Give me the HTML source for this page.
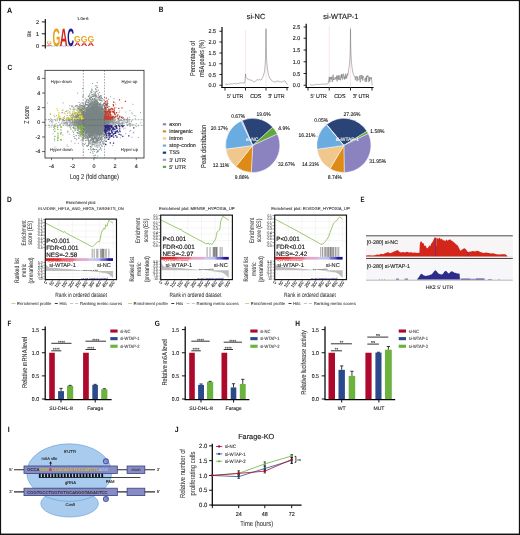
<!DOCTYPE html>
<html><head><meta charset="utf-8"><title>Figure</title>
<style>
html,body{margin:0;padding:0;background:#fff;}
body{width:520px;height:535px;overflow:hidden;font-family:"Liberation Sans",sans-serif;}
svg{display:block;position:absolute;left:0;top:0;}
svg text{font-family:"Liberation Sans",sans-serif;text-rendering:geometricPrecision;}
.frame{position:absolute;left:0;top:0;width:518px;height:532.5px;border-style:solid;border-color:#111;border-width:1px 1px 1.5px 1px;}
</style></head><body>
<svg width="520" height="535" viewBox="0 0 520 535">
<rect x="0" y="0" width="520" height="535" fill="#ffffff"/>
<g opacity="0.999">
<line x1="45.30" y1="18.90" x2="45.30" y2="48.60" stroke="#000" stroke-width="1.1"/>
<line x1="41.80" y1="21.90" x2="45.30" y2="21.90" stroke="#000" stroke-width="0.9"/>
<text transform="translate(39.00,23.85)" font-size="5.5" text-anchor="end" fill="#1c1c1c" stroke="#1c1c1c" stroke-width="0.121">2</text>
<line x1="41.80" y1="33.80" x2="45.30" y2="33.80" stroke="#000" stroke-width="0.9"/>
<text transform="translate(39.00,35.75)" font-size="5.5" text-anchor="end" fill="#1c1c1c" stroke="#1c1c1c" stroke-width="0.121">1</text>
<line x1="41.80" y1="45.80" x2="45.30" y2="45.80" stroke="#000" stroke-width="0.9"/>
<text transform="translate(39.00,47.75)" font-size="5.5" text-anchor="end" fill="#1c1c1c" stroke="#1c1c1c" stroke-width="0.121">0</text>
<text transform="translate(30.90,34.00) rotate(-90) scale(0.9,1)" font-size="5.2" text-anchor="middle" fill="#1c1c1c" stroke="#1c1c1c" stroke-width="0.114">Bit</text>
<text transform="translate(77.00,19.80)" font-size="4.1" text-anchor="start" fill="#1c1c1c" stroke="#1c1c1c" stroke-width="0.090">1.0e-6</text>
<text transform="translate(52.40,45.50) scale(1.003,2.524)" font-size="10.0" font-weight="bold" fill="#e8a21c">G</text>
<text transform="translate(59.80,45.50) scale(1.080,2.524)" font-size="10.0" font-weight="bold" fill="#d4281c">A</text>
<text transform="translate(67.20,45.50) scale(0.942,2.524)" font-size="10.0" font-weight="bold" fill="#1c1c8c">C</text>
<text transform="translate(74.00,42.40) scale(0.861,0.850)" font-size="10.0" font-weight="bold" fill="#e8a21c">G</text>
<text transform="translate(74.00,45.90) scale(0.928,0.521)" font-size="10.0" font-weight="bold" fill="#d4281c">A</text>
<text transform="translate(80.75,42.40) scale(0.861,0.850)" font-size="10.0" font-weight="bold" fill="#e8a21c">G</text>
<text transform="translate(80.75,45.90) scale(0.928,0.521)" font-size="10.0" font-weight="bold" fill="#d4281c">A</text>
<text transform="translate(87.50,42.40) scale(0.861,0.850)" font-size="10.0" font-weight="bold" fill="#e8a21c">G</text>
<text transform="translate(87.50,45.90) scale(0.928,0.521)" font-size="10.0" font-weight="bold" fill="#d4281c">A</text>
<text transform="translate(46.40,44.20) scale(0.720,0.412)" font-size="10.0" font-weight="bold" fill="#e8a21c">G</text>
<text transform="translate(46.40,45.80) scale(0.776,0.233)" font-size="10.0" font-weight="bold" fill="#d4281c">A</text>
<line x1="45.50" y1="46.00" x2="74.00" y2="46.00" stroke="#5a66c8" stroke-width="0.55" stroke-dasharray="1.6 1.1"/>
<line x1="47.10" y1="46.00" x2="74.00" y2="46.00" stroke="#d8c840" stroke-width="0.55" stroke-dasharray="0.7 4.7"/>
<line x1="222.00" y1="27.00" x2="222.00" y2="88.10" stroke="#000" stroke-width="1.2"/>
<line x1="221.45" y1="87.50" x2="288.60" y2="87.50" stroke="#000" stroke-width="1.2"/>
<line x1="219.40" y1="31.25" x2="222.00" y2="31.25" stroke="#111" stroke-width="0.9"/>
<text transform="translate(216.00,33.25) scale(0.92,1)" font-size="5.8" text-anchor="end" fill="#1c1c1c" stroke="#1c1c1c" stroke-width="0.128">2.5</text>
<line x1="219.40" y1="42.00" x2="222.00" y2="42.00" stroke="#111" stroke-width="0.9"/>
<text transform="translate(216.00,44.00) scale(0.92,1)" font-size="5.8" text-anchor="end" fill="#1c1c1c" stroke="#1c1c1c" stroke-width="0.128">2.0</text>
<line x1="219.40" y1="53.00" x2="222.00" y2="53.00" stroke="#111" stroke-width="0.9"/>
<text transform="translate(216.00,55.00) scale(0.92,1)" font-size="5.8" text-anchor="end" fill="#1c1c1c" stroke="#1c1c1c" stroke-width="0.128">1.5</text>
<line x1="219.40" y1="63.75" x2="222.00" y2="63.75" stroke="#111" stroke-width="0.9"/>
<text transform="translate(216.00,65.75) scale(0.92,1)" font-size="5.8" text-anchor="end" fill="#1c1c1c" stroke="#1c1c1c" stroke-width="0.128">1.0</text>
<line x1="219.40" y1="74.50" x2="222.00" y2="74.50" stroke="#111" stroke-width="0.9"/>
<text transform="translate(216.00,76.50) scale(0.92,1)" font-size="5.8" text-anchor="end" fill="#1c1c1c" stroke="#1c1c1c" stroke-width="0.128">0.5</text>
<line x1="219.40" y1="85.25" x2="222.00" y2="85.25" stroke="#111" stroke-width="0.9"/>
<text transform="translate(216.00,87.25) scale(0.92,1)" font-size="5.8" text-anchor="end" fill="#1c1c1c" stroke="#1c1c1c" stroke-width="0.128">0.0</text>
<line x1="225.00" y1="87.50" x2="225.00" y2="90.50" stroke="#111" stroke-width="0.9"/>
<line x1="245.50" y1="87.50" x2="245.50" y2="90.50" stroke="#111" stroke-width="0.9"/>
<line x1="266.00" y1="87.50" x2="266.00" y2="90.50" stroke="#111" stroke-width="0.9"/>
<line x1="287.00" y1="87.50" x2="287.00" y2="90.50" stroke="#111" stroke-width="0.9"/>
<text transform="translate(235.25,98.20) scale(0.95,1)" font-size="5.6" text-anchor="middle" fill="#1c1c1c" stroke="#1c1c1c" stroke-width="0.123">5' UTR</text>
<text transform="translate(255.75,98.20) scale(0.95,1)" font-size="5.6" text-anchor="middle" fill="#1c1c1c" stroke="#1c1c1c" stroke-width="0.123">CDS</text>
<text transform="translate(276.50,98.20) scale(0.95,1)" font-size="5.6" text-anchor="middle" fill="#1c1c1c" stroke="#1c1c1c" stroke-width="0.123">3' UTR</text>
<line x1="245.50" y1="30.05" x2="245.50" y2="87.50" stroke="#f4cccc" stroke-width="0.5"/>
<line x1="266.00" y1="30.05" x2="266.00" y2="87.50" stroke="#f4cccc" stroke-width="0.5"/>
<text transform="translate(256.00,19.20)" font-size="7.4" text-anchor="middle" fill="#222" stroke="#222" stroke-width="0.163">si-NC</text>
<polyline points="225.00,84.56 225.50,84.32 226.00,84.39 226.50,84.21 227.00,84.15 227.50,84.48 228.00,84.47 228.50,83.90 229.00,84.24 229.50,84.22 230.00,83.69 230.50,83.99 231.00,83.71 231.50,83.91 232.00,83.77 232.50,84.05 233.00,83.69 233.50,83.50 234.00,83.69 234.50,83.51 235.00,83.52 235.50,83.87 236.00,83.39 236.50,83.46 237.00,83.61 237.50,83.74 238.00,83.17 238.50,83.38 239.00,83.19 239.50,83.04 240.00,83.11 240.50,82.94 241.00,83.24 241.50,82.94 242.00,83.14 242.50,82.78 243.00,82.78 243.50,83.25 244.00,83.19 244.50,83.10 245.00,80.93 245.50,74.02 246.00,77.47 247.00,78.55 248.50,79.42 249.50,80.06 250.10,80.08 250.70,79.74 251.30,80.15 251.90,80.38 252.50,81.04 253.10,81.62 253.70,81.81 254.30,81.94 254.90,81.47 255.50,81.23 256.10,80.44 256.70,79.97 257.30,79.50 257.90,79.72 258.50,80.07 259.10,79.55 259.70,79.65 260.30,79.82 260.90,80.03 261.50,79.52 262.50,77.47 263.50,75.53 264.60,71.21 265.20,64.73 265.60,56.09 265.85,42.05 266.00,28.66 266.15,42.05 266.40,55.01 266.90,63.65 267.60,70.13 268.60,75.53 270.00,78.77 272.00,80.50 273.00,81.63 273.60,81.48 274.20,81.86 274.80,82.15 275.40,82.24 276.00,81.54 276.60,81.20 277.20,81.55 277.80,80.96 278.40,81.23 279.00,81.56 279.60,81.71 280.20,81.65 280.80,81.74 281.40,82.29 282.00,81.80 282.60,81.93 283.20,81.25 283.80,81.31 284.40,80.90 285.00,80.93 286.20,82.66 287.40,84.82" fill="none" stroke="#6e6e6e" stroke-width="0.5" stroke-linejoin="round"/>
<text transform="translate(195.20,58.50) rotate(-90) scale(0.78,1)" font-size="7.2" text-anchor="middle" fill="#1c1c1c" stroke="#1c1c1c" stroke-width="0.058">Percentage of</text>
<text transform="translate(204.40,58.50) rotate(-90) scale(0.76,1)" font-size="7.2" text-anchor="middle" fill="#1c1c1c" stroke="#1c1c1c" stroke-width="0.058">m6A peaks (%)</text>
<line x1="306.20" y1="23.75" x2="306.20" y2="88.10" stroke="#000" stroke-width="1.2"/>
<line x1="305.65" y1="87.50" x2="373.60" y2="87.50" stroke="#000" stroke-width="1.2"/>
<line x1="303.60" y1="27.00" x2="306.20" y2="27.00" stroke="#111" stroke-width="0.9"/>
<text transform="translate(300.20,29.00) scale(0.92,1)" font-size="5.8" text-anchor="end" fill="#1c1c1c" stroke="#1c1c1c" stroke-width="0.128">2.5</text>
<line x1="303.60" y1="38.25" x2="306.20" y2="38.25" stroke="#111" stroke-width="0.9"/>
<text transform="translate(300.20,40.25) scale(0.92,1)" font-size="5.8" text-anchor="end" fill="#1c1c1c" stroke="#1c1c1c" stroke-width="0.128">2.0</text>
<line x1="303.60" y1="50.00" x2="306.20" y2="50.00" stroke="#111" stroke-width="0.9"/>
<text transform="translate(300.20,52.00) scale(0.92,1)" font-size="5.8" text-anchor="end" fill="#1c1c1c" stroke="#1c1c1c" stroke-width="0.128">1.5</text>
<line x1="303.60" y1="61.75" x2="306.20" y2="61.75" stroke="#111" stroke-width="0.9"/>
<text transform="translate(300.20,63.75) scale(0.92,1)" font-size="5.8" text-anchor="end" fill="#1c1c1c" stroke="#1c1c1c" stroke-width="0.128">1.0</text>
<line x1="303.60" y1="73.50" x2="306.20" y2="73.50" stroke="#111" stroke-width="0.9"/>
<text transform="translate(300.20,75.50) scale(0.92,1)" font-size="5.8" text-anchor="end" fill="#1c1c1c" stroke="#1c1c1c" stroke-width="0.128">0.5</text>
<line x1="303.60" y1="85.25" x2="306.20" y2="85.25" stroke="#111" stroke-width="0.9"/>
<text transform="translate(300.20,87.25) scale(0.92,1)" font-size="5.8" text-anchor="end" fill="#1c1c1c" stroke="#1c1c1c" stroke-width="0.128">0.0</text>
<line x1="308.00" y1="87.50" x2="308.00" y2="90.50" stroke="#111" stroke-width="0.9"/>
<line x1="329.25" y1="87.50" x2="329.25" y2="90.50" stroke="#111" stroke-width="0.9"/>
<line x1="350.50" y1="87.50" x2="350.50" y2="90.50" stroke="#111" stroke-width="0.9"/>
<line x1="372.00" y1="87.50" x2="372.00" y2="90.50" stroke="#111" stroke-width="0.9"/>
<text transform="translate(318.62,98.20) scale(0.95,1)" font-size="5.6" text-anchor="middle" fill="#1c1c1c" stroke="#1c1c1c" stroke-width="0.123">5' UTR</text>
<text transform="translate(339.88,98.20) scale(0.95,1)" font-size="5.6" text-anchor="middle" fill="#1c1c1c" stroke="#1c1c1c" stroke-width="0.123">CDS</text>
<text transform="translate(361.25,98.20) scale(0.95,1)" font-size="5.6" text-anchor="middle" fill="#1c1c1c" stroke="#1c1c1c" stroke-width="0.123">3' UTR</text>
<line x1="329.25" y1="25.80" x2="329.25" y2="87.50" stroke="#f4cccc" stroke-width="0.5"/>
<line x1="350.50" y1="25.80" x2="350.50" y2="87.50" stroke="#f4cccc" stroke-width="0.5"/>
<text transform="translate(340.80,19.20)" font-size="7.4" text-anchor="middle" fill="#222" stroke="#222" stroke-width="0.163">si-WTAP-1</text>
<polyline points="310.00,85.01 310.50,84.71 311.00,85.06 311.50,85.16 312.00,84.83 312.50,85.12 313.00,84.99 313.50,84.84 314.00,84.70 314.50,84.92 315.00,84.95 315.50,84.46 316.00,84.73 316.50,84.34 317.00,84.34 317.50,84.60 318.00,84.52 318.50,84.46 319.00,84.35 319.50,84.35 320.00,84.34 320.50,84.27 321.00,84.06 321.50,84.27 322.00,84.28 322.50,84.08 323.00,84.32 323.50,84.25 324.00,83.84 324.50,84.07 325.00,84.02 325.50,84.29 326.00,84.03 326.50,83.90 327.00,84.19 327.50,83.82 328.20,83.39 328.80,80.12 329.20,76.86 329.50,77.68 329.83,82.16 330.16,77.62 330.49,78.85 330.82,77.12 331.15,79.66 331.48,76.81 331.81,76.51 332.14,82.14 332.47,81.79 332.80,76.87 333.13,74.54 333.46,80.14 333.79,78.47 334.12,77.34 334.45,79.45 334.78,79.06 335.11,79.42 335.44,78.92 335.77,77.08 336.10,79.38 336.43,78.72 336.76,75.54 337.09,81.40 337.42,77.06 337.75,75.70 338.08,79.02 338.41,79.67 338.74,75.01 339.07,79.44 339.40,79.80 339.73,77.79 340.06,75.67 340.39,80.34 340.72,78.55 341.05,78.41 341.38,74.41 341.71,77.49 342.04,74.14 342.37,79.53 342.70,78.16 343.03,75.63 343.36,73.72 343.69,77.11 344.02,78.85 344.35,79.63 344.68,76.35 345.01,78.99 345.34,74.06 345.67,73.76 346.00,78.90 346.30,75.46 346.80,77.79 347.30,73.60 347.80,75.46 348.40,71.27 349.00,67.78 349.60,63.12 350.10,54.96 350.35,40.98 350.50,28.86 350.65,40.98 350.95,53.80 351.40,60.78 351.90,66.61 352.50,70.80 353.20,73.60 354.00,75.46 355.00,77.56 355.40,80.21 355.73,76.39 356.06,77.58 356.39,76.40 356.72,79.73 357.05,81.28 357.38,80.11 357.71,76.49 358.04,80.26 358.37,79.72 358.70,79.21 359.03,79.19 359.36,79.26 359.69,75.57 360.02,81.09 360.35,82.19 360.68,75.41 361.01,75.86 361.34,75.09 361.67,79.08 362.00,75.36 362.33,75.52 362.66,80.62 362.99,76.84 363.32,76.18 363.65,77.43 363.98,78.47 364.31,80.13 364.64,79.76 364.97,80.58 365.30,81.73 365.63,77.97 365.96,80.15 366.29,76.37 366.62,81.90 366.95,75.69 367.28,77.21 367.61,75.55 367.94,75.75 368.27,75.72 368.60,78.05 368.93,82.13 369.26,76.84 369.59,80.98 369.92,80.05 370.25,77.43 370.58,78.43 370.91,79.23 371.40,77.09 371.80,81.75 372.30,85.25" fill="none" stroke="#6e6e6e" stroke-width="0.5" stroke-linejoin="round"/>
<rect x="162.80" y="123.20" width="3.30" height="2.15" fill="#8b83bf"/>
<text transform="translate(169.20,126.05)" font-size="5.4" text-anchor="start" fill="#1c1c1c" stroke="#1c1c1c" stroke-width="0.119">exon</text>
<rect x="162.80" y="130.30" width="3.30" height="2.15" fill="#dd8a16"/>
<text transform="translate(169.20,133.15)" font-size="5.4" text-anchor="start" fill="#1c1c1c" stroke="#1c1c1c" stroke-width="0.119">intergenic</text>
<rect x="162.80" y="137.40" width="3.30" height="2.15" fill="#f0c88e"/>
<text transform="translate(169.20,140.25)" font-size="5.4" text-anchor="start" fill="#1c1c1c" stroke="#1c1c1c" stroke-width="0.119">intron</text>
<rect x="162.80" y="144.50" width="3.30" height="2.15" fill="#6aace0"/>
<text transform="translate(169.20,147.35)" font-size="5.4" text-anchor="start" fill="#1c1c1c" stroke="#1c1c1c" stroke-width="0.119">stop-codon</text>
<rect x="162.80" y="151.60" width="3.30" height="2.15" fill="#1c3470"/>
<text transform="translate(169.20,154.45)" font-size="5.4" text-anchor="start" fill="#1c1c1c" stroke="#1c1c1c" stroke-width="0.119">TSS</text>
<rect x="162.80" y="158.70" width="3.30" height="2.15" fill="#9a98cc"/>
<text transform="translate(169.20,161.55)" font-size="5.4" text-anchor="start" fill="#1c1c1c" stroke="#1c1c1c" stroke-width="0.119">3' UTR</text>
<rect x="162.80" y="165.80" width="3.30" height="2.15" fill="#62a83a"/>
<text transform="translate(169.20,168.65)" font-size="5.4" text-anchor="start" fill="#1c1c1c" stroke="#1c1c1c" stroke-width="0.119">5' UTR</text>
<text transform="translate(205.70,146.30) rotate(-90) scale(0.8,1)" font-size="7.3" text-anchor="middle" fill="#1c1c1c" stroke="#1c1c1c" stroke-width="0.058">Peak distribution</text>
<path d="M252.70,145.40 L242.18,120.43 A27.1,27.1 0 0 1 272.75,127.16 Z" fill="#2a4478" stroke="#fff" stroke-width="0.45" stroke-linejoin="round"/>
<path d="M252.70,145.40 L272.75,127.16 A27.1,27.1 0 0 1 277.33,134.10 Z" fill="#62a83a" stroke="#fff" stroke-width="0.45" stroke-linejoin="round"/>
<path d="M252.70,145.40 L277.33,134.10 A27.1,27.1 0 0 1 251.30,172.46 Z" fill="#8b83bf" stroke="#fff" stroke-width="0.45" stroke-linejoin="round"/>
<path d="M252.70,145.40 L251.30,172.46 A27.1,27.1 0 0 1 235.82,166.60 Z" fill="#dd8a16" stroke="#fff" stroke-width="0.45" stroke-linejoin="round"/>
<path d="M252.70,145.40 L235.82,166.60 A27.1,27.1 0 0 1 225.86,149.11 Z" fill="#f0c88e" stroke="#fff" stroke-width="0.45" stroke-linejoin="round"/>
<path d="M252.70,145.40 L225.86,149.11 A27.1,27.1 0 0 1 241.13,120.89 Z" fill="#6aace0" stroke="#fff" stroke-width="0.45" stroke-linejoin="round"/>
<path d="M252.70,145.40 L241.13,120.89 A27.1,27.1 0 0 1 242.18,120.43 Z" fill="#a8a4d4" stroke="#fff" stroke-width="0.45" stroke-linejoin="round"/>
<text transform="translate(238.20,117.55) scale(0.94,1)" font-size="5.3" text-anchor="middle" fill="#1c1c1c" stroke="#1c1c1c" stroke-width="0.117">0.67%</text>
<text transform="translate(263.50,116.45) scale(0.94,1)" font-size="5.3" text-anchor="middle" fill="#1c1c1c" stroke="#1c1c1c" stroke-width="0.117">19.6%</text>
<text transform="translate(283.90,129.85) scale(0.94,1)" font-size="5.3" text-anchor="middle" fill="#1c1c1c" stroke="#1c1c1c" stroke-width="0.117">4.9%</text>
<text transform="translate(219.20,129.85) scale(0.94,1)" font-size="5.3" text-anchor="middle" fill="#1c1c1c" stroke="#1c1c1c" stroke-width="0.117">20.17%</text>
<text transform="translate(221.00,166.75) scale(0.94,1)" font-size="5.3" text-anchor="middle" fill="#1c1c1c" stroke="#1c1c1c" stroke-width="0.117">12.11%</text>
<text transform="translate(286.40,165.55) scale(0.94,1)" font-size="5.3" text-anchor="middle" fill="#1c1c1c" stroke="#1c1c1c" stroke-width="0.117">32.67%</text>
<text transform="translate(241.80,178.55) scale(0.94,1)" font-size="5.3" text-anchor="middle" fill="#1c1c1c" stroke="#1c1c1c" stroke-width="0.117">9.88%</text>
<text transform="translate(252.20,141.40)" font-size="4.9" text-anchor="middle" fill="#ffffff" stroke="#ffffff" stroke-width="0.108">si-NC</text>
<line x1="240.50" y1="118.50" x2="242.50" y2="120.60" stroke="#888" stroke-width="0.35"/>
<line x1="262.50" y1="117.30" x2="261.50" y2="119.60" stroke="#888" stroke-width="0.35"/>
<line x1="279.20" y1="129.60" x2="277.00" y2="131.60" stroke="#888" stroke-width="0.35"/>
<line x1="226.20" y1="130.20" x2="228.40" y2="131.40" stroke="#888" stroke-width="0.35"/>
<line x1="228.60" y1="164.40" x2="230.40" y2="162.60" stroke="#888" stroke-width="0.35"/>
<line x1="278.60" y1="163.00" x2="276.40" y2="161.00" stroke="#888" stroke-width="0.35"/>
<line x1="241.40" y1="174.80" x2="241.00" y2="172.60" stroke="#888" stroke-width="0.35"/>
<path d="M343.85,145.40 L326.58,124.52 A27.1,27.1 0 0 1 366.97,131.25 Z" fill="#2a4478" stroke="#fff" stroke-width="0.45" stroke-linejoin="round"/>
<path d="M343.85,145.40 L366.97,131.25 A27.1,27.1 0 0 1 368.25,133.62 Z" fill="#62a83a" stroke="#fff" stroke-width="0.45" stroke-linejoin="round"/>
<path d="M343.85,145.40 L368.25,133.62 A27.1,27.1 0 0 1 344.21,172.50 Z" fill="#8b83bf" stroke="#fff" stroke-width="0.45" stroke-linejoin="round"/>
<path d="M343.85,145.40 L344.21,172.50 A27.1,27.1 0 0 1 330.01,168.70 Z" fill="#dd8a16" stroke="#fff" stroke-width="0.45" stroke-linejoin="round"/>
<path d="M343.85,145.40 L330.01,168.70 A27.1,27.1 0 0 1 317.02,149.24 Z" fill="#f0c88e" stroke="#fff" stroke-width="0.45" stroke-linejoin="round"/>
<path d="M343.85,145.40 L317.02,149.24 A27.1,27.1 0 0 1 326.51,124.57 Z" fill="#6aace0" stroke="#fff" stroke-width="0.45" stroke-linejoin="round"/>
<path d="M343.85,145.40 L326.51,124.57 A27.1,27.1 0 0 1 326.58,124.52 Z" fill="#a8a4d4" stroke="#fff" stroke-width="0.45" stroke-linejoin="round"/>
<text transform="translate(351.90,116.45) scale(0.94,1)" font-size="5.3" text-anchor="middle" fill="#1c1c1c" stroke="#1c1c1c" stroke-width="0.117">27.26%</text>
<text transform="translate(321.20,122.45) scale(0.94,1)" font-size="5.3" text-anchor="middle" fill="#1c1c1c" stroke="#1c1c1c" stroke-width="0.117">0.05%</text>
<text transform="translate(377.30,133.25) scale(0.94,1)" font-size="5.3" text-anchor="middle" fill="#1c1c1c" stroke="#1c1c1c" stroke-width="0.117">1.58%</text>
<text transform="translate(306.90,137.25) scale(0.94,1)" font-size="5.3" text-anchor="middle" fill="#1c1c1c" stroke="#1c1c1c" stroke-width="0.117">16.21%</text>
<text transform="translate(310.40,166.25) scale(0.94,1)" font-size="5.3" text-anchor="middle" fill="#1c1c1c" stroke="#1c1c1c" stroke-width="0.117">14.21%</text>
<text transform="translate(377.80,163.25) scale(0.94,1)" font-size="5.3" text-anchor="middle" fill="#1c1c1c" stroke="#1c1c1c" stroke-width="0.117">31.95%</text>
<text transform="translate(334.90,179.15) scale(0.94,1)" font-size="5.3" text-anchor="middle" fill="#1c1c1c" stroke="#1c1c1c" stroke-width="0.117">8.74%</text>
<text transform="translate(347.30,141.40)" font-size="4.9" text-anchor="middle" fill="#ffffff" stroke="#ffffff" stroke-width="0.108">si-WTAP-1</text>
<line x1="350.00" y1="117.30" x2="349.40" y2="119.00" stroke="#888" stroke-width="0.35"/>
<line x1="324.60" y1="122.80" x2="326.40" y2="124.60" stroke="#888" stroke-width="0.35"/>
<line x1="372.00" y1="131.60" x2="369.80" y2="132.40" stroke="#888" stroke-width="0.35"/>
<line x1="315.60" y1="136.00" x2="318.00" y2="137.00" stroke="#888" stroke-width="0.35"/>
<line x1="317.60" y1="163.60" x2="319.60" y2="161.80" stroke="#888" stroke-width="0.35"/>
<line x1="370.60" y1="160.40" x2="368.40" y2="158.60" stroke="#888" stroke-width="0.35"/>
<line x1="336.80" y1="176.20" x2="337.60" y2="173.40" stroke="#888" stroke-width="0.35"/>
<clipPath id="cC"><rect x="45.0" y="70.3" width="99.0" height="87.7"/></clipPath>
<g clip-path="url(#cC)">
<path d="M81.8 121.1h.01M92.6 120.9h.01M82.7 120.5h.01M87.0 123.5h.01M138.3 125.8h.01M107.7 124.2h.01M84.6 119.6h.01M69.7 119.9h.01M67.8 125.4h.01M88.0 122.2h.01M65.6 122.4h.01M104.7 126.8h.01M103.8 119.1h.01M69.7 123.9h.01M103.1 121.7h.01M80.3 122.2h.01M115.5 124.7h.01M97.6 124.7h.01M78.5 125.2h.01M88.6 120.1h.01M81.2 118.1h.01M80.3 125.1h.01M91.7 120.1h.01M91.6 124.2h.01M109.8 120.0h.01M130.4 125.2h.01M96.4 120.7h.01M109.1 121.8h.01M49.1 119.6h.01M110.7 118.2h.01M109.6 126.6h.01M108.7 122.7h.01M90.3 130.2h.01M71.7 115.2h.01M90.7 124.7h.01M80.8 120.3h.01M74.6 120.1h.01M86.4 121.9h.01M88.6 121.5h.01M80.6 119.8h.01M119.5 122.2h.01M103.3 122.9h.01M90.9 122.6h.01M103.2 120.6h.01M95.6 122.3h.01M85.2 120.1h.01M84.9 126.0h.01M79.2 120.5h.01M86.5 121.5h.01M87.9 120.0h.01M129.9 126.3h.01M98.3 125.1h.01M96.9 122.5h.01M103.9 121.0h.01M82.1 118.0h.01M110.2 122.5h.01M102.5 124.2h.01M100.7 125.1h.01M73.9 121.5h.01M108.4 119.7h.01M107.0 125.3h.01M90.0 119.9h.01M98.3 121.8h.01M88.3 126.6h.01M105.3 121.1h.01M99.9 126.4h.01M80.6 125.5h.01M86.1 120.9h.01M63.2 119.4h.01M96.5 119.6h.01M90.9 118.8h.01M73.7 128.1h.01M82.3 124.6h.01M113.7 120.9h.01M116.2 125.8h.01M98.1 122.6h.01M108.8 118.5h.01M107.2 125.5h.01M95.1 117.8h.01M82.7 116.5h.01M88.3 124.8h.01M95.3 123.8h.01M94.0 122.3h.01M98.4 121.4h.01M109.7 123.5h.01M90.1 122.0h.01M102.8 120.7h.01M66.6 122.6h.01M50.8 118.7h.01M107.5 122.2h.01M107.1 119.1h.01M85.1 123.1h.01M100.7 125.4h.01M109.3 121.8h.01M113.8 118.4h.01M73.5 124.7h.01M99.9 121.1h.01M112.8 121.1h.01M82.7 125.7h.01M77.6 122.8h.01M123.4 119.7h.01M75.6 125.1h.01M92.0 118.7h.01M114.5 122.8h.01M94.9 125.4h.01M98.9 122.2h.01M71.8 119.7h.01M93.1 123.8h.01M95.4 123.6h.01M100.1 125.8h.01M86.9 121.2h.01M94.3 117.2h.01M120.2 120.3h.01M73.0 125.1h.01M72.4 120.7h.01M110.3 120.3h.01M96.4 121.8h.01M115.9 122.7h.01M91.2 122.0h.01M86.2 122.9h.01M68.5 118.4h.01M94.1 126.0h.01M86.5 126.2h.01M116.5 122.3h.01M90.1 125.2h.01M131.8 120.7h.01M85.8 120.8h.01M102.1 120.2h.01M94.5 119.4h.01M86.6 121.0h.01M88.6 127.3h.01M129.3 119.6h.01M85.5 121.4h.01M71.2 123.9h.01M98.8 120.4h.01M86.4 123.4h.01M85.1 117.8h.01M120.7 120.4h.01M105.7 122.4h.01M83.7 124.7h.01M78.2 123.3h.01M122.5 122.6h.01M87.3 116.8h.01M74.5 124.6h.01M89.0 117.6h.01M92.5 121.6h.01M67.0 121.2h.01M96.6 124.1h.01M72.4 122.5h.01M103.9 121.8h.01M100.7 114.9h.01M94.3 125.4h.01M106.4 120.1h.01M105.4 126.0h.01M110.6 122.4h.01M78.4 123.1h.01M80.5 124.1h.01M85.9 129.6h.01M90.9 123.0h.01M111.0 121.8h.01M114.5 122.7h.01M88.6 128.5h.01M72.9 123.1h.01M89.5 122.8h.01M80.9 120.1h.01M96.8 122.8h.01M83.7 119.4h.01M74.9 121.6h.01M85.3 121.2h.01M77.9 124.3h.01M111.1 121.2h.01M78.4 127.3h.01M113.1 125.0h.01M95.0 125.4h.01M78.2 125.5h.01M101.3 127.7h.01M127.6 120.5h.01M107.2 119.5h.01M103.8 119.9h.01M109.1 115.2h.01M118.7 119.6h.01M112.3 123.2h.01M83.5 122.2h.01M98.5 126.5h.01M101.5 123.7h.01M104.8 123.5h.01M64.2 123.1h.01M67.8 126.6h.01M120.8 123.5h.01M103.0 120.1h.01M104.2 119.2h.01M116.0 122.1h.01M98.2 118.9h.01M93.2 119.4h.01M95.1 124.3h.01M128.8 121.1h.01M120.6 123.9h.01M109.1 118.7h.01M96.3 122.8h.01M98.4 124.3h.01M84.8 121.0h.01M85.6 117.0h.01M117.1 123.5h.01M88.0 122.3h.01M102.9 121.6h.01M76.8 124.6h.01M90.3 121.2h.01M85.8 125.0h.01M81.8 120.1h.01M82.7 122.4h.01M87.7 118.6h.01M99.6 120.0h.01M126.7 123.0h.01M88.2 126.1h.01M96.9 119.5h.01M70.0 125.0h.01M88.4 123.0h.01M107.8 124.0h.01M111.9 120.3h.01M77.0 127.9h.01M89.6 119.9h.01M85.8 125.4h.01M88.7 116.6h.01M57.1 126.1h.01M105.9 121.0h.01M117.3 116.9h.01M109.7 122.7h.01M120.0 123.1h.01M118.5 124.9h.01M105.0 122.1h.01M76.5 122.5h.01M131.0 124.9h.01M74.9 120.8h.01M77.5 117.7h.01M92.4 119.7h.01M106.4 122.8h.01M105.8 119.6h.01M86.7 127.2h.01M90.1 120.1h.01M73.9 116.6h.01M102.8 125.0h.01M106.0 123.0h.01M67.1 122.9h.01M60.4 118.5h.01M103.6 121.6h.01M108.9 119.6h.01M99.6 121.8h.01M119.9 119.9h.01M127.1 124.5h.01M83.0 123.5h.01M109.5 126.0h.01M91.5 119.9h.01M108.6 119.9h.01M96.4 124.5h.01M90.3 120.0h.01M94.1 123.6h.01M108.4 120.4h.01M91.6 121.0h.01M97.6 119.7h.01M80.0 124.8h.01M78.4 124.2h.01M91.8 123.5h.01M96.2 122.2h.01M101.4 122.1h.01M77.5 115.4h.01M78.7 118.3h.01M92.9 120.9h.01M127.2 122.5h.01M78.1 123.8h.01M103.6 124.6h.01M104.2 122.9h.01M92.0 123.0h.01M109.6 123.5h.01M101.1 123.3h.01M77.3 122.3h.01M75.9 123.8h.01M84.7 126.7h.01M90.7 124.4h.01M100.4 119.6h.01M119.7 121.2h.01M116.4 122.1h.01M102.5 118.7h.01M86.0 122.1h.01M84.5 124.1h.01M71.3 117.8h.01M80.2 121.2h.01M103.2 124.7h.01M71.2 122.8h.01M110.4 122.0h.01M84.9 123.1h.01M102.2 124.8h.01M64.5 120.7h.01M84.4 125.2h.01M104.2 122.5h.01M81.5 124.7h.01M69.4 122.0h.01M110.5 122.5h.01M101.4 121.6h.01M79.1 125.6h.01M81.5 123.5h.01M136.2 126.6h.01M100.1 117.4h.01M105.9 120.5h.01M128.6 124.2h.01M90.1 122.7h.01M106.2 119.6h.01M118.3 121.7h.01M84.3 125.6h.01M101.9 123.5h.01M109.4 119.4h.01M103.1 121.2h.01M88.8 120.0h.01M111.6 123.1h.01M82.7 126.8h.01M108.0 118.4h.01M118.4 117.3h.01M104.7 123.3h.01M102.7 117.3h.01M95.6 121.8h.01M97.8 121.2h.01M69.6 120.3h.01M107.0 119.2h.01M107.3 123.3h.01M101.0 120.6h.01M102.7 124.3h.01M75.0 123.8h.01M57.3 120.8h.01M98.6 117.4h.01M92.4 120.0h.01M86.5 119.1h.01M103.9 121.0h.01M76.2 121.0h.01M99.9 116.9h.01M91.3 119.0h.01M96.5 121.0h.01M91.8 124.1h.01M84.9 123.5h.01M95.0 118.0h.01M67.3 120.1h.01M84.9 126.6h.01M80.7 121.6h.01M83.0 124.3h.01M93.9 121.8h.01M98.0 119.6h.01M82.1 118.4h.01M89.1 122.7h.01M96.4 121.8h.01M86.1 117.8h.01M85.4 126.0h.01M84.5 122.0h.01M119.5 125.3h.01M84.7 119.3h.01M107.7 120.7h.01M101.3 121.9h.01M110.4 120.3h.01M81.3 124.1h.01M100.5 122.6h.01M119.8 125.5h.01M72.2 117.4h.01M97.5 121.5h.01M107.3 119.2h.01M70.0 119.1h.01M56.2 123.4h.01M83.8 121.4h.01M81.8 121.4h.01M69.0 120.0h.01M118.3 126.2h.01M112.6 125.0h.01M103.8 121.5h.01M95.6 117.1h.01M84.5 119.1h.01M105.6 123.1h.01M96.1 125.5h.01M90.8 119.8h.01M105.2 123.9h.01M91.4 122.4h.01M85.7 119.2h.01M107.3 118.5h.01M102.3 120.6h.01M123.3 122.3h.01M60.3 118.4h.01M97.4 122.8h.01M98.0 122.2h.01M96.8 122.8h.01M114.6 122.1h.01M93.7 127.2h.01M112.4 122.5h.01M80.5 121.8h.01M97.0 123.3h.01M101.2 121.2h.01M91.0 127.0h.01M84.1 121.2h.01M88.4 122.2h.01M94.7 120.9h.01M109.7 123.2h.01M103.1 122.7h.01M80.3 120.1h.01M103.0 122.4h.01M125.8 122.7h.01M105.6 123.2h.01M67.5 124.8h.01M91.7 126.1h.01M83.0 121.3h.01M87.2 125.0h.01M117.4 118.4h.01M109.0 120.9h.01M83.1 130.5h.01M89.5 123.6h.01M105.3 124.1h.01M90.9 128.2h.01M86.5 123.7h.01M97.4 121.7h.01M82.7 122.2h.01M111.3 126.5h.01M112.4 120.7h.01M103.5 121.8h.01M79.0 122.9h.01M93.9 120.0h.01M89.0 119.9h.01M114.6 126.4h.01M122.3 120.7h.01M116.3 127.6h.01M103.2 123.4h.01M127.5 121.7h.01M114.1 120.4h.01M97.7 117.6h.01M84.6 121.6h.01M95.0 120.7h.01M85.7 121.4h.01M131.3 121.5h.01M68.0 122.1h.01M89.5 120.9h.01M105.0 124.4h.01M91.9 124.0h.01M87.7 121.3h.01M77.7 117.7h.01M107.4 122.4h.01M90.0 123.9h.01M87.0 121.1h.01M87.5 124.3h.01M83.0 123.0h.01M93.2 124.2h.01M89.0 120.1h.01M88.5 124.4h.01M99.6 123.2h.01M119.3 123.6h.01M107.2 124.5h.01M122.2 125.6h.01M118.8 125.5h.01M77.9 119.5h.01M94.4 125.5h.01M113.5 119.9h.01M112.2 122.5h.01M99.3 119.8h.01M84.5 119.1h.01M79.8 121.0h.01M95.9 126.3h.01M102.1 121.3h.01M113.8 123.9h.01M119.6 118.4h.01M102.0 125.5h.01M79.3 122.0h.01M80.3 124.3h.01M123.9 123.5h.01M85.6 121.1h.01M79.8 118.8h.01M84.9 123.3h.01M75.4 121.1h.01M87.8 121.6h.01M92.5 119.5h.01M114.0 124.5h.01M59.5 120.6h.01M96.8 125.0h.01M99.9 121.4h.01M90.1 124.7h.01M79.5 122.7h.01M104.4 125.8h.01M119.7 123.8h.01M74.1 128.4h.01M109.3 127.4h.01M134.0 124.8h.01M71.6 119.6h.01M88.8 121.5h.01M94.6 122.2h.01M129.2 122.8h.01M105.1 116.1h.01M50.7 120.6h.01M104.5 122.1h.01M118.2 120.6h.01M59.8 124.6h.01M76.1 120.1h.01M85.1 123.2h.01M129.2 121.1h.01M79.1 121.5h.01M87.8 121.4h.01M92.7 125.2h.01M127.8 125.7h.01M106.4 122.2h.01M101.0 123.6h.01M76.2 120.9h.01M88.7 123.6h.01M92.6 122.4h.01M51.7 121.7h.01M94.7 125.6h.01M99.8 115.4h.01M87.9 125.1h.01M81.6 123.5h.01M86.5 123.5h.01M119.4 120.5h.01M97.9 125.4h.01M78.7 123.2h.01M63.6 120.6h.01M97.0 122.0h.01M111.2 121.4h.01M91.6 127.9h.01M76.0 121.0h.01M94.8 121.4h.01M91.7 119.2h.01M98.4 118.3h.01M87.9 125.5h.01M95.7 123.6h.01M98.2 124.5h.01M116.6 123.4h.01M76.4 124.4h.01M98.2 122.6h.01M68.4 120.7h.01M63.9 120.4h.01M76.9 123.8h.01M104.3 123.2h.01M81.9 123.6h.01M123.0 127.0h.01M111.8 126.2h.01M66.9 122.2h.01M97.5 119.3h.01M102.1 122.5h.01M93.9 121.2h.01M97.0 125.2h.01M115.0 128.6h.01M122.1 122.1h.01M85.8 118.5h.01M69.3 125.2h.01M88.2 123.7h.01M94.8 120.0h.01M90.0 120.2h.01M87.9 120.9h.01M82.2 121.9h.01M110.0 122.1h.01M90.1 121.9h.01M60.3 124.1h.01M73.0 121.1h.01M87.4 125.3h.01M74.8 121.1h.01M62.2 121.8h.01M111.0 121.6h.01M70.3 119.8h.01M87.7 122.7h.01M122.7 123.5h.01M79.5 122.8h.01M53.0 122.0h.01M106.3 123.9h.01M103.6 123.9h.01M75.9 120.9h.01M86.4 118.5h.01M64.1 123.5h.01M93.1 124.4h.01M105.1 119.3h.01M100.2 120.6h.01M82.2 120.1h.01M90.5 114.2h.01M76.3 123.0h.01M77.8 123.9h.01M103.8 122.5h.01M90.9 117.5h.01M86.6 121.6h.01M89.0 122.5h.01M118.4 121.8h.01M69.3 120.5h.01M98.3 121.1h.01M87.1 124.0h.01M99.7 123.9h.01M102.5 122.9h.01M104.2 124.9h.01M94.5 129.0h.01M102.3 125.5h.01M105.2 125.9h.01M95.1 118.3h.01M107.5 125.5h.01M87.7 120.8h.01M97.3 124.1h.01M88.3 120.2h.01M113.0 122.1h.01M67.2 118.9h.01M68.3 119.9h.01M88.5 131.3h.01M108.9 117.7h.01M93.6 120.0h.01M127.7 118.9h.01M103.3 123.2h.01M101.0 122.6h.01M124.3 120.1h.01M107.0 125.1h.01M69.6 126.9h.01M118.0 123.8h.01M93.8 121.5h.01M109.4 120.1h.01M95.8 114.9h.01M89.2 118.5h.01M61.7 123.0h.01M113.0 122.4h.01M108.6 122.1h.01M95.0 119.1h.01M107.6 124.4h.01M78.8 122.3h.01M109.3 120.5h.01M100.0 126.2h.01M114.4 120.9h.01M93.6 121.2h.01M99.8 124.1h.01M126.6 119.6h.01M78.6 121.1h.01M82.7 123.7h.01M92.1 117.7h.01M80.6 128.4h.01M92.5 122.3h.01M52.1 123.0h.01M74.4 123.7h.01M83.2 122.9h.01M118.8 123.7h.01M92.8 123.7h.01M96.2 120.7h.01M108.1 120.1h.01M104.7 118.8h.01M69.2 122.2h.01M88.9 119.7h.01M89.8 125.7h.01M99.8 122.7h.01M82.0 122.8h.01M64.4 120.6h.01M106.7 124.7h.01M115.8 120.9h.01M90.8 126.7h.01M104.6 125.3h.01M90.9 120.2h.01M94.5 120.1h.01M93.0 121.0h.01M72.7 123.3h.01M91.1 124.4h.01M90.6 123.2h.01M80.0 124.4h.01M81.6 121.1h.01M99.1 117.3h.01M107.0 124.6h.01M74.4 122.3h.01M115.8 122.8h.01M123.2 120.9h.01M89.3 121.8h.01M95.1 125.1h.01M96.6 121.4h.01M107.9 121.7h.01M82.7 126.8h.01M99.7 120.7h.01M91.0 118.0h.01M85.3 124.8h.01M85.4 123.5h.01M110.2 119.4h.01M90.4 122.0h.01M92.1 124.4h.01M84.5 124.2h.01M93.3 125.2h.01M113.5 124.1h.01M95.5 121.9h.01M88.2 122.9h.01M84.3 121.8h.01M105.7 123.1h.01M62.5 120.2h.01M98.5 119.4h.01M105.6 121.7h.01M105.6 123.7h.01M79.5 117.8h.01M89.6 119.4h.01M81.8 121.0h.01M94.7 120.2h.01M78.2 121.4h.01M92.1 124.4h.01M90.8 120.2h.01M88.2 116.9h.01M124.6 121.8h.01M85.3 115.9h.01M117.6 121.3h.01M74.7 122.7h.01M131.9 124.0h.01M103.6 123.2h.01M85.2 116.8h.01M71.1 120.9h.01M72.8 122.4h.01M80.9 126.7h.01M89.5 122.2h.01M99.8 117.5h.01M114.3 123.0h.01M80.4 121.8h.01M78.4 124.0h.01M87.9 121.7h.01M87.4 118.5h.01M77.0 119.1h.01M82.8 117.6h.01M87.2 123.4h.01M108.0 123.4h.01M108.5 123.3h.01M127.3 122.6h.01M64.8 123.2h.01M90.4 126.2h.01M68.4 117.7h.01M98.7 126.2h.01M93.5 124.4h.01M127.5 118.5h.01M89.2 120.6h.01M111.7 124.7h.01M107.9 121.0h.01M128.2 119.7h.01M104.5 121.1h.01M83.2 125.3h.01M99.4 119.8h.01M77.2 119.9h.01M112.0 122.1h.01M76.2 125.2h.01M77.4 124.8h.01M86.9 120.2h.01M96.2 124.5h.01M81.4 125.2h.01M100.9 122.8h.01M85.5 123.3h.01M87.6 123.5h.01M80.8 123.3h.01M103.7 118.6h.01M79.3 119.8h.01M89.2 123.4h.01M106.8 124.9h.01M91.0 122.0h.01M108.6 121.3h.01M74.0 124.5h.01M81.4 120.4h.01M87.4 126.5h.01M115.2 125.9h.01M85.4 118.9h.01M76.1 122.4h.01M129.2 124.3h.01M66.6 123.7h.01M105.0 122.2h.01M113.8 127.5h.01M106.7 128.5h.01M96.7 122.7h.01M121.5 120.4h.01M108.5 122.7h.01M76.4 119.9h.01M74.0 120.1h.01M101.1 117.8h.01M99.6 123.2h.01M117.3 127.0h.01M92.4 127.5h.01M74.6 116.8h.01M83.6 123.1h.01M107.1 122.5h.01M109.3 116.1h.01M94.3 119.7h.01M97.6 118.7h.01M103.7 119.8h.01M88.4 121.8h.01M99.1 118.7h.01M115.5 125.7h.01M103.8 122.0h.01M67.9 119.2h.01M81.7 120.3h.01M88.3 120.9h.01M88.8 121.1h.01M88.6 119.4h.01M113.4 123.2h.01M116.1 122.7h.01M111.3 125.8h.01M78.9 128.8h.01M102.3 124.7h.01M126.2 122.3h.01M85.4 116.3h.01M122.3 125.7h.01M90.8 125.0h.01M58.8 122.5h.01M122.2 123.0h.01M102.3 124.9h.01M121.6 123.9h.01M122.0 116.3h.01M110.3 121.5h.01M112.7 121.5h.01M112.9 118.7h.01M104.9 123.0h.01M95.7 123.6h.01M95.9 123.3h.01M98.0 126.3h.01M113.2 122.9h.01M91.7 120.7h.01M88.1 119.4h.01M81.4 120.3h.01M140.8 122.8h.01M104.8 121.2h.01M81.8 120.1h.01M92.5 119.8h.01M80.8 117.6h.01M100.1 125.4h.01M80.5 124.0h.01M102.3 117.9h.01M96.8 121.3h.01M78.2 124.4h.01M97.6 120.7h.01M79.1 126.8h.01M82.5 121.1h.01M83.7 122.1h.01M72.4 121.1h.01M86.5 121.0h.01M125.3 120.9h.01M92.0 113.7h.01M79.6 124.5h.01M81.2 122.7h.01M108.2 125.3h.01M86.1 123.0h.01M109.5 119.4h.01M103.5 120.6h.01M84.3 116.7h.01M112.6 121.1h.01M112.2 123.3h.01M105.9 125.3h.01M79.1 123.0h.01M85.4 116.1h.01M78.0 123.1h.01M66.3 122.4h.01M89.8 124.8h.01M102.0 126.7h.01M49.2 125.1h.01M89.9 121.4h.01M76.8 124.9h.01M118.6 123.2h.01M86.4 123.5h.01M84.0 122.2h.01M86.9 120.7h.01M92.0 128.5h.01M106.6 122.7h.01M96.3 126.2h.01M90.0 124.0h.01M92.2 124.1h.01M81.3 124.4h.01M91.7 124.7h.01M101.2 124.0h.01M85.8 124.0h.01M64.8 120.4h.01M76.1 118.2h.01M97.3 120.7h.01M103.4 121.3h.01M93.3 122.3h.01M88.4 120.0h.01M94.4 125.2h.01M87.6 126.5h.01M72.9 122.3h.01M89.3 122.7h.01M55.7 120.7h.01M76.7 123.5h.01M101.4 121.4h.01M85.4 123.9h.01M84.6 122.8h.01M118.2 125.1h.01M100.4 120.8h.01M75.8 116.6h.01M99.5 118.7h.01M121.2 125.9h.01M103.3 116.9h.01M89.9 124.2h.01M80.4 128.0h.01M100.9 121.1h.01M129.5 123.5h.01M105.1 118.0h.01M74.1 125.8h.01M110.1 122.5h.01M51.7 121.5h.01M111.7 120.5h.01M94.5 124.4h.01M93.5 118.0h.01M96.4 123.5h.01M97.8 127.1h.01M98.4 126.0h.01M117.8 122.3h.01M82.5 122.1h.01M103.4 121.8h.01M70.8 118.8h.01M77.6 119.9h.01M98.0 125.4h.01M106.4 121.8h.01M67.4 123.1h.01M104.4 118.1h.01M106.8 125.1h.01M69.4 120.7h.01M90.3 121.7h.01M81.7 121.6h.01M92.7 122.1h.01M109.1 124.5h.01M114.4 122.1h.01M99.7 123.8h.01M98.3 121.9h.01M86.1 117.4h.01M100.7 119.2h.01M127.1 121.0h.01M79.5 124.1h.01M95.5 118.9h.01M97.6 120.2h.01M102.8 118.9h.01M67.7 124.0h.01M85.2 117.8h.01M89.8 122.6h.01M103.8 125.2h.01M107.3 122.3h.01M59.2 118.5h.01M76.7 124.0h.01M98.1 122.4h.01M107.6 121.1h.01M101.3 120.0h.01M122.3 125.4h.01M110.4 117.7h.01M101.6 122.5h.01M53.8 127.3h.01M73.9 127.0h.01M81.5 115.9h.01M101.1 121.7h.01M100.8 121.2h.01M74.0 124.5h.01M80.8 126.0h.01M52.6 120.2h.01M86.7 120.3h.01M85.2 123.1h.01M94.2 126.9h.01M107.1 122.1h.01M91.1 122.8h.01M92.9 120.8h.01M55.0 124.4h.01M94.4 122.5h.01M105.1 118.7h.01M80.6 117.4h.01M87.3 124.1h.01M111.8 119.2h.01M121.8 118.3h.01M94.6 121.3h.01M102.5 123.0h.01M114.1 118.5h.01M110.9 122.8h.01M87.0 120.8h.01M91.7 121.8h.01M94.7 116.7h.01M85.7 122.7h.01M113.7 116.4h.01M92.6 120.3h.01M95.0 122.8h.01M84.1 124.3h.01M89.5 120.3h.01M95.6 127.6h.01M89.3 122.0h.01M91.5 123.5h.01M52.8 125.1h.01M90.6 118.4h.01M127.6 125.4h.01M95.7 123.9h.01M84.8 122.4h.01M85.8 121.6h.01M65.8 122.8h.01M82.2 119.4h.01M122.3 125.2h.01M72.8 124.2h.01M86.7 119.9h.01M100.1 127.6h.01M85.2 120.3h.01M90.6 122.4h.01M106.3 122.2h.01M95.0 118.3h.01M77.1 121.2h.01M103.9 118.8h.01M74.7 121.4h.01M88.7 121.3h.01M88.7 120.8h.01M88.3 125.4h.01M75.6 122.1h.01M96.4 126.7h.01M118.8 124.9h.01M70.4 123.9h.01M103.3 121.4h.01M102.2 123.9h.01M108.3 125.1h.01M70.9 126.6h.01M90.8 127.6h.01M99.5 123.4h.01M80.6 120.3h.01M105.5 125.0h.01M104.8 121.4h.01M91.6 121.6h.01M81.4 122.6h.01M108.3 120.7h.01M65.6 122.3h.01M81.9 115.9h.01M81.4 123.4h.01M82.9 111.5h.01M79.9 115.5h.01M71.2 115.5h.01M81.1 123.3h.01M82.7 123.8h.01M76.1 117.4h.01M77.9 117.3h.01M82.0 116.4h.01M79.8 110.9h.01M78.6 116.9h.01M74.6 113.5h.01M80.8 104.1h.01M79.4 118.7h.01M82.9 124.7h.01M74.9 120.7h.01M81.7 121.6h.01M59.6 119.4h.01M78.0 115.1h.01M75.9 115.5h.01M82.4 113.1h.01M81.6 116.4h.01M80.8 117.3h.01M81.3 112.7h.01M82.9 118.6h.01M79.8 117.2h.01M77.6 123.9h.01M79.8 111.9h.01M83.2 121.8h.01M82.0 117.9h.01M83.0 117.7h.01M78.9 109.6h.01M78.8 122.5h.01M66.8 118.2h.01M78.5 125.2h.01M80.0 121.0h.01M77.2 113.7h.01M78.3 120.9h.01M82.3 121.4h.01M78.9 111.1h.01M81.9 122.7h.01M61.7 113.0h.01M82.3 122.9h.01M82.0 106.9h.01M68.7 120.6h.01M82.3 116.1h.01M80.4 121.4h.01M78.3 120.7h.01M82.4 114.1h.01M75.2 117.5h.01M82.9 115.5h.01M78.6 119.9h.01M80.4 122.2h.01M67.2 118.6h.01M76.7 116.8h.01M77.5 117.0h.01M79.5 110.0h.01M79.9 119.8h.01M82.7 118.5h.01M63.8 121.9h.01M72.1 115.4h.01M78.5 120.3h.01M82.1 118.4h.01M74.4 122.5h.01M83.1 110.2h.01M78.1 106.6h.01M80.4 112.9h.01M81.1 116.7h.01M79.3 119.1h.01M74.9 119.7h.01M83.3 112.3h.01M76.0 120.9h.01M76.7 122.7h.01M70.7 109.5h.01M70.9 116.1h.01M75.3 122.3h.01M79.6 117.5h.01M78.0 119.2h.01M81.9 119.3h.01M81.3 117.3h.01M77.6 123.0h.01M81.0 119.8h.01M79.2 125.1h.01M80.8 123.5h.01M74.2 109.6h.01M81.1 120.0h.01M76.0 112.7h.01M63.1 110.1h.01M82.0 109.8h.01M74.5 120.7h.01M70.9 122.7h.01M81.6 120.7h.01M80.3 117.7h.01M79.9 122.2h.01M82.6 124.5h.01M82.9 119.6h.01M81.5 113.7h.01M77.4 118.3h.01M79.4 119.7h.01M74.0 117.6h.01M80.5 116.0h.01M82.5 115.3h.01M81.1 103.0h.01M66.0 123.0h.01M81.1 116.3h.01M81.9 114.0h.01M78.2 121.8h.01M73.2 117.1h.01M79.2 109.1h.01M80.3 111.3h.01M80.7 119.0h.01M81.5 125.0h.01M76.9 116.8h.01M80.5 108.0h.01M79.1 112.2h.01M83.2 119.9h.01M79.0 108.3h.01M79.2 112.1h.01M82.1 118.5h.01M75.9 121.5h.01M63.9 118.3h.01M75.9 109.7h.01M82.8 113.7h.01M82.8 115.6h.01M82.7 117.4h.01M79.9 120.1h.01M73.3 115.3h.01M82.8 110.4h.01M81.3 115.7h.01M80.6 112.5h.01M82.1 115.1h.01M82.7 125.0h.01M76.8 115.7h.01M72.5 114.3h.01M77.0 105.5h.01M81.9 106.9h.01M82.9 120.8h.01M79.8 118.0h.01M81.1 113.8h.01M79.4 120.7h.01M73.1 119.4h.01M80.6 122.2h.01M81.6 124.8h.01M77.2 114.8h.01M80.7 116.6h.01M83.1 111.9h.01M77.7 113.0h.01M81.8 112.1h.01M82.6 116.2h.01M72.5 118.4h.01M79.9 120.0h.01M81.6 118.3h.01M73.3 107.8h.01M73.4 116.5h.01M74.6 123.9h.01M75.5 113.0h.01M72.3 118.9h.01M76.9 125.1h.01M83.3 118.8h.01M82.7 115.4h.01M75.0 121.6h.01M82.9 114.8h.01M79.0 118.2h.01M75.8 105.9h.01M70.8 124.9h.01M79.0 117.0h.01M77.4 121.2h.01M75.0 119.7h.01M68.0 110.7h.01M74.4 117.3h.01M73.7 110.0h.01M81.7 112.5h.01M82.4 118.9h.01M79.8 116.4h.01M81.1 110.3h.01M82.3 118.8h.01M77.7 108.4h.01M70.3 121.8h.01M82.2 112.6h.01M75.8 114.8h.01M78.4 115.2h.01M76.1 114.1h.01M82.9 115.2h.01M80.6 120.4h.01M80.5 118.3h.01M80.3 117.9h.01M68.6 120.2h.01M81.4 113.9h.01M81.0 119.9h.01M54.7 116.8h.01M83.2 123.3h.01M76.3 117.9h.01M76.1 122.4h.01M56.4 115.4h.01M75.9 106.2h.01M81.9 116.4h.01M65.9 111.5h.01M80.9 113.1h.01M71.9 122.1h.01M80.8 105.7h.01M81.4 118.0h.01M78.3 111.2h.01M82.9 116.0h.01M77.0 123.7h.01M70.1 120.8h.01M79.7 118.9h.01M81.7 107.8h.01M64.2 113.0h.01M78.1 116.2h.01M82.7 114.0h.01M77.7 111.1h.01M82.7 113.4h.01M72.8 121.8h.01M77.3 114.7h.01M72.5 121.9h.01M74.2 121.1h.01M71.1 117.2h.01M77.5 122.5h.01M76.2 105.8h.01M76.2 116.6h.01M69.9 108.5h.01M66.1 111.5h.01M82.9 116.8h.01M82.0 117.2h.01M76.5 119.2h.01M80.1 116.4h.01M78.0 122.6h.01M82.6 121.6h.01M74.7 118.2h.01M69.7 120.5h.01M83.1 103.2h.01M77.4 120.8h.01M76.1 117.3h.01M81.6 118.5h.01M81.0 114.1h.01M79.2 102.5h.01M77.5 117.3h.01M72.6 120.9h.01M81.1 123.1h.01M77.2 107.6h.01M82.2 119.2h.01M72.1 114.1h.01M78.1 120.8h.01M82.4 121.2h.01M82.9 113.9h.01M77.1 121.6h.01M75.7 122.5h.01M80.3 113.1h.01M74.9 119.5h.01M81.0 120.5h.01M79.8 122.6h.01M79.2 120.3h.01M82.5 117.5h.01M81.4 110.1h.01M80.2 111.4h.01M81.0 119.8h.01M80.0 107.1h.01M82.5 114.3h.01M80.7 111.7h.01M82.0 108.8h.01M76.8 121.2h.01M79.9 118.9h.01M76.2 115.3h.01M80.7 124.0h.01M82.7 122.6h.01M69.5 118.7h.01M79.4 107.3h.01M82.4 108.6h.01M76.6 115.7h.01M80.6 118.2h.01M83.3 123.9h.01M74.6 123.1h.01M78.8 122.4h.01M79.5 111.2h.01M78.3 109.3h.01M75.8 115.2h.01M80.1 114.7h.01M83.2 113.6h.01M80.2 113.4h.01M73.2 109.7h.01M78.5 124.0h.01M81.6 116.1h.01M76.7 110.1h.01M76.7 124.6h.01M81.4 122.5h.01M81.8 115.2h.01M81.1 117.6h.01M64.6 116.6h.01M80.3 119.5h.01M80.9 120.8h.01M72.7 121.1h.01M78.5 125.1h.01M72.0 105.5h.01M72.7 116.0h.01M73.2 109.2h.01M67.4 113.3h.01M82.1 118.8h.01M82.9 119.4h.01M82.4 102.9h.01M83.2 119.7h.01M81.9 121.2h.01M81.8 115.5h.01M82.8 123.5h.01M78.6 112.2h.01M80.3 121.4h.01M72.5 113.4h.01M79.0 118.8h.01M82.6 117.3h.01M77.8 122.8h.01M82.3 116.4h.01M72.7 111.9h.01M74.8 108.2h.01M82.2 113.6h.01M73.0 115.0h.01M77.6 114.2h.01M82.3 117.9h.01M79.0 111.9h.01M77.5 117.3h.01M73.9 113.1h.01M66.2 120.5h.01M80.7 114.8h.01M75.1 113.8h.01M75.7 105.9h.01M62.4 112.5h.01M72.5 117.6h.01M82.5 117.7h.01M82.8 112.1h.01M83.1 113.1h.01M82.2 122.9h.01M78.1 125.1h.01M74.6 124.1h.01M76.0 123.7h.01M82.6 128.1h.01M81.7 130.2h.01M78.8 122.8h.01M71.4 141.2h.01M81.3 128.8h.01M82.0 124.7h.01M71.1 125.5h.01M81.7 131.2h.01M67.1 124.0h.01M81.4 123.2h.01M72.9 124.7h.01M67.5 132.0h.01M76.7 125.1h.01M77.8 122.5h.01M82.1 142.0h.01M80.0 122.7h.01M79.2 124.3h.01M78.1 133.0h.01M73.5 122.9h.01M67.8 131.2h.01M83.2 127.9h.01M82.1 126.9h.01M82.8 132.3h.01M73.5 125.2h.01M82.1 132.0h.01M78.9 133.4h.01M80.1 122.7h.01M81.5 125.0h.01M80.8 122.7h.01M80.5 132.6h.01M82.7 133.7h.01M80.6 125.5h.01M79.3 136.0h.01M82.7 144.4h.01M81.8 122.9h.01M82.2 123.1h.01M78.4 135.4h.01M83.1 134.1h.01M79.6 124.6h.01M83.1 128.2h.01M80.7 124.7h.01M82.4 127.8h.01M83.2 131.2h.01M83.1 132.9h.01M70.5 122.4h.01M77.1 124.6h.01M80.5 126.7h.01M83.1 139.0h.01M82.8 126.2h.01M83.1 139.0h.01M76.6 123.2h.01M77.3 126.0h.01M74.3 130.8h.01M73.6 124.2h.01M81.7 124.4h.01M80.7 123.3h.01M81.4 123.7h.01M81.4 131.1h.01M55.6 126.1h.01M82.9 133.5h.01M79.3 124.3h.01M80.7 125.4h.01M83.1 126.0h.01M82.5 125.8h.01M80.1 122.4h.01M82.9 132.9h.01M76.7 126.1h.01M75.4 125.8h.01M78.8 138.5h.01M77.4 125.0h.01M78.6 130.8h.01M72.1 122.7h.01M80.8 133.4h.01M82.8 145.4h.01M73.8 126.4h.01M81.0 140.1h.01M80.8 124.2h.01M82.6 127.8h.01M74.0 136.7h.01M78.2 128.8h.01M77.8 133.2h.01M78.0 127.1h.01M80.3 125.7h.01M82.5 124.1h.01M73.9 136.4h.01M76.6 123.0h.01M78.3 122.5h.01M82.9 137.5h.01M76.3 122.8h.01M74.6 138.3h.01M79.5 127.1h.01M81.4 127.4h.01M80.0 135.8h.01M80.2 134.6h.01M77.6 127.6h.01M79.0 122.3h.01M78.4 143.2h.01M83.0 129.9h.01M82.3 130.2h.01M77.9 123.0h.01M77.3 126.8h.01M76.9 128.8h.01M82.5 134.2h.01M82.6 128.6h.01M75.4 130.6h.01M69.8 124.5h.01M65.7 124.9h.01M80.9 129.7h.01M81.7 123.5h.01M82.1 134.1h.01M75.7 138.5h.01M81.2 124.9h.01M82.1 123.3h.01M80.8 122.5h.01M82.4 143.5h.01M82.1 126.2h.01M72.5 131.1h.01M76.4 124.4h.01M82.9 124.4h.01M69.2 134.1h.01M77.1 132.5h.01M82.9 124.5h.01M82.2 140.7h.01M74.1 122.6h.01M83.0 138.2h.01M81.0 123.6h.01M75.9 124.5h.01M80.0 127.1h.01M76.6 123.2h.01M82.5 130.1h.01M81.2 128.3h.01M75.1 129.0h.01M80.3 125.5h.01M64.0 123.2h.01M81.6 124.1h.01M82.8 124.9h.01M81.8 123.0h.01M64.0 124.9h.01M82.9 135.0h.01M80.3 129.1h.01M77.9 124.5h.01M78.0 124.1h.01M54.7 140.8h.01M75.0 143.4h.01M81.1 132.7h.01M82.5 133.6h.01M78.0 124.8h.01M80.1 122.3h.01M75.2 128.4h.01M69.3 126.0h.01M81.2 122.6h.01M83.0 138.5h.01M75.2 129.4h.01M82.8 129.6h.01M82.7 132.5h.01M82.0 126.8h.01M75.8 123.1h.01M82.9 124.9h.01M82.9 129.2h.01M80.4 126.2h.01M70.5 127.7h.01M72.0 123.6h.01M77.7 123.6h.01M78.7 126.9h.01M79.5 126.0h.01M82.5 132.4h.01M111.2 119.9h.01M105.9 122.4h.01M121.4 123.1h.01M118.0 122.9h.01M122.2 124.6h.01M107.1 129.1h.01M105.0 139.7h.01M110.6 96.7h.01M107.0 130.6h.01M105.7 116.4h.01M129.8 131.3h.01M108.1 103.4h.01M107.4 131.3h.01M104.9 120.5h.01M113.7 109.4h.01M105.0 123.6h.01M104.9 119.5h.01M108.4 121.4h.01M116.6 126.7h.01M109.2 117.7h.01M110.6 122.7h.01M104.9 101.6h.01M105.3 128.7h.01M115.0 124.6h.01M106.0 124.7h.01M106.5 127.6h.01M110.1 112.9h.01M105.6 130.7h.01M118.3 129.2h.01M106.8 133.4h.01M109.6 106.5h.01M110.5 119.9h.01M108.4 130.8h.01M115.3 114.4h.01M105.9 111.9h.01M109.6 121.7h.01M108.3 117.5h.01M106.9 130.3h.01M104.9 137.4h.01M123.8 129.0h.01M105.8 130.0h.01M120.3 137.9h.01M105.1 122.6h.01M104.7 137.6h.01M106.4 122.3h.01M114.7 118.8h.01M110.7 129.7h.01M107.7 128.5h.01M106.8 109.7h.01M105.1 119.1h.01M106.4 116.1h.01M105.6 127.8h.01M109.4 136.4h.01M105.3 115.9h.01M105.4 128.5h.01M105.9 120.6h.01M110.0 108.2h.01M105.0 134.8h.01M115.9 107.7h.01M106.4 105.6h.01M106.9 131.8h.01M104.5 124.1h.01M105.3 115.6h.01M107.6 129.3h.01M110.3 117.7h.01M105.3 124.8h.01M113.4 120.0h.01M114.8 102.7h.01M107.2 102.3h.01M106.9 131.4h.01M105.0 125.0h.01M106.2 108.9h.01M108.4 120.2h.01M106.7 125.1h.01M107.0 113.0h.01M104.7 115.9h.01M115.7 122.2h.01M105.8 102.9h.01M113.5 123.4h.01M104.6 114.8h.01M111.3 120.0h.01M108.6 109.1h.01M105.2 122.3h.01M107.4 122.3h.01M114.1 133.3h.01M111.0 114.6h.01M106.2 135.9h.01M113.6 126.7h.01M115.7 117.9h.01M105.5 134.1h.01M69.7 105.7h.01M82.6 110.4h.01M96.1 126.5h.01M138.4 137.5h.01M89.7 119.7h.01M80.1 116.6h.01M99.9 115.3h.01M107.0 132.2h.01M90.7 119.2h.01M53.0 133.9h.01M136.3 123.7h.01M67.1 115.5h.01M57.8 138.8h.01M110.4 122.5h.01M51.1 126.9h.01M80.2 115.0h.01M133.7 133.0h.01M115.8 104.2h.01M113.8 135.7h.01M125.8 112.1h.01M130.7 130.4h.01M111.1 112.0h.01M85.2 108.3h.01M104.3 121.5h.01M129.3 117.2h.01M133.4 132.3h.01M124.6 119.0h.01M135.7 116.1h.01M61.6 132.4h.01M88.0 121.5h.01M140.5 112.5h.01M130.1 110.6h.01M98.3 125.8h.01M132.9 104.3h.01M71.9 106.5h.01M67.9 146.4h.01M98.5 118.5h.01M131.9 125.0h.01M125.7 119.4h.01M104.5 112.6h.01M116.1 113.3h.01M118.4 125.8h.01M88.5 145.7h.01M47.6 103.1h.01M84.9 137.8h.01M54.0 115.3h.01M122.4 124.8h.01M102.5 125.8h.01M55.5 120.0h.01M79.1 118.6h.01M98.4 133.3h.01M112.7 145.6h.01M107.8 122.0h.01M66.1 122.8h.01M99.4 111.4h.01M50.6 114.5h.01M86.2 132.3h.01M55.0 147.1h.01M109.8 123.6h.01M94.7 131.2h.01M108.9 119.8h.01M130.5 123.3h.01M62.9 135.1h.01M110.0 112.1h.01M102.2 123.3h.01M69.9 113.2h.01M131.9 137.2h.01M63.2 102.9h.01M100.7 117.9h.01M59.3 118.1h.01M83.9 111.0h.01M61.9 123.3h.01M53.6 129.7h.01M115.3 123.0h.01M125.1 128.2h.01M83.4 125.6h.01M87.4 119.1h.01M68.0 131.8h.01M117.5 136.9h.01M125.7 133.6h.01M81.6 124.3h.01M83.7 126.7h.01M49.8 121.7h.01M119.7 110.9h.01M69.9 111.8h.01M124.6 125.4h.01M58.8 125.7h.01M131.9 112.9h.01M113.1 131.6h.01M104.2 116.5h.01M127.4 117.9h.01M85.9 124.5h.01M67.1 145.0h.01M88.3 106.1h.01M64.5 118.2h.01M135.2 118.6h.01M77.6 93.2h.01M112.7 131.6h.01M115.6 127.2h.01M49.4 127.2h.01M69.3 115.6h.01M134.2 115.5h.01M105.1 123.0h.01M76.8 112.9h.01M53.3 126.9h.01M83.9 132.5h.01M62.0 119.8h.01M132.2 113.8h.01M87.3 128.0h.01M93.8 132.4h.01" stroke="#909a9a" stroke-width="0.9" stroke-linecap="square" fill="none"/>
<path d="M86.3 115.1h.01M86.7 118.9h.01M97.2 112.4h.01M94.9 124.1h.01M103.9 113.3h.01M111.5 108.2h.01M89.1 129.6h.01M101.9 119.9h.01M95.8 115.5h.01M87.4 116.0h.01M85.1 122.2h.01M90.4 128.1h.01M115.1 120.0h.01M92.7 127.3h.01M93.5 114.2h.01M84.1 112.1h.01M106.0 124.7h.01M97.6 104.5h.01M100.5 121.8h.01M86.5 130.5h.01M99.0 113.4h.01M94.3 124.7h.01M95.9 116.5h.01M97.7 112.0h.01M97.9 109.2h.01M92.2 123.8h.01M95.3 107.6h.01M95.9 130.6h.01M95.7 105.9h.01M92.3 129.1h.01M95.2 108.9h.01M91.6 115.2h.01M101.2 115.4h.01M89.2 125.2h.01M101.2 123.1h.01M96.8 124.5h.01M104.0 128.6h.01M98.0 93.3h.01M91.5 119.1h.01M98.7 122.2h.01M93.6 106.5h.01M93.0 111.1h.01M98.3 118.5h.01M99.4 129.3h.01M97.8 123.4h.01M93.3 112.5h.01M96.8 114.2h.01M98.2 109.7h.01M103.3 122.2h.01M91.1 123.0h.01M108.0 118.9h.01M95.4 121.2h.01M83.9 119.4h.01M96.6 120.8h.01M93.0 149.1h.01M90.9 143.0h.01M88.3 102.4h.01M98.7 129.8h.01M99.5 128.4h.01M87.9 114.0h.01M102.1 109.2h.01M101.6 129.3h.01M93.3 130.9h.01M95.5 124.3h.01M102.6 118.9h.01M95.3 109.0h.01M83.3 132.2h.01M99.5 120.4h.01M95.3 111.3h.01M90.4 132.1h.01M89.7 110.8h.01M83.7 108.8h.01M98.7 126.0h.01M92.7 117.0h.01M100.5 133.6h.01M99.0 122.7h.01M89.3 119.0h.01M86.5 115.3h.01M95.5 117.8h.01M103.8 117.7h.01M90.0 108.2h.01M98.7 114.5h.01M96.4 125.8h.01M102.7 117.7h.01M87.8 134.2h.01M103.4 123.8h.01M90.2 120.1h.01M84.2 118.7h.01M93.3 113.8h.01M85.4 121.8h.01M85.3 104.1h.01M85.6 113.8h.01M88.2 106.8h.01M98.5 138.5h.01M91.6 127.0h.01M97.9 130.8h.01M97.2 82.5h.01M83.2 124.0h.01M104.7 128.9h.01M100.1 116.7h.01M95.0 129.7h.01M95.0 124.1h.01M96.8 108.3h.01M96.4 117.5h.01M92.1 135.3h.01M101.1 129.7h.01M98.0 118.0h.01M91.5 108.8h.01M82.0 122.9h.01M91.8 106.8h.01M97.6 124.9h.01M101.7 122.7h.01M96.5 111.8h.01M92.9 125.1h.01M87.7 120.8h.01M87.3 124.3h.01M101.4 117.0h.01M108.0 125.5h.01M90.8 120.2h.01M99.6 136.0h.01M92.4 116.3h.01M97.1 122.7h.01M98.2 120.1h.01M92.0 127.1h.01M91.9 123.8h.01M99.6 114.4h.01M96.6 111.9h.01M89.4 115.2h.01M96.4 116.5h.01M89.1 132.4h.01M84.5 130.6h.01M93.4 144.7h.01M91.9 107.1h.01M97.2 111.7h.01M93.9 113.1h.01M84.2 114.4h.01M86.2 114.1h.01M97.0 99.3h.01M97.2 121.6h.01M94.5 129.9h.01M95.0 118.1h.01M101.9 118.6h.01M90.9 122.6h.01M97.6 87.4h.01M96.7 122.4h.01M100.9 124.0h.01M90.8 113.2h.01M86.3 116.4h.01M90.4 135.0h.01M84.1 117.2h.01M95.4 116.5h.01M107.5 116.5h.01M90.6 135.5h.01M87.0 115.0h.01M105.5 122.3h.01M103.0 131.5h.01M96.7 132.4h.01M101.2 134.1h.01M94.7 133.5h.01M99.4 117.8h.01M100.1 120.4h.01M90.8 132.0h.01M91.2 126.9h.01M87.0 124.9h.01M103.2 120.8h.01M95.4 142.3h.01M86.3 129.2h.01M92.4 119.4h.01M92.1 118.4h.01M100.8 126.3h.01M102.2 127.4h.01M86.6 131.5h.01M85.3 128.3h.01M97.5 122.8h.01M97.7 113.0h.01M108.4 114.2h.01M85.6 122.6h.01M92.0 109.9h.01M92.0 108.9h.01M98.9 120.3h.01M100.0 110.1h.01M102.6 128.5h.01M109.4 122.1h.01M99.7 125.4h.01M98.8 121.8h.01M103.5 125.6h.01M105.7 122.7h.01M100.8 113.7h.01M94.7 118.4h.01M99.0 115.0h.01M89.3 119.2h.01M84.5 114.4h.01M109.8 119.9h.01M94.3 112.6h.01M96.0 131.4h.01M92.8 109.3h.01M86.6 130.1h.01M95.9 108.9h.01M105.4 128.8h.01M98.8 118.6h.01M92.0 123.3h.01M96.5 119.4h.01M85.6 124.2h.01M89.8 120.1h.01M93.7 135.5h.01M102.6 111.3h.01M94.6 126.1h.01M93.5 106.8h.01M83.2 139.9h.01M84.1 131.8h.01M88.6 117.6h.01M95.9 123.0h.01M87.4 124.3h.01M90.8 108.2h.01M96.3 109.8h.01M90.7 109.2h.01M93.4 116.7h.01M93.2 128.1h.01M92.0 136.8h.01M107.2 127.1h.01M95.9 127.0h.01M90.2 115.2h.01M89.1 116.2h.01M83.7 126.2h.01M98.3 129.3h.01M94.8 136.7h.01M101.7 119.5h.01M79.0 129.1h.01M94.9 123.5h.01M94.7 124.0h.01M93.0 137.2h.01M91.8 125.2h.01M91.3 125.5h.01M94.9 136.2h.01M89.6 111.7h.01M90.6 128.8h.01M92.3 140.8h.01M84.0 113.2h.01M101.1 139.4h.01M106.4 133.3h.01M84.2 122.6h.01M88.3 117.0h.01M93.0 144.4h.01M96.2 116.3h.01M89.7 101.2h.01M93.0 117.3h.01M94.8 125.6h.01M86.0 114.7h.01M97.1 120.0h.01M95.1 115.3h.01M90.4 123.9h.01M93.4 111.0h.01M91.1 103.1h.01M89.2 118.0h.01M99.1 124.4h.01M101.1 123.2h.01M108.8 109.0h.01M88.3 114.6h.01M91.1 97.7h.01M94.2 119.7h.01M86.3 110.9h.01M91.2 123.6h.01M92.0 109.7h.01M85.1 125.0h.01M93.3 111.4h.01M94.2 120.1h.01M100.8 132.6h.01M92.9 108.7h.01M87.0 119.6h.01M83.4 128.7h.01M95.7 133.4h.01M104.1 113.1h.01M86.6 123.4h.01M96.8 126.6h.01M98.9 117.8h.01M92.8 127.9h.01M99.1 116.1h.01M105.8 123.8h.01M100.3 120.3h.01M94.8 111.0h.01M113.7 116.5h.01M96.5 110.6h.01M88.5 114.1h.01M90.8 114.3h.01M93.9 110.1h.01M86.8 104.6h.01M93.2 131.7h.01M97.0 118.5h.01M89.7 131.7h.01M84.2 112.4h.01M98.0 117.9h.01M98.7 115.3h.01M100.0 124.7h.01M87.6 138.3h.01M89.8 116.3h.01M100.5 120.1h.01M105.3 122.4h.01M93.2 121.8h.01M89.1 111.5h.01M88.7 107.8h.01M98.1 130.2h.01M95.5 137.3h.01M89.6 113.6h.01M89.9 142.8h.01M91.5 135.1h.01M102.5 124.5h.01M98.2 118.0h.01M92.3 138.4h.01M89.5 114.3h.01M97.5 120.6h.01M86.3 123.5h.01M91.5 123.6h.01M90.9 104.9h.01M83.4 127.3h.01M91.7 121.7h.01M91.1 126.4h.01M93.6 128.3h.01M94.5 122.2h.01M90.6 120.0h.01M90.6 122.8h.01M93.4 110.9h.01M93.0 122.5h.01M104.0 105.5h.01M87.7 119.3h.01M90.1 141.1h.01M73.6 115.4h.01M98.1 127.1h.01M81.5 127.6h.01M87.4 121.7h.01M93.2 115.2h.01M102.5 128.2h.01M94.2 127.4h.01M97.1 119.2h.01M87.7 121.0h.01M91.5 129.7h.01M91.9 113.6h.01M106.8 104.8h.01M87.7 134.1h.01M95.6 128.6h.01M81.6 127.6h.01M95.0 124.6h.01M94.3 120.9h.01M92.4 114.3h.01M103.4 129.5h.01M88.9 112.8h.01M107.5 117.6h.01M79.3 121.9h.01M89.8 119.9h.01M106.1 128.5h.01M97.2 127.0h.01M91.3 126.1h.01M97.0 117.3h.01M100.6 100.3h.01M91.7 119.8h.01M90.6 109.5h.01M96.1 115.7h.01M95.7 128.0h.01M100.5 127.6h.01M89.5 104.2h.01M92.6 110.0h.01M100.9 121.7h.01M92.2 121.3h.01M93.1 109.0h.01M98.6 113.4h.01M94.2 114.6h.01M83.8 117.8h.01M100.9 124.7h.01M85.5 124.6h.01M88.1 132.1h.01M81.8 121.4h.01M78.6 123.3h.01M94.8 125.4h.01M94.7 104.4h.01M96.7 134.1h.01M89.6 120.5h.01M92.4 120.8h.01M92.3 137.1h.01M95.7 116.8h.01M87.3 120.6h.01M93.2 107.1h.01M101.0 126.3h.01M95.3 126.3h.01M93.4 118.7h.01M88.5 127.3h.01M91.8 122.5h.01M96.4 115.6h.01M89.7 143.8h.01M100.2 117.9h.01M97.7 100.9h.01M83.4 120.2h.01M98.4 107.3h.01M98.7 116.9h.01M98.1 114.9h.01M91.9 119.4h.01M104.9 119.9h.01M94.7 115.0h.01M94.5 101.2h.01M90.3 109.3h.01M92.7 122.2h.01M92.8 123.0h.01M89.8 135.3h.01M99.5 126.4h.01M97.6 130.7h.01M95.4 113.9h.01M90.5 122.2h.01M95.7 112.4h.01M75.1 112.9h.01M96.9 124.8h.01M102.9 115.6h.01M93.9 119.4h.01M93.6 103.3h.01M93.0 126.8h.01M102.6 106.0h.01M95.1 141.6h.01M99.7 120.0h.01M105.5 112.9h.01M95.1 130.1h.01M90.4 117.3h.01M99.1 112.4h.01M91.6 113.4h.01M100.7 111.8h.01M92.7 132.1h.01M95.6 114.9h.01M88.9 111.7h.01M94.9 114.5h.01M94.5 118.7h.01M88.5 132.5h.01M99.4 121.8h.01M98.0 123.4h.01M92.3 123.3h.01M92.4 119.1h.01M90.6 112.9h.01M97.6 114.3h.01M98.8 111.0h.01M99.0 117.0h.01M99.0 112.6h.01M84.8 124.7h.01M89.4 116.2h.01M92.4 119.4h.01M88.0 125.3h.01M94.1 119.2h.01M100.5 127.1h.01M92.1 125.1h.01M82.3 133.5h.01M80.6 134.7h.01M87.9 128.5h.01M89.7 113.7h.01M98.7 128.7h.01M97.5 119.9h.01M91.9 105.5h.01M96.6 116.8h.01M92.1 125.9h.01M88.0 122.9h.01M84.9 120.4h.01M88.3 131.9h.01M99.7 122.2h.01M98.3 125.2h.01M90.9 149.6h.01M95.8 124.9h.01M85.9 120.3h.01M91.8 108.4h.01M94.5 115.0h.01M97.5 112.5h.01M96.3 119.7h.01M93.2 124.4h.01M95.1 129.6h.01M102.7 132.4h.01M93.9 102.8h.01M86.2 113.2h.01M92.9 127.5h.01M94.8 146.1h.01M88.1 124.1h.01M85.5 137.7h.01M98.5 115.5h.01M94.6 116.0h.01M91.6 128.2h.01M93.4 124.6h.01M91.8 92.2h.01M98.3 116.1h.01M87.1 123.2h.01M90.0 96.1h.01M92.8 113.3h.01M95.8 142.4h.01M91.4 135.8h.01M96.5 117.0h.01M98.5 123.2h.01M98.2 116.2h.01M90.9 122.6h.01M93.4 115.4h.01M90.8 116.4h.01M106.5 114.4h.01M97.7 118.5h.01M98.4 119.5h.01M87.6 118.0h.01M92.4 119.2h.01M89.2 129.8h.01M105.9 136.6h.01M82.8 110.2h.01M94.8 119.2h.01M96.0 118.8h.01M94.2 127.5h.01M98.5 121.4h.01M101.9 118.2h.01M96.8 132.9h.01M98.0 144.0h.01M97.0 123.1h.01M86.0 113.9h.01M95.3 121.7h.01M95.0 113.3h.01M87.7 132.5h.01M90.3 126.3h.01M98.7 124.6h.01M88.8 109.9h.01M93.8 130.5h.01M95.4 117.6h.01M90.1 114.2h.01M87.6 121.0h.01M78.8 125.2h.01M98.2 127.7h.01M108.7 106.5h.01M98.5 122.1h.01M93.0 125.5h.01M87.3 137.6h.01M96.5 105.9h.01M99.5 112.1h.01M91.4 125.0h.01M103.6 130.7h.01M85.9 121.1h.01M99.2 130.9h.01M90.8 127.7h.01M95.2 110.5h.01M92.5 121.0h.01M86.1 117.5h.01M97.4 122.7h.01M104.5 121.4h.01M92.5 143.9h.01M96.3 129.6h.01M89.5 118.8h.01M73.9 122.6h.01M101.0 129.7h.01M96.6 128.8h.01M96.9 124.6h.01M92.6 123.2h.01M95.8 129.5h.01M98.0 145.4h.01M80.9 128.6h.01M97.6 114.9h.01M99.8 116.4h.01M95.7 124.2h.01M84.6 111.2h.01M96.1 126.6h.01M96.5 100.5h.01M93.5 125.9h.01M93.1 120.3h.01M90.5 110.9h.01M86.3 128.0h.01M100.9 112.3h.01M96.3 115.4h.01M89.5 125.4h.01M103.9 120.1h.01M90.6 115.7h.01M99.6 112.2h.01M96.9 128.0h.01M79.0 121.6h.01M92.8 126.2h.01M91.3 105.6h.01M99.9 130.0h.01M99.9 124.9h.01M88.5 125.8h.01M89.6 117.8h.01M99.2 122.6h.01M91.9 125.9h.01M103.2 108.8h.01M89.0 113.3h.01M99.1 129.1h.01M105.1 111.3h.01M90.1 109.2h.01M91.3 130.5h.01M95.4 121.4h.01M88.2 119.4h.01M90.3 110.3h.01M111.2 131.9h.01M84.7 112.0h.01M87.4 146.3h.01M87.9 119.0h.01M97.9 98.0h.01M91.7 117.7h.01M94.0 124.0h.01M88.8 135.0h.01M93.9 94.0h.01M94.6 124.7h.01M106.7 118.6h.01M95.2 121.9h.01M86.5 123.0h.01M95.4 127.2h.01M100.0 113.8h.01M100.6 116.0h.01M94.9 126.5h.01M98.3 119.0h.01M87.5 124.9h.01M103.9 111.7h.01M101.7 122.6h.01M97.8 118.8h.01M93.1 132.9h.01M92.6 121.2h.01M88.9 101.8h.01M95.2 122.8h.01M98.5 118.0h.01M99.1 124.2h.01M80.3 120.9h.01M90.9 108.8h.01M89.6 114.8h.01M89.9 114.5h.01M105.6 116.4h.01M86.2 122.5h.01M94.6 117.4h.01M91.2 112.7h.01M94.1 129.7h.01M80.3 109.8h.01M80.6 131.7h.01M89.1 125.1h.01M87.5 127.3h.01M86.4 119.1h.01M96.8 119.7h.01M92.7 107.2h.01M98.2 126.8h.01M93.0 129.6h.01M96.9 126.8h.01M98.8 133.1h.01M104.2 116.3h.01M88.4 139.3h.01M93.2 125.4h.01M94.3 131.0h.01M93.6 128.8h.01M108.2 122.6h.01M95.5 134.1h.01M89.1 115.0h.01M98.2 111.1h.01M97.0 116.4h.01M90.1 129.2h.01M98.1 111.2h.01M80.8 127.3h.01M87.3 110.6h.01M103.4 109.9h.01M100.7 119.2h.01M87.4 136.5h.01M91.8 132.2h.01M102.4 113.1h.01M90.4 123.5h.01M97.2 114.7h.01M87.9 121.8h.01M97.4 126.9h.01M76.4 118.2h.01M92.6 126.1h.01M93.1 130.8h.01M105.0 115.2h.01M92.7 128.8h.01M78.0 133.2h.01M87.0 118.4h.01M94.2 124.4h.01M95.1 122.5h.01M86.8 124.9h.01M103.2 113.1h.01M96.6 111.8h.01M102.0 111.8h.01M105.8 131.1h.01M83.9 106.6h.01M90.9 92.8h.01M93.7 115.0h.01M89.4 122.2h.01M94.1 116.8h.01M93.4 114.6h.01M81.2 121.7h.01M102.1 132.5h.01M84.2 124.2h.01M86.5 145.7h.01M94.0 116.0h.01M86.8 110.6h.01M88.3 115.5h.01M101.2 124.0h.01M91.4 111.0h.01M105.7 109.2h.01M106.4 113.6h.01M91.2 126.1h.01M89.4 106.3h.01M92.9 123.3h.01M77.8 130.3h.01M101.0 131.5h.01M101.0 116.5h.01M88.2 122.0h.01M97.3 109.5h.01M91.5 120.6h.01M78.2 128.1h.01M97.7 116.0h.01M107.9 129.2h.01M95.3 121.5h.01M86.0 127.1h.01M82.9 132.5h.01M78.1 123.2h.01M105.8 118.0h.01M85.8 121.6h.01M94.2 121.1h.01M91.1 114.7h.01M94.7 126.8h.01M88.4 122.0h.01M89.6 116.5h.01M95.7 116.9h.01M83.1 119.1h.01M94.8 109.7h.01M89.3 120.9h.01M96.0 115.7h.01M89.2 110.0h.01M96.1 130.1h.01M94.5 126.6h.01M77.6 108.9h.01M101.5 100.9h.01M88.2 109.3h.01M92.1 101.2h.01M82.5 118.7h.01M87.9 120.8h.01M97.2 123.0h.01M97.3 122.6h.01M98.0 122.5h.01M88.4 145.3h.01M100.8 123.5h.01M97.8 111.9h.01M97.8 118.7h.01M99.3 118.8h.01M99.7 114.3h.01M84.3 126.2h.01M96.6 121.9h.01M99.0 113.8h.01M100.8 125.0h.01M90.1 112.1h.01M98.6 140.7h.01M84.3 129.8h.01M94.6 128.6h.01M96.2 112.1h.01M94.4 119.4h.01M96.4 129.4h.01M90.2 119.8h.01M93.5 118.7h.01M89.6 125.8h.01M90.2 125.6h.01M100.4 127.6h.01M87.3 123.0h.01M98.1 129.5h.01M102.0 133.5h.01M75.8 122.1h.01M99.0 110.0h.01M90.9 127.9h.01M93.5 117.4h.01M89.4 112.8h.01M100.9 125.2h.01M101.6 120.7h.01M86.1 125.7h.01M100.4 116.0h.01M83.5 136.6h.01M91.6 117.3h.01M95.3 93.4h.01M93.7 104.2h.01M86.9 111.5h.01M86.8 120.3h.01M98.2 128.5h.01M95.6 110.2h.01M97.1 140.3h.01M95.4 127.6h.01M92.5 109.5h.01M101.6 119.5h.01M96.4 137.8h.01M102.4 125.4h.01M92.6 130.2h.01M97.9 125.6h.01M90.4 152.4h.01M91.8 124.4h.01M106.0 109.3h.01M97.0 136.1h.01M102.6 124.7h.01M89.7 116.1h.01M100.1 109.2h.01M87.9 131.8h.01M88.6 121.5h.01M97.6 110.6h.01M99.4 128.4h.01M98.6 130.6h.01M92.7 111.6h.01M106.5 117.5h.01M83.8 118.7h.01M96.7 111.2h.01M93.0 118.2h.01M89.3 103.9h.01M89.9 127.0h.01M94.8 100.8h.01M99.0 115.2h.01M94.7 130.6h.01M106.8 127.1h.01M72.9 127.6h.01M98.1 108.7h.01M98.8 113.0h.01M92.2 133.0h.01M95.1 131.9h.01M87.6 118.6h.01M78.5 113.9h.01M96.4 119.8h.01M91.8 128.6h.01M86.7 111.2h.01M86.6 114.5h.01M92.6 122.4h.01M95.6 119.0h.01M96.6 120.5h.01M91.2 120.5h.01M98.5 127.9h.01M86.8 100.6h.01M92.6 110.1h.01M87.6 121.3h.01M97.8 126.4h.01M92.3 128.9h.01M87.7 117.6h.01M89.5 126.4h.01M95.1 129.2h.01M99.2 126.6h.01M89.1 132.0h.01M91.6 139.4h.01M90.8 128.0h.01M95.8 107.8h.01M99.9 121.7h.01M100.7 117.9h.01M93.6 110.3h.01M77.9 106.3h.01M96.0 122.2h.01M99.4 134.0h.01M85.6 131.2h.01M93.9 130.9h.01M91.8 130.3h.01M97.5 120.0h.01M89.5 95.0h.01M92.9 111.0h.01M90.3 120.7h.01M101.5 127.9h.01M96.4 128.4h.01M88.6 126.1h.01M102.4 123.7h.01M87.7 110.5h.01M91.1 109.6h.01M97.1 127.5h.01M89.1 113.4h.01M87.6 112.9h.01M95.5 117.4h.01M97.0 133.0h.01M84.3 120.0h.01M99.4 134.7h.01M91.3 132.2h.01M97.3 124.6h.01M91.4 105.5h.01M86.2 133.4h.01M94.9 115.5h.01M103.7 104.8h.01M87.8 113.9h.01M102.4 126.7h.01M88.0 111.3h.01M103.7 131.3h.01M91.1 116.7h.01M103.5 117.4h.01M98.4 128.9h.01M95.7 119.5h.01M102.7 121.2h.01M96.8 119.5h.01M92.8 125.4h.01M89.2 131.1h.01M89.0 119.5h.01M90.4 115.1h.01M92.8 115.1h.01M91.0 111.3h.01M103.4 111.1h.01M88.6 120.3h.01M94.3 131.6h.01M91.5 129.3h.01M88.3 115.0h.01M86.4 122.5h.01M97.6 124.3h.01M93.6 116.0h.01M90.3 125.2h.01M102.3 131.6h.01M90.3 132.7h.01M87.7 108.8h.01M108.3 121.1h.01M98.4 115.8h.01M86.7 123.3h.01M99.1 139.8h.01M112.0 109.7h.01M97.9 114.7h.01M100.4 106.6h.01M84.2 115.7h.01M90.7 123.2h.01M101.8 127.6h.01M86.6 117.7h.01M86.2 125.9h.01M95.9 109.8h.01M103.8 115.1h.01M102.0 123.4h.01M90.9 127.6h.01M92.4 133.6h.01M105.2 117.9h.01M94.6 119.0h.01M78.3 117.6h.01M93.4 106.4h.01M88.3 142.0h.01M102.0 118.2h.01M96.3 126.1h.01M97.1 101.9h.01M94.4 108.1h.01M93.0 123.4h.01M94.5 107.9h.01M88.7 141.3h.01M89.8 126.3h.01M91.9 120.7h.01M88.3 114.5h.01M112.0 117.0h.01M92.4 117.0h.01M97.6 123.3h.01M83.3 120.8h.01M94.4 110.4h.01M105.3 113.6h.01M96.8 104.9h.01M86.4 135.1h.01M93.8 123.8h.01M96.4 117.2h.01M106.9 118.0h.01M95.8 117.1h.01M82.7 131.0h.01M98.1 116.7h.01M97.4 117.5h.01M96.0 116.8h.01M91.5 117.8h.01M87.8 121.2h.01M102.6 118.2h.01M93.7 117.7h.01M88.7 124.8h.01M97.3 122.3h.01M92.5 128.0h.01M95.7 122.0h.01M91.3 97.0h.01M89.6 137.4h.01M104.5 122.3h.01M88.5 102.5h.01M100.8 130.3h.01M106.3 120.9h.01M97.5 121.9h.01M91.0 122.3h.01M102.4 116.7h.01M90.3 111.4h.01M82.2 110.1h.01M93.6 113.5h.01M98.7 106.9h.01M88.7 123.3h.01M94.5 120.8h.01M91.0 97.4h.01M103.4 116.0h.01M84.0 116.8h.01M100.2 124.0h.01M89.7 112.1h.01M84.7 118.1h.01M97.5 140.5h.01M91.3 123.9h.01M90.6 114.8h.01M85.6 134.8h.01M96.8 119.6h.01M82.6 117.2h.01M82.1 125.3h.01M101.0 113.7h.01M94.3 119.0h.01M101.3 117.1h.01M84.7 129.5h.01M101.0 105.1h.01M100.1 127.3h.01M100.3 144.0h.01M91.6 107.9h.01M93.2 120.6h.01M93.4 110.4h.01M91.9 121.0h.01M86.6 140.2h.01M95.5 127.0h.01M82.6 121.3h.01M100.5 125.1h.01M88.2 120.0h.01M100.3 118.6h.01M92.5 124.8h.01M86.5 110.6h.01M89.1 118.6h.01M97.5 124.3h.01M99.6 126.6h.01M92.1 125.6h.01M92.5 126.1h.01M92.3 112.7h.01M95.5 119.5h.01M80.7 113.8h.01M94.6 118.6h.01M88.8 117.2h.01M96.5 110.2h.01M107.9 129.5h.01M89.7 99.2h.01M94.6 123.0h.01M99.2 103.9h.01M97.3 125.2h.01M92.5 111.7h.01M94.4 127.8h.01M90.7 132.5h.01M96.2 118.5h.01M97.6 128.8h.01M90.1 115.3h.01M102.7 122.5h.01M91.6 130.8h.01M95.2 138.3h.01M100.5 122.3h.01M89.5 115.2h.01M90.5 126.6h.01M100.6 132.1h.01M97.6 127.2h.01M94.1 114.1h.01M98.4 137.4h.01M91.8 118.2h.01M85.4 133.2h.01M93.8 107.9h.01M98.4 125.8h.01M95.7 114.8h.01M92.3 108.6h.01M86.7 131.4h.01M95.3 117.2h.01M96.4 130.9h.01M85.9 117.8h.01M100.6 119.1h.01M100.0 125.4h.01M99.7 128.2h.01M95.1 124.0h.01M96.4 118.9h.01M104.4 124.3h.01M83.2 118.6h.01M98.4 112.9h.01M84.1 122.0h.01M84.0 129.8h.01M97.1 118.5h.01M102.7 104.4h.01M87.5 117.6h.01M92.1 107.7h.01M100.6 132.3h.01M91.4 121.2h.01M98.7 114.7h.01M86.2 127.0h.01M89.9 121.5h.01M93.7 109.3h.01M96.9 117.0h.01M93.7 123.0h.01M97.3 127.3h.01M102.1 139.6h.01M94.6 157.4h.01M94.9 117.1h.01M95.7 89.7h.01M90.8 120.2h.01M94.6 99.3h.01M95.2 129.0h.01M88.1 119.4h.01M90.1 132.0h.01M90.9 122.6h.01M89.6 116.1h.01M100.0 112.7h.01M94.9 122.5h.01M90.4 116.0h.01M83.9 128.7h.01M95.5 117.6h.01M94.6 129.4h.01M94.8 123.9h.01M89.8 97.5h.01M91.8 112.9h.01M83.0 118.4h.01M99.4 136.9h.01M108.6 125.4h.01M98.4 119.9h.01M98.0 116.3h.01M99.2 130.7h.01M104.3 130.1h.01M99.1 118.9h.01M80.8 111.9h.01M95.1 123.5h.01M93.4 127.8h.01M96.0 119.9h.01M88.0 123.1h.01M93.8 119.5h.01M90.3 113.2h.01M93.9 118.3h.01M93.2 117.2h.01M92.9 119.0h.01M89.7 114.4h.01M97.0 118.4h.01M87.2 123.9h.01M94.2 135.8h.01M101.0 144.7h.01M90.9 128.4h.01M87.3 127.5h.01M95.4 122.9h.01M87.7 131.9h.01M101.0 118.2h.01M97.7 122.3h.01M100.7 110.7h.01M93.6 131.2h.01M98.6 118.9h.01M102.1 130.0h.01M102.8 108.7h.01M107.9 114.2h.01M101.2 119.0h.01M89.3 118.8h.01M98.5 116.4h.01M87.4 119.4h.01M107.8 131.2h.01M96.3 125.7h.01M85.3 118.1h.01M97.8 114.2h.01M95.1 122.7h.01M94.6 95.0h.01M93.9 113.5h.01M104.0 123.0h.01M93.9 134.0h.01M93.1 111.5h.01M90.0 111.0h.01M98.4 121.8h.01M109.2 133.8h.01M100.8 142.1h.01M91.8 121.6h.01M100.3 133.4h.01M103.7 116.2h.01M109.4 135.4h.01M89.9 131.0h.01M88.0 112.7h.01M102.4 132.5h.01M89.9 119.6h.01M90.7 129.6h.01M100.5 120.7h.01M94.8 115.5h.01M89.4 136.8h.01M106.8 118.8h.01M93.1 131.4h.01M92.8 118.3h.01M103.2 112.4h.01M89.8 135.9h.01M105.4 131.0h.01M93.1 120.5h.01M85.9 132.6h.01M93.7 118.4h.01M81.0 136.6h.01M100.7 148.5h.01M80.9 117.0h.01M99.7 120.4h.01M100.5 121.2h.01M93.1 124.1h.01M91.5 118.4h.01M84.0 114.4h.01M98.3 121.6h.01M94.3 119.5h.01M98.3 124.7h.01M89.2 121.7h.01M99.5 118.0h.01M98.5 132.9h.01M83.6 135.0h.01M97.3 116.9h.01M86.0 125.2h.01M105.2 105.7h.01M92.0 99.4h.01M102.7 116.0h.01M95.2 114.4h.01M90.1 100.8h.01M107.4 124.6h.01M93.9 106.5h.01M91.9 122.3h.01M97.3 122.1h.01M93.8 119.5h.01M106.4 108.6h.01M87.2 120.6h.01M93.6 122.9h.01M102.7 126.1h.01M92.3 132.6h.01M95.2 130.9h.01M89.1 121.8h.01M98.6 127.7h.01M91.3 117.1h.01M104.4 129.5h.01M92.2 122.3h.01M102.5 117.6h.01M99.2 122.6h.01M94.8 116.6h.01M87.5 120.5h.01M99.4 123.0h.01M91.2 121.6h.01M84.1 130.8h.01M92.7 126.2h.01M99.2 131.6h.01M92.1 121.5h.01M96.1 122.4h.01M106.8 116.7h.01M99.3 117.3h.01M86.1 116.5h.01M100.6 115.4h.01M83.3 115.8h.01M96.2 126.0h.01M94.3 121.5h.01M84.3 129.2h.01M92.6 126.0h.01M89.0 120.1h.01M102.4 114.5h.01M97.2 119.3h.01M101.8 133.7h.01M98.0 120.2h.01M98.2 122.7h.01M96.0 115.2h.01M88.4 126.2h.01M92.0 124.1h.01M86.5 130.5h.01M95.7 124.5h.01M98.7 113.8h.01M100.6 134.9h.01M80.1 117.1h.01M99.6 133.1h.01M92.9 115.5h.01M75.7 117.1h.01M82.5 106.3h.01M92.9 110.3h.01M87.1 137.8h.01M99.1 112.9h.01M91.6 120.1h.01M98.4 140.1h.01M87.5 118.6h.01M96.1 130.5h.01M98.4 114.1h.01M96.0 118.7h.01M101.9 109.9h.01M99.5 128.1h.01M92.1 106.3h.01M88.7 129.5h.01M96.2 105.3h.01M102.1 124.4h.01M101.9 118.0h.01M98.0 123.0h.01M95.6 119.0h.01M96.6 124.1h.01M89.9 123.5h.01M103.1 127.5h.01M90.0 126.5h.01M93.5 105.3h.01M98.7 133.3h.01M89.8 123.8h.01M93.0 117.3h.01M90.5 124.5h.01M94.7 127.0h.01M93.2 104.4h.01M102.3 125.1h.01M91.3 114.1h.01M94.3 99.4h.01M93.3 126.2h.01M89.6 108.4h.01M86.8 123.5h.01M85.1 124.6h.01M89.7 122.7h.01M81.8 107.6h.01M91.9 111.2h.01M90.3 116.9h.01M98.0 118.0h.01M95.3 116.0h.01M90.2 121.5h.01M86.9 127.2h.01M90.1 125.0h.01M92.4 128.3h.01M79.3 131.5h.01M83.7 124.8h.01M89.4 108.7h.01M93.3 134.3h.01M101.5 124.8h.01M89.6 126.1h.01M102.6 119.7h.01M85.8 129.8h.01M93.7 131.3h.01M85.1 124.2h.01M102.1 114.6h.01M79.0 111.9h.01M97.9 112.9h.01M100.9 107.0h.01M93.2 125.4h.01M96.9 119.5h.01M111.6 117.9h.01M85.5 117.3h.01M97.2 114.7h.01M96.3 123.6h.01M86.2 116.2h.01M89.6 132.1h.01M90.0 124.4h.01M95.4 122.6h.01M88.9 120.3h.01M94.9 112.6h.01M90.1 124.5h.01M82.9 115.3h.01M95.5 99.8h.01M91.6 115.8h.01M85.2 116.3h.01M97.3 127.8h.01M88.1 117.9h.01M86.2 122.2h.01M104.1 124.8h.01M95.2 120.9h.01M96.2 126.4h.01M97.4 104.8h.01M97.9 120.3h.01M99.3 118.6h.01M103.1 123.3h.01M82.4 130.0h.01M94.5 113.4h.01M105.2 109.7h.01M96.4 104.0h.01M92.9 110.7h.01M94.3 115.9h.01M92.4 125.9h.01M85.0 138.6h.01M95.3 117.9h.01M95.5 119.6h.01M90.1 122.2h.01M94.9 129.1h.01M85.3 143.3h.01M86.7 117.6h.01M100.0 132.3h.01M94.7 124.4h.01M90.1 121.1h.01M90.9 102.8h.01M100.2 137.8h.01M95.0 129.7h.01M100.7 102.7h.01M92.0 127.0h.01M90.2 108.5h.01M101.4 120.5h.01M100.3 110.9h.01M90.2 117.5h.01M85.4 115.9h.01M95.8 130.3h.01M89.3 120.5h.01M101.0 124.5h.01M99.1 111.8h.01M94.7 116.9h.01M107.8 131.8h.01M104.4 119.8h.01M104.5 117.1h.01M95.3 95.4h.01M94.9 102.9h.01M87.9 126.5h.01M97.8 118.8h.01M88.3 125.7h.01M85.7 125.2h.01M98.4 133.7h.01M106.0 121.7h.01M91.1 129.9h.01M101.6 114.1h.01M88.0 127.1h.01M89.9 118.4h.01M89.8 136.0h.01M91.4 113.1h.01M86.9 136.6h.01M97.8 150.8h.01M87.5 118.2h.01M89.4 107.5h.01M86.9 124.1h.01M99.2 120.4h.01M97.4 121.7h.01M105.2 123.2h.01M107.1 118.9h.01M89.6 103.5h.01M99.5 133.9h.01M91.3 120.9h.01M82.4 120.5h.01M92.4 124.5h.01M101.9 117.2h.01M92.6 141.6h.01M92.7 137.1h.01M96.4 115.1h.01M81.2 132.0h.01M108.7 115.5h.01M97.1 108.3h.01M99.0 128.5h.01M87.1 119.2h.01M91.0 123.0h.01M95.2 119.6h.01M93.6 133.4h.01M86.9 127.9h.01M98.8 127.0h.01M94.7 101.9h.01M98.6 109.6h.01M89.4 115.9h.01M91.7 117.4h.01M103.5 113.2h.01M92.5 141.8h.01M101.3 134.3h.01M106.7 130.0h.01M92.1 122.4h.01M89.9 111.4h.01M94.2 123.9h.01M81.9 119.4h.01M99.8 111.7h.01M89.2 135.5h.01M89.3 118.9h.01M99.8 122.7h.01M84.9 128.5h.01M99.1 113.4h.01M84.4 120.5h.01M95.8 119.5h.01M92.8 116.2h.01M95.2 119.7h.01M94.3 125.4h.01M93.8 123.9h.01M88.8 118.7h.01M86.4 121.2h.01M105.7 118.4h.01M95.5 124.1h.01M90.5 121.9h.01M93.2 131.2h.01M98.4 111.1h.01M93.3 122.9h.01M102.3 112.3h.01M91.6 107.8h.01M92.5 113.4h.01M95.7 120.4h.01M99.9 138.8h.01M84.8 123.7h.01M86.1 116.7h.01M90.8 126.6h.01M96.0 112.2h.01M92.0 121.3h.01M93.3 125.4h.01M102.8 120.0h.01M96.3 140.9h.01M85.7 113.0h.01M89.1 119.6h.01M92.7 136.0h.01M93.2 123.8h.01M102.1 125.4h.01M87.6 121.4h.01M97.8 107.9h.01M102.6 114.8h.01M91.8 132.1h.01M97.3 112.5h.01M96.6 115.6h.01M95.0 118.9h.01M91.7 134.8h.01M87.9 112.6h.01M89.9 131.9h.01M93.8 127.4h.01M92.9 133.5h.01M101.9 112.3h.01M96.7 131.1h.01M99.5 113.4h.01M95.5 119.4h.01M99.5 129.5h.01M104.7 106.4h.01M92.8 128.4h.01M98.0 120.5h.01M95.8 121.4h.01M93.0 133.8h.01M105.2 105.1h.01M101.0 126.2h.01M93.5 139.5h.01M94.6 144.8h.01M87.4 118.9h.01M96.1 146.9h.01M92.3 90.0h.01M93.2 119.3h.01M82.3 134.2h.01M92.4 133.6h.01M90.7 128.0h.01M93.2 106.3h.01M88.8 123.0h.01M96.6 142.0h.01M94.6 123.5h.01M88.9 116.7h.01M94.4 119.6h.01M95.6 120.3h.01M87.8 126.7h.01M86.9 124.3h.01M94.7 116.4h.01M88.5 113.3h.01M92.7 110.5h.01M94.0 126.0h.01M93.1 134.6h.01M93.2 110.1h.01M95.4 117.8h.01M91.1 115.1h.01M104.0 110.8h.01M111.9 119.7h.01M95.2 143.0h.01M100.4 116.6h.01M108.1 118.2h.01M93.0 123.6h.01M103.7 105.0h.01M100.9 125.6h.01M95.4 135.7h.01M88.6 128.3h.01M95.7 118.4h.01M90.3 102.3h.01M94.3 124.7h.01M98.1 123.4h.01M88.6 124.8h.01M100.3 111.7h.01M84.6 129.2h.01M88.9 114.1h.01M91.1 124.3h.01M101.7 120.0h.01M99.0 113.9h.01M96.1 110.9h.01M93.5 123.7h.01M90.4 119.3h.01M92.1 123.8h.01M95.3 113.1h.01M78.5 115.5h.01M97.6 112.1h.01M96.9 116.6h.01M94.2 119.0h.01M101.9 137.9h.01M95.4 114.4h.01M87.5 128.0h.01M94.6 115.2h.01M102.0 117.3h.01M105.6 134.4h.01M102.8 123.1h.01M89.6 116.0h.01M98.4 118.5h.01M87.2 118.0h.01M105.9 128.2h.01M96.0 131.7h.01M95.1 132.1h.01M91.8 117.0h.01M101.8 112.8h.01M82.5 120.6h.01M102.7 127.5h.01M93.6 140.6h.01M86.4 127.2h.01M79.3 124.7h.01M96.9 112.4h.01M92.1 131.5h.01M96.4 110.5h.01M91.1 128.7h.01M87.8 140.1h.01M87.6 127.9h.01M86.6 123.1h.01M98.8 130.1h.01M95.2 109.5h.01M98.2 123.4h.01M101.9 128.7h.01M105.4 131.7h.01M99.3 122.2h.01M94.2 127.2h.01M103.4 141.2h.01M101.5 108.5h.01M104.0 124.2h.01M97.3 118.0h.01M89.0 123.7h.01M102.4 108.4h.01M99.6 106.3h.01M89.1 106.2h.01M106.9 115.2h.01M93.6 127.9h.01M96.2 121.8h.01M84.1 135.5h.01M96.8 105.1h.01M85.5 125.2h.01M96.8 101.8h.01M96.4 119.0h.01M89.2 117.3h.01M102.3 110.0h.01M84.6 133.7h.01M89.6 128.2h.01M87.0 130.5h.01M97.4 122.0h.01M101.1 115.8h.01M92.2 127.7h.01M96.6 123.4h.01M91.9 120.0h.01M93.4 124.6h.01M99.5 114.0h.01M92.7 112.6h.01M85.9 135.3h.01M91.5 111.7h.01M91.2 116.9h.01M83.5 113.8h.01M96.9 128.8h.01M93.9 105.1h.01M100.2 116.6h.01M92.6 114.1h.01M92.5 121.9h.01M93.8 110.6h.01M88.9 135.6h.01M96.2 114.7h.01M100.2 142.2h.01M95.6 120.6h.01M93.5 120.5h.01M103.1 109.6h.01M92.5 111.5h.01M99.3 115.5h.01M94.6 96.0h.01M93.6 140.1h.01M102.9 123.2h.01M101.7 117.9h.01M102.8 121.9h.01M93.4 125.8h.01M90.9 108.2h.01M86.4 118.1h.01M97.4 131.4h.01M96.8 114.5h.01M100.3 118.6h.01M105.6 123.6h.01M98.7 115.3h.01M93.3 117.5h.01M91.2 122.7h.01M84.3 125.3h.01M99.0 120.0h.01M106.5 112.7h.01M99.5 96.7h.01M96.7 132.7h.01M89.9 111.5h.01M97.2 139.0h.01M85.1 126.0h.01M107.5 115.5h.01M92.8 127.6h.01M95.2 125.1h.01M92.2 142.8h.01M85.2 132.6h.01M89.7 117.3h.01M99.6 116.6h.01M104.9 110.7h.01M94.2 117.7h.01M86.1 104.8h.01M90.7 118.9h.01M90.8 130.6h.01M87.6 119.9h.01M98.4 115.9h.01M91.8 114.5h.01M91.1 108.4h.01M84.7 125.0h.01M93.3 128.0h.01M98.6 116.8h.01M88.7 126.4h.01M81.8 124.6h.01M96.4 110.5h.01M96.1 119.0h.01M102.2 129.8h.01M102.8 131.4h.01M90.1 126.0h.01M91.9 115.9h.01M89.1 135.6h.01M98.4 120.8h.01M84.5 108.4h.01M95.3 125.5h.01M95.7 130.4h.01M86.6 127.4h.01M102.6 120.9h.01M85.3 119.7h.01M93.3 114.5h.01M93.2 123.9h.01M74.9 121.2h.01M89.0 131.9h.01M92.9 120.9h.01M97.2 120.1h.01M90.0 113.6h.01M97.0 117.8h.01M108.1 122.4h.01M98.0 105.8h.01M99.6 100.1h.01M105.1 127.5h.01M92.6 151.9h.01M104.7 123.7h.01M92.1 128.5h.01M101.6 125.1h.01M81.9 115.8h.01M79.4 115.8h.01M95.7 98.0h.01M109.1 120.1h.01M94.7 121.8h.01M92.6 115.8h.01M96.7 138.7h.01M98.1 116.7h.01M96.9 152.3h.01M99.6 131.6h.01M97.3 129.3h.01M101.4 132.4h.01M103.9 115.3h.01M98.7 94.2h.01M96.0 117.0h.01M91.4 125.1h.01M96.7 87.1h.01M101.3 112.6h.01M100.0 125.1h.01M95.4 106.0h.01M95.5 121.3h.01M104.2 118.7h.01M90.4 111.6h.01M105.3 115.0h.01M94.7 122.8h.01M95.6 106.8h.01M100.2 119.8h.01M101.3 133.3h.01M93.8 132.4h.01M92.8 123.3h.01M87.9 116.9h.01M91.8 128.1h.01M98.6 131.1h.01M97.4 110.8h.01M87.0 111.5h.01M101.3 123.5h.01M90.5 130.8h.01M88.0 124.2h.01M94.8 126.0h.01M93.5 101.2h.01M78.5 108.2h.01M98.9 127.9h.01M92.3 118.5h.01M87.2 115.7h.01M90.4 121.8h.01M90.8 129.2h.01M87.6 120.5h.01M92.4 122.2h.01M94.1 110.7h.01M95.2 155.2h.01M88.5 127.0h.01M93.6 125.9h.01M89.8 124.9h.01M77.8 126.8h.01M88.6 119.3h.01M89.0 142.7h.01M88.4 114.5h.01M89.4 127.3h.01M94.5 117.8h.01M104.7 133.9h.01M88.3 126.7h.01M97.6 106.4h.01M77.2 132.5h.01M85.9 123.6h.01M104.1 128.9h.01M101.9 127.5h.01M93.9 128.9h.01M85.1 123.1h.01M99.7 126.4h.01M92.1 132.0h.01M89.0 121.2h.01M96.8 115.2h.01M92.6 101.7h.01M88.3 134.9h.01M88.9 115.7h.01M97.0 91.6h.01M95.8 122.8h.01M94.7 116.8h.01M91.8 116.9h.01M86.4 123.0h.01M85.9 135.5h.01M90.9 134.7h.01M92.1 123.7h.01M84.9 117.4h.01M99.2 122.4h.01M77.5 116.8h.01M94.0 109.9h.01M92.2 113.2h.01M86.3 117.2h.01M96.9 122.3h.01M101.3 117.0h.01M100.6 123.9h.01M98.7 119.7h.01M92.9 119.3h.01M89.0 113.7h.01M91.7 112.6h.01M97.3 112.4h.01M84.8 126.5h.01M97.6 102.9h.01M91.9 113.3h.01M97.2 106.0h.01M85.8 123.9h.01M91.0 119.1h.01M99.4 115.3h.01M83.4 107.7h.01M95.7 122.9h.01M90.1 134.7h.01M100.9 130.9h.01M92.1 129.8h.01M104.0 135.2h.01M95.1 107.6h.01M88.7 120.8h.01M88.2 114.3h.01M94.6 132.1h.01M95.6 115.5h.01M87.4 111.9h.01M99.0 121.5h.01M93.4 120.9h.01M102.4 118.4h.01M79.7 105.1h.01M97.1 120.4h.01M93.3 133.4h.01M96.9 123.9h.01M87.0 126.8h.01M89.2 105.4h.01M91.0 130.2h.01M80.1 128.0h.01M91.5 115.1h.01M95.3 131.8h.01M90.4 136.0h.01M102.7 117.1h.01M86.9 123.7h.01M81.3 127.7h.01M93.9 134.9h.01M95.0 129.9h.01M88.6 100.5h.01M101.1 116.8h.01M89.9 126.0h.01M82.2 119.3h.01M100.2 127.1h.01M80.2 113.5h.01M88.2 122.4h.01M93.2 112.6h.01M99.5 117.4h.01M92.7 124.7h.01M92.0 115.3h.01M91.5 108.9h.01M95.7 121.9h.01M101.3 128.7h.01M90.4 126.5h.01M92.9 111.4h.01M96.9 125.7h.01M82.3 127.2h.01M103.6 134.0h.01M80.2 109.5h.01M83.3 123.4h.01M84.9 122.1h.01M93.5 118.1h.01M98.8 150.1h.01M94.2 124.5h.01M96.8 122.5h.01M95.2 125.0h.01M93.1 131.9h.01M90.1 121.0h.01M93.1 121.1h.01M107.9 117.4h.01M94.0 123.6h.01M93.3 99.3h.01M91.2 122.2h.01M93.7 124.8h.01M100.0 124.1h.01M90.7 129.8h.01M86.2 99.8h.01M97.6 112.1h.01M104.2 109.0h.01M92.4 126.6h.01M103.7 122.3h.01M90.4 128.2h.01M94.8 111.6h.01M85.7 133.4h.01M87.6 115.2h.01M90.3 131.6h.01M92.5 113.6h.01M98.4 119.5h.01M88.6 113.1h.01M111.9 114.9h.01M97.0 127.2h.01M89.5 125.5h.01M100.7 112.4h.01M99.0 119.8h.01M89.9 113.1h.01M82.1 111.9h.01M81.7 113.1h.01M97.1 129.6h.01M92.4 131.8h.01M96.9 119.5h.01M92.3 132.7h.01M94.1 123.1h.01M98.4 130.0h.01M91.6 134.8h.01M90.9 120.5h.01M94.2 125.4h.01M94.6 121.3h.01M90.5 115.0h.01M89.4 123.7h.01M90.9 139.4h.01M96.0 112.8h.01M101.8 119.7h.01M101.9 126.1h.01M100.7 117.4h.01M85.9 118.8h.01M86.5 109.7h.01M95.6 111.2h.01M98.5 126.6h.01M85.2 98.2h.01M100.1 129.9h.01M97.7 122.4h.01M93.0 119.2h.01M93.7 104.8h.01M90.7 128.0h.01M93.0 107.6h.01M96.1 138.7h.01M95.6 113.6h.01M97.0 108.5h.01M90.8 121.8h.01M92.3 101.8h.01M93.5 142.4h.01M94.0 115.9h.01M95.4 133.1h.01M93.1 139.2h.01M93.4 134.6h.01M100.3 132.8h.01M79.5 114.3h.01M86.0 121.8h.01M100.9 133.3h.01M92.0 129.9h.01M91.7 122.2h.01M92.8 118.0h.01M89.7 114.9h.01M104.7 106.9h.01M94.9 112.5h.01M90.2 118.6h.01M102.3 133.3h.01M97.2 129.6h.01M91.9 127.7h.01M82.9 116.6h.01M105.6 117.3h.01M90.2 121.4h.01M95.2 110.3h.01M99.8 126.9h.01M96.7 120.1h.01M96.5 115.1h.01M97.7 126.7h.01M95.0 125.6h.01M101.2 116.7h.01M89.2 123.5h.01M86.6 121.0h.01M105.4 124.2h.01M95.4 125.6h.01M97.9 127.7h.01M94.0 125.0h.01M97.7 123.7h.01M92.9 107.3h.01M85.2 125.3h.01M96.6 109.8h.01M94.5 107.5h.01M91.4 118.9h.01M96.8 106.2h.01M87.1 117.8h.01M93.9 117.2h.01M96.4 116.9h.01M93.6 132.0h.01M92.1 115.2h.01M91.0 122.6h.01M90.5 125.3h.01M95.4 117.7h.01M99.0 128.3h.01M88.6 112.3h.01M94.4 121.5h.01M90.4 127.9h.01M90.9 121.5h.01M103.6 115.7h.01M93.2 122.1h.01M100.1 133.9h.01M104.6 127.0h.01M94.9 121.7h.01M95.2 115.7h.01M109.9 115.2h.01M91.7 131.2h.01M87.2 125.4h.01M87.7 124.0h.01M96.9 131.1h.01M101.2 120.5h.01M97.2 114.6h.01M87.9 130.5h.01M95.9 135.9h.01M85.6 125.3h.01M98.0 119.5h.01M85.9 132.3h.01M97.4 113.9h.01M93.7 111.9h.01M97.2 117.9h.01M90.2 121.5h.01M100.7 115.9h.01M93.7 117.8h.01M91.3 126.0h.01M102.2 121.3h.01M94.5 102.5h.01M91.0 121.0h.01M98.4 117.9h.01M97.4 117.5h.01M97.8 121.8h.01M92.2 121.3h.01M99.2 118.0h.01M100.9 121.0h.01M91.5 115.1h.01M90.2 110.0h.01M94.3 115.5h.01M92.6 108.8h.01M102.0 122.7h.01M99.7 132.0h.01M91.3 106.7h.01M102.3 100.9h.01M98.3 95.7h.01M93.8 122.3h.01M96.2 94.9h.01M101.2 113.3h.01M107.6 117.8h.01M86.2 111.2h.01M92.6 122.7h.01M101.1 98.5h.01M88.7 144.4h.01M98.9 131.6h.01M122.6 118.1h.01M102.4 115.5h.01M90.0 119.1h.01M97.3 114.6h.01M92.6 83.5h.01M97.4 109.6h.01M86.8 118.7h.01M95.1 128.9h.01M95.0 131.6h.01M102.4 98.5h.01M94.7 98.8h.01M96.5 123.9h.01M103.1 116.3h.01M92.9 125.2h.01M93.1 112.7h.01M98.1 122.1h.01M97.9 119.3h.01M104.7 106.1h.01M96.0 109.0h.01M101.5 122.1h.01M97.7 127.0h.01M89.9 108.5h.01M94.3 125.7h.01M100.5 121.4h.01M88.5 131.0h.01M91.2 117.6h.01M88.7 109.0h.01M94.3 127.6h.01M96.8 127.3h.01M95.2 109.7h.01M94.6 122.4h.01M87.6 123.9h.01M100.7 133.1h.01M101.0 122.5h.01M96.8 116.2h.01M92.6 111.4h.01M93.7 117.1h.01M99.9 125.2h.01M99.2 119.1h.01M84.6 117.5h.01M93.4 123.6h.01M93.0 112.1h.01M96.7 118.3h.01M102.8 113.0h.01M90.6 123.7h.01M88.9 119.0h.01M93.7 114.3h.01M94.8 103.5h.01M93.1 129.7h.01M89.5 113.6h.01M92.7 121.0h.01M99.5 115.0h.01M105.1 134.3h.01M89.1 115.4h.01M98.7 115.7h.01M98.1 151.4h.01M98.9 107.4h.01M87.5 123.5h.01M79.0 114.5h.01M88.8 113.8h.01M104.3 129.6h.01M90.4 115.9h.01M89.6 130.1h.01M93.8 121.6h.01M90.5 140.5h.01M95.9 125.4h.01M95.7 102.6h.01M116.1 115.9h.01M96.4 135.9h.01M106.8 118.7h.01M86.6 114.2h.01M102.2 132.0h.01M91.8 127.6h.01M81.4 122.2h.01M89.8 122.2h.01M94.5 114.3h.01M98.8 123.0h.01M93.2 138.9h.01M92.1 113.3h.01M100.8 115.5h.01M95.3 107.0h.01M85.6 127.3h.01M108.9 130.5h.01M94.0 122.6h.01M94.0 116.8h.01M95.3 94.1h.01M86.1 119.5h.01M92.0 122.5h.01M96.2 101.8h.01M95.9 114.4h.01M91.2 126.4h.01M79.5 120.7h.01M100.4 130.7h.01M87.0 113.8h.01M95.7 109.9h.01M76.1 123.3h.01M90.1 129.5h.01M100.3 121.5h.01M88.2 117.2h.01M91.9 119.1h.01M88.9 121.7h.01M88.8 126.9h.01M80.3 110.6h.01M92.8 125.1h.01M105.7 122.6h.01M94.0 120.4h.01M101.4 128.5h.01M84.2 124.1h.01M95.2 125.1h.01M92.5 122.9h.01M96.5 122.4h.01M88.5 128.7h.01M86.1 117.0h.01M96.5 130.1h.01M84.2 121.5h.01M98.1 131.9h.01M97.3 120.8h.01M91.6 121.0h.01M94.4 134.3h.01M89.5 114.0h.01M99.8 113.4h.01M97.3 110.2h.01M98.5 121.5h.01M102.3 122.9h.01M103.4 120.9h.01M107.5 122.7h.01M103.1 123.1h.01M88.8 117.5h.01M91.9 115.9h.01M92.2 116.7h.01M100.0 113.2h.01M105.6 107.6h.01M106.9 115.2h.01M98.9 132.7h.01M92.6 111.5h.01M102.0 124.1h.01M101.7 122.2h.01M90.5 98.8h.01M98.7 106.9h.01M96.6 111.9h.01M93.0 119.7h.01M98.8 118.0h.01M92.6 125.9h.01M102.2 118.8h.01M97.6 123.6h.01M95.6 122.8h.01M88.9 120.2h.01M92.6 120.8h.01M92.7 113.5h.01M92.5 128.6h.01M85.6 138.3h.01M85.0 125.3h.01M104.8 114.1h.01M104.3 117.7h.01M100.4 123.4h.01M105.7 138.8h.01M87.8 114.3h.01M99.7 126.0h.01M86.6 124.5h.01M93.1 108.0h.01M98.5 120.0h.01M97.9 131.3h.01M101.6 106.5h.01M87.8 130.3h.01M105.2 114.8h.01M97.2 106.1h.01M105.7 123.1h.01M101.3 95.7h.01M98.4 90.2h.01M105.9 129.1h.01M99.7 108.7h.01M87.6 99.4h.01M88.8 116.2h.01M103.1 121.1h.01M94.4 115.9h.01M93.3 129.1h.01M87.5 127.0h.01M93.2 120.1h.01M100.8 108.0h.01M109.0 125.0h.01M96.0 120.1h.01M85.2 120.3h.01M91.7 122.7h.01M93.6 126.3h.01M101.5 129.1h.01M98.8 112.4h.01M94.9 122.5h.01M103.7 115.2h.01M83.2 119.6h.01M97.3 133.7h.01M89.0 128.2h.01M88.4 125.5h.01M94.9 149.7h.01M104.4 127.0h.01M86.7 119.7h.01M97.7 123.6h.01M106.0 136.2h.01M89.1 125.3h.01M87.8 135.6h.01M89.2 114.1h.01M101.8 120.8h.01M95.6 120.0h.01M99.8 115.0h.01M101.5 116.0h.01M89.5 113.0h.01M96.9 110.4h.01M88.9 132.5h.01M99.6 131.9h.01M88.7 122.5h.01M96.4 122.3h.01M97.4 129.0h.01M97.7 120.2h.01M86.7 138.0h.01M95.8 133.3h.01M100.9 118.4h.01M98.4 120.4h.01M99.9 125.6h.01M94.0 122.8h.01M95.5 114.9h.01M95.7 113.9h.01M91.8 114.9h.01M99.4 116.3h.01M98.6 123.2h.01M104.8 115.4h.01M99.5 113.2h.01M100.3 125.1h.01M106.4 106.0h.01M94.4 106.1h.01M88.9 120.2h.01M94.1 111.2h.01M97.2 118.7h.01M86.9 117.9h.01M94.0 115.9h.01M94.2 133.3h.01M90.3 131.4h.01M86.8 131.5h.01M85.3 126.6h.01M94.5 130.4h.01M90.9 112.4h.01M83.2 111.7h.01M97.1 111.9h.01M90.4 131.6h.01M91.2 123.5h.01M94.0 120.0h.01M101.2 121.8h.01M92.9 122.3h.01M103.4 121.6h.01M101.9 138.2h.01M99.0 129.1h.01M88.6 121.7h.01M89.9 125.0h.01M106.2 115.6h.01M102.9 139.0h.01M94.1 125.8h.01M103.9 110.7h.01M95.8 112.8h.01M89.2 131.2h.01M84.2 131.1h.01M98.4 124.2h.01M103.4 114.3h.01M98.4 127.2h.01M96.4 127.1h.01M99.5 120.7h.01M85.7 120.6h.01M107.4 120.6h.01M91.9 136.9h.01M93.9 126.3h.01M75.6 126.9h.01M95.1 110.0h.01M90.8 110.3h.01M88.8 115.1h.01M95.7 124.2h.01M94.4 115.2h.01M84.5 105.6h.01M88.9 109.8h.01M94.9 155.6h.01M104.8 113.3h.01M96.4 130.5h.01M90.4 129.9h.01M94.5 125.7h.01M93.6 112.8h.01M91.6 120.1h.01M99.7 125.0h.01M100.0 129.9h.01M95.0 121.0h.01M99.4 122.7h.01M101.7 107.9h.01M86.9 129.6h.01M86.1 121.9h.01M85.5 103.4h.01M91.4 120.7h.01M101.0 118.5h.01M90.6 117.4h.01M91.1 119.3h.01M93.6 125.7h.01M90.4 114.3h.01M89.8 115.7h.01M100.6 104.5h.01M86.3 116.8h.01M101.5 108.4h.01M88.8 106.9h.01M83.6 111.3h.01M90.7 99.4h.01M93.3 111.6h.01M87.2 123.3h.01M94.0 112.6h.01M97.9 124.6h.01M89.2 119.7h.01M98.4 123.1h.01M99.8 126.6h.01M100.0 107.5h.01M90.5 112.2h.01M98.6 104.4h.01M88.8 121.2h.01M89.2 101.7h.01M97.6 133.4h.01M92.9 109.5h.01M99.5 126.0h.01M95.9 119.7h.01M93.3 115.9h.01M99.5 114.3h.01M92.3 134.5h.01M82.9 116.2h.01M84.5 136.2h.01M86.4 132.8h.01M90.1 124.4h.01M90.5 122.4h.01M98.0 122.1h.01M90.5 133.8h.01M89.1 109.4h.01M108.4 121.5h.01M89.1 114.5h.01M85.9 127.2h.01M87.1 132.4h.01M93.5 115.0h.01M97.3 117.2h.01M90.2 132.6h.01M97.7 115.1h.01M101.2 119.7h.01M94.2 114.7h.01M86.7 113.3h.01M92.6 117.2h.01M94.6 134.1h.01M96.1 124.8h.01M95.0 122.9h.01M87.6 121.0h.01M104.6 116.8h.01M99.1 116.7h.01M95.3 112.0h.01M113.0 122.3h.01M94.7 120.0h.01M87.7 115.0h.01M98.0 119.1h.01M110.9 110.3h.01M87.4 119.4h.01M97.4 139.2h.01M99.0 122.5h.01M99.3 126.7h.01M84.6 120.9h.01M86.8 114.0h.01M100.4 122.3h.01M95.1 127.4h.01M92.9 134.0h.01M89.6 112.2h.01M86.0 116.3h.01M96.8 116.7h.01M89.8 123.8h.01M96.0 104.8h.01M93.6 117.8h.01M92.5 139.2h.01M97.1 115.4h.01M91.4 115.3h.01M83.5 121.3h.01M102.9 121.9h.01M90.7 116.2h.01M86.4 116.4h.01M95.5 117.8h.01M87.6 102.2h.01M93.4 110.8h.01M91.7 112.2h.01M88.2 125.0h.01M91.7 114.5h.01M82.1 107.8h.01M88.9 113.5h.01M89.0 110.2h.01M102.3 107.1h.01M90.0 137.8h.01M94.5 134.2h.01M97.1 122.9h.01M101.8 121.6h.01M86.6 114.4h.01M91.5 133.0h.01M94.4 126.2h.01M97.0 133.1h.01M93.1 123.3h.01M91.3 125.5h.01M91.0 103.0h.01M105.4 137.8h.01M86.7 123.0h.01M107.2 114.0h.01M96.1 125.2h.01M96.0 107.8h.01M95.0 120.3h.01M91.7 132.4h.01M87.9 110.6h.01M97.6 113.1h.01M93.8 116.4h.01M99.4 116.1h.01M96.7 117.1h.01M98.9 118.1h.01M93.9 124.7h.01M100.4 100.5h.01M93.4 124.0h.01M100.8 107.1h.01M95.0 143.1h.01M88.2 117.2h.01M89.9 128.1h.01M82.8 115.2h.01M93.3 112.9h.01M95.8 122.0h.01M86.3 116.3h.01M92.5 124.5h.01M93.2 115.4h.01M106.9 114.6h.01M101.8 125.2h.01M86.5 117.6h.01M97.9 102.8h.01M107.9 123.2h.01M96.4 111.4h.01M100.9 130.8h.01M88.2 106.4h.01M102.5 115.5h.01M103.4 110.7h.01M96.9 112.0h.01M90.6 104.3h.01M88.4 127.3h.01M106.8 128.4h.01M97.9 133.3h.01M92.8 132.0h.01M104.4 126.6h.01M90.1 121.9h.01M91.7 123.8h.01M87.6 132.3h.01M99.5 119.7h.01M104.0 128.0h.01M84.6 118.8h.01M86.2 119.8h.01M97.6 119.1h.01M102.3 108.3h.01M103.2 119.9h.01M93.9 134.5h.01M90.2 118.6h.01M88.7 115.3h.01M97.9 102.8h.01M92.2 117.6h.01M88.4 131.6h.01M104.2 125.5h.01M101.7 124.5h.01M95.6 114.3h.01M93.6 114.7h.01M100.6 114.9h.01M97.5 151.2h.01M96.7 122.8h.01M96.5 122.3h.01M98.1 120.8h.01M96.7 123.8h.01M104.1 111.3h.01M88.7 123.9h.01M84.1 134.6h.01M85.3 108.8h.01M90.5 125.3h.01M95.2 101.7h.01M86.8 126.3h.01M94.1 141.2h.01M89.2 128.2h.01M96.2 122.5h.01M101.5 125.4h.01M95.7 106.4h.01M90.4 146.4h.01M90.6 116.2h.01M103.1 128.7h.01M94.8 122.3h.01M94.4 98.4h.01M95.5 125.5h.01M100.7 108.8h.01M86.6 125.7h.01M90.3 118.9h.01M95.2 129.7h.01M95.4 115.4h.01M88.1 132.9h.01M96.4 113.2h.01M94.3 126.6h.01M83.7 112.3h.01M96.7 118.0h.01M89.6 130.6h.01M91.6 106.1h.01M92.7 135.2h.01M89.8 93.9h.01M85.8 124.7h.01M109.6 129.7h.01M90.8 120.5h.01M85.6 115.5h.01M94.3 110.1h.01M84.3 126.5h.01M91.1 119.6h.01M91.1 109.9h.01M100.1 115.2h.01M96.3 123.7h.01M91.7 114.2h.01M92.4 123.0h.01M89.1 122.1h.01M93.5 124.3h.01M102.2 146.3h.01M92.3 117.5h.01M102.4 126.6h.01M94.2 134.8h.01M86.4 133.3h.01M96.1 136.9h.01M96.2 124.4h.01M89.1 124.5h.01M101.0 122.3h.01M90.4 117.9h.01M92.9 121.9h.01M88.1 122.0h.01M95.7 115.7h.01M94.2 131.9h.01M95.4 116.8h.01M91.2 128.7h.01M107.7 111.9h.01M82.5 116.4h.01M97.4 117.2h.01M96.4 119.3h.01M100.1 133.3h.01M85.4 106.1h.01M88.6 114.0h.01M83.0 131.5h.01M96.2 112.0h.01M103.7 128.3h.01M88.7 135.5h.01M99.2 112.8h.01M88.7 117.6h.01M87.7 115.8h.01M91.6 121.4h.01M101.2 118.9h.01M97.1 152.0h.01M87.3 115.1h.01M99.4 117.5h.01M97.4 113.3h.01M99.6 113.0h.01M99.7 114.1h.01M89.0 123.7h.01M93.7 121.2h.01M94.4 132.0h.01M103.5 143.6h.01M87.6 116.9h.01M92.8 108.9h.01M96.1 138.5h.01M85.9 116.2h.01M101.8 117.9h.01M80.4 120.6h.01M94.0 116.3h.01M93.0 117.4h.01M104.7 124.7h.01M94.8 111.9h.01M90.3 125.1h.01M94.7 127.0h.01M86.5 126.8h.01M96.8 128.7h.01M96.1 130.6h.01M91.8 118.3h.01M95.8 131.6h.01M93.1 120.0h.01M94.2 126.0h.01M97.5 119.0h.01M96.0 95.4h.01M94.8 129.3h.01M91.1 114.7h.01M83.4 122.5h.01M94.5 114.9h.01M92.7 129.7h.01M100.1 121.9h.01M95.0 114.7h.01M87.5 121.4h.01M97.1 127.0h.01M78.7 122.2h.01M99.6 123.9h.01M97.2 107.1h.01M91.0 106.4h.01M92.3 128.2h.01M106.0 125.9h.01M99.6 113.6h.01M99.5 123.1h.01M101.0 117.8h.01M101.0 112.3h.01M100.3 147.6h.01M88.7 118.2h.01M88.3 116.2h.01M95.9 118.0h.01M109.5 132.3h.01M94.9 117.7h.01M96.6 127.2h.01M97.4 109.6h.01M95.4 123.5h.01M88.3 116.4h.01M95.2 103.8h.01M81.7 125.1h.01M95.8 124.1h.01M95.9 111.9h.01M97.6 124.0h.01M89.5 117.1h.01M82.8 120.2h.01M100.3 133.3h.01M107.6 127.6h.01M81.9 125.7h.01M97.8 128.1h.01M102.9 120.0h.01M90.1 104.4h.01M89.6 121.2h.01M90.6 124.7h.01M93.5 111.9h.01M84.0 114.1h.01M84.6 126.8h.01M95.7 117.6h.01M100.6 109.6h.01M92.4 118.3h.01M90.9 116.2h.01M92.1 108.7h.01M84.9 121.2h.01M98.6 132.6h.01M96.4 117.4h.01M102.5 118.1h.01M90.3 127.9h.01M83.7 117.9h.01M93.2 111.9h.01M89.3 134.6h.01M97.3 103.9h.01M95.3 124.1h.01M81.7 113.2h.01M82.9 121.6h.01M94.1 114.0h.01M95.8 131.2h.01M102.0 130.8h.01M95.1 103.1h.01M89.5 107.9h.01M86.4 125.3h.01M96.7 125.1h.01M99.1 128.0h.01M99.3 104.6h.01M98.3 126.6h.01M91.3 121.1h.01M89.1 126.7h.01M94.9 132.2h.01M94.6 110.7h.01M93.8 112.2h.01M91.0 128.1h.01M91.3 134.2h.01M102.5 121.2h.01M103.9 113.6h.01M93.8 122.0h.01M109.0 110.0h.01M92.1 137.5h.01M96.7 121.7h.01M96.6 103.9h.01M93.3 129.1h.01M96.3 125.3h.01M85.4 126.3h.01M98.8 119.7h.01M100.0 128.8h.01M89.2 128.8h.01M89.6 135.7h.01M101.7 110.9h.01M100.6 138.4h.01M85.9 125.7h.01M93.5 117.0h.01M91.9 121.4h.01M96.4 111.9h.01M103.1 121.7h.01M97.0 106.2h.01M99.7 117.6h.01M94.7 111.5h.01M86.9 110.9h.01M98.9 120.4h.01M93.6 119.5h.01M101.9 111.3h.01M101.6 117.9h.01M87.8 130.3h.01M103.7 133.6h.01M99.4 120.6h.01M97.8 124.9h.01M96.7 108.8h.01M83.7 118.1h.01M95.2 111.7h.01M92.5 134.8h.01M100.0 118.5h.01M103.3 136.3h.01M85.7 122.3h.01M85.6 124.2h.01M93.1 116.7h.01M99.4 118.8h.01M99.3 142.3h.01M92.2 116.6h.01M93.7 133.6h.01M86.9 132.0h.01M101.1 134.2h.01M96.8 128.6h.01M100.1 133.4h.01M96.8 111.7h.01M99.6 109.2h.01M110.2 119.7h.01M105.5 104.6h.01M100.8 107.6h.01M108.0 120.1h.01M100.0 123.8h.01M101.4 132.1h.01M99.8 149.4h.01M104.9 129.5h.01M90.1 113.3h.01M91.0 121.2h.01M99.1 123.6h.01M97.0 128.6h.01M93.2 125.5h.01M94.4 118.1h.01M99.3 132.0h.01M99.9 114.8h.01M85.5 131.9h.01M88.6 96.3h.01M92.1 138.4h.01M99.6 92.6h.01M101.3 108.2h.01M105.7 112.6h.01M105.5 134.3h.01M94.6 126.1h.01M100.5 113.3h.01M92.9 120.4h.01M89.8 125.5h.01M95.7 129.6h.01M100.0 118.9h.01M96.4 125.2h.01M89.8 122.1h.01M99.8 115.3h.01M93.2 108.9h.01M92.1 112.2h.01M99.8 122.3h.01M101.4 123.7h.01M74.8 113.0h.01M93.2 115.4h.01M93.3 117.8h.01M94.6 132.7h.01M102.9 127.3h.01M91.8 122.6h.01M93.7 94.1h.01M84.4 118.3h.01M85.8 128.7h.01M97.9 115.5h.01M88.8 135.8h.01M105.7 114.1h.01M94.6 109.6h.01M94.6 131.3h.01M90.2 125.7h.01M103.9 127.5h.01M91.9 119.8h.01M92.5 102.6h.01M93.8 134.5h.01M87.5 118.0h.01M94.7 120.5h.01M93.3 119.1h.01M78.3 127.1h.01M83.3 114.6h.01M88.6 121.5h.01M100.1 130.6h.01M99.4 110.2h.01M92.9 129.2h.01M93.9 110.5h.01M91.1 113.8h.01M92.7 104.5h.01M93.5 124.3h.01M94.1 120.9h.01M93.1 126.6h.01M92.1 114.4h.01M97.5 115.5h.01M102.4 118.3h.01M90.8 114.1h.01M98.0 137.3h.01M89.2 134.4h.01M92.7 118.7h.01M96.8 123.4h.01M88.4 127.4h.01M89.3 117.0h.01M96.1 122.8h.01M88.0 119.0h.01M91.1 119.7h.01M90.6 105.9h.01M95.1 110.7h.01M101.0 133.9h.01M90.2 126.3h.01M103.9 110.7h.01M91.2 120.4h.01M100.2 100.0h.01M92.5 118.4h.01M91.7 120.9h.01M85.3 128.5h.01M90.3 126.1h.01M98.1 121.2h.01M95.5 126.4h.01M86.5 121.5h.01M94.5 131.9h.01M93.0 126.4h.01M82.1 111.3h.01M86.5 122.7h.01M94.1 122.5h.01M86.0 121.2h.01M100.0 108.0h.01M94.4 110.2h.01M95.1 131.7h.01M97.9 115.4h.01M98.6 138.4h.01M100.1 111.0h.01M100.2 116.9h.01M91.5 125.0h.01M97.1 112.2h.01M96.5 125.3h.01M95.4 121.6h.01M95.8 113.5h.01M94.4 137.0h.01M95.5 114.6h.01M96.9 117.5h.01M88.0 133.0h.01M92.3 98.4h.01M92.0 118.1h.01M79.3 108.7h.01M92.6 126.1h.01M95.7 104.8h.01M101.7 119.0h.01M85.9 136.1h.01M86.3 107.4h.01M93.1 116.7h.01M85.5 119.8h.01M102.5 113.1h.01M100.1 124.8h.01M82.4 114.0h.01M82.9 120.1h.01M91.5 118.8h.01M86.9 120.9h.01M89.1 117.0h.01M90.3 115.4h.01M84.2 117.3h.01M107.0 133.6h.01M86.7 102.7h.01M93.2 134.6h.01M88.5 117.7h.01M102.4 115.4h.01M88.5 135.8h.01M105.9 122.0h.01M88.0 113.7h.01M93.3 141.8h.01M99.0 113.1h.01M98.6 124.9h.01M91.2 130.7h.01M90.4 124.1h.01M86.9 112.7h.01M89.5 111.9h.01M97.8 124.6h.01M93.0 115.6h.01M79.6 123.8h.01M100.2 118.9h.01M95.1 109.6h.01M93.6 121.9h.01M95.9 104.2h.01M96.1 117.7h.01M97.3 130.0h.01M85.3 114.4h.01M98.0 115.4h.01M95.8 117.7h.01M105.7 122.2h.01M97.1 115.8h.01M87.8 112.5h.01M91.1 129.3h.01M97.4 116.6h.01M79.2 125.4h.01M96.8 112.0h.01M101.7 120.5h.01M89.7 128.3h.01M91.5 119.6h.01M88.4 126.8h.01M88.7 106.7h.01M99.3 124.6h.01M87.7 130.0h.01M94.6 117.7h.01M102.3 109.7h.01M93.3 130.3h.01M95.2 97.2h.01M93.7 138.3h.01M85.9 128.4h.01M94.6 127.1h.01M93.0 123.1h.01M95.4 116.3h.01M102.1 119.3h.01M93.1 140.3h.01M98.5 127.0h.01M93.8 108.2h.01M91.3 113.2h.01M94.2 121.1h.01M102.9 128.8h.01M95.3 113.0h.01M94.7 104.9h.01M103.4 117.0h.01M93.4 120.9h.01M96.1 125.4h.01M97.6 125.9h.01M98.1 120.7h.01M91.4 116.0h.01M97.9 118.9h.01M102.1 109.8h.01M105.0 112.8h.01M94.4 115.3h.01M86.2 117.6h.01M102.4 143.3h.01M84.5 123.2h.01M99.1 127.9h.01M86.7 104.5h.01M107.6 105.5h.01M88.7 124.1h.01M87.6 104.8h.01M92.0 131.1h.01M105.9 130.4h.01M103.9 117.1h.01M99.0 127.4h.01M92.8 111.2h.01M101.9 117.6h.01M90.5 132.8h.01M98.3 119.3h.01M96.8 118.5h.01M85.0 118.8h.01M106.2 130.2h.01M96.0 114.1h.01M86.9 105.2h.01M101.2 130.7h.01M92.6 123.3h.01M94.4 117.2h.01M89.0 131.9h.01M85.4 124.0h.01M88.7 117.7h.01M91.1 122.9h.01M83.4 121.0h.01M104.0 124.0h.01M90.2 120.9h.01M91.5 112.7h.01M115.8 117.4h.01M92.1 103.9h.01M91.3 115.5h.01M85.1 132.1h.01M106.3 105.6h.01M103.5 103.7h.01M102.1 135.8h.01M86.9 137.6h.01M83.6 130.5h.01M82.7 108.4h.01M105.2 110.5h.01M97.8 147.3h.01M92.0 127.2h.01M85.0 112.2h.01M83.9 115.9h.01M96.0 130.3h.01M92.1 128.8h.01M89.8 125.8h.01M94.6 118.9h.01M95.1 119.4h.01M97.7 117.6h.01M93.0 117.4h.01M88.7 124.5h.01M95.2 109.8h.01M89.7 118.3h.01M99.0 120.9h.01M92.5 122.6h.01M94.7 115.7h.01M91.3 109.1h.01M84.1 109.6h.01M99.2 126.3h.01M73.8 134.4h.01M89.2 133.9h.01M91.0 120.2h.01M92.6 107.9h.01M100.9 126.7h.01M90.6 132.4h.01M101.1 118.8h.01M93.3 114.3h.01M86.3 114.5h.01M95.7 136.2h.01M99.9 115.7h.01M100.0 121.5h.01M94.2 112.2h.01M89.5 122.3h.01M91.0 117.4h.01M96.2 135.1h.01M110.0 125.8h.01M99.1 114.1h.01M91.4 116.6h.01M101.4 122.2h.01M93.5 141.9h.01M95.3 127.3h.01M83.7 121.0h.01M96.8 123.0h.01M91.1 117.7h.01M93.8 119.9h.01M90.7 121.7h.01M87.3 110.2h.01M91.1 120.8h.01M101.7 107.6h.01M100.4 117.2h.01M94.4 122.4h.01M92.9 117.5h.01M105.5 131.5h.01M103.2 120.1h.01M85.5 128.2h.01M89.7 123.3h.01M94.2 128.0h.01M85.0 123.9h.01M106.2 119.7h.01M100.6 129.2h.01M93.3 104.9h.01M88.6 105.3h.01M78.3 115.5h.01M93.2 121.0h.01M99.7 104.3h.01M101.6 128.8h.01M99.5 104.3h.01M90.6 108.3h.01M101.1 112.2h.01M97.5 113.4h.01M95.3 126.0h.01M107.4 122.2h.01M96.0 121.0h.01M90.4 120.1h.01M97.0 128.4h.01M106.9 119.5h.01M101.4 118.5h.01M102.4 123.8h.01M89.0 117.3h.01M99.6 116.7h.01M99.5 107.7h.01M92.5 131.1h.01M93.4 116.0h.01M92.9 112.5h.01M106.0 105.5h.01M85.6 140.6h.01M98.2 125.6h.01M86.5 118.1h.01M94.8 128.3h.01M99.5 127.3h.01M90.2 119.7h.01M93.6 104.0h.01M92.7 114.1h.01M84.3 129.9h.01M93.8 116.1h.01M85.5 104.7h.01M97.3 109.4h.01M90.9 119.7h.01M98.1 132.1h.01M96.5 123.3h.01M92.6 124.4h.01M90.6 118.7h.01M93.6 111.2h.01M89.0 124.6h.01M100.4 132.7h.01M91.5 118.1h.01M94.9 114.2h.01M100.4 115.7h.01M100.7 118.1h.01M90.3 134.9h.01M88.2 123.6h.01M98.7 121.9h.01M108.2 119.4h.01M88.7 117.6h.01M94.1 116.0h.01M100.8 139.4h.01M94.3 114.1h.01M102.1 130.7h.01M100.4 125.6h.01M86.9 130.2h.01M89.2 113.2h.01M93.3 126.2h.01M91.1 140.1h.01M109.7 135.3h.01M102.6 129.8h.01M97.7 134.9h.01M104.6 110.2h.01M99.8 118.7h.01M92.8 116.2h.01M95.1 122.5h.01M104.8 126.1h.01M90.3 123.0h.01M99.9 120.1h.01M105.1 110.1h.01M96.0 121.0h.01M83.8 104.4h.01M87.1 114.6h.01M95.7 123.6h.01M95.4 121.8h.01M86.7 110.1h.01M91.5 124.4h.01M98.7 108.0h.01M101.5 113.9h.01M95.4 123.1h.01M100.1 116.7h.01M97.8 106.3h.01M95.7 128.4h.01M93.5 109.1h.01M93.2 124.5h.01M93.5 119.8h.01M97.8 127.8h.01M89.9 115.9h.01M90.9 119.2h.01M97.2 118.9h.01M91.0 118.7h.01M86.9 125.7h.01M91.9 129.9h.01M99.5 128.4h.01M92.1 120.8h.01M98.9 125.8h.01M100.8 116.4h.01M100.1 133.6h.01M97.2 120.3h.01M94.3 110.4h.01M94.9 109.9h.01M98.6 129.9h.01M92.1 132.2h.01M97.3 130.0h.01M91.3 111.8h.01M95.4 126.0h.01M100.1 109.8h.01M107.9 121.3h.01M100.0 125.3h.01M95.2 121.7h.01M91.1 103.4h.01M94.9 118.0h.01M98.4 121.9h.01M89.7 117.9h.01M89.7 118.7h.01M87.8 116.7h.01M92.4 119.8h.01M92.4 130.0h.01M99.3 122.5h.01M93.9 127.4h.01M96.2 101.1h.01M82.4 126.4h.01M96.6 140.5h.01M89.0 122.9h.01M93.1 137.8h.01M87.6 145.8h.01M83.2 124.7h.01M92.2 118.1h.01M88.5 117.7h.01M95.1 126.7h.01M98.6 114.6h.01M96.3 119.8h.01M98.8 120.2h.01M81.1 126.7h.01M98.4 130.2h.01M94.6 113.3h.01M88.8 106.8h.01M94.3 128.7h.01M93.1 149.2h.01M96.3 121.9h.01M98.8 117.3h.01M94.7 113.3h.01M89.1 120.0h.01M96.2 121.1h.01M96.5 111.2h.01M97.0 142.1h.01M95.9 120.2h.01M97.9 134.2h.01M99.2 125.6h.01M96.0 133.6h.01M92.1 116.9h.01M113.5 130.2h.01M93.9 122.2h.01M101.7 121.7h.01M87.7 127.0h.01M87.5 121.6h.01M87.6 104.3h.01M93.2 116.9h.01M97.7 117.3h.01M107.7 118.3h.01M83.9 136.2h.01M91.4 104.7h.01M100.1 114.4h.01M107.1 106.8h.01M102.6 109.3h.01M97.6 127.0h.01M96.1 134.8h.01M96.1 119.6h.01M98.9 122.7h.01M93.1 119.5h.01M83.5 106.1h.01M85.5 124.3h.01M84.4 107.0h.01M97.6 115.5h.01M95.4 120.9h.01M96.1 135.4h.01M87.7 113.9h.01M87.1 108.6h.01M98.3 131.9h.01M92.9 114.2h.01M95.2 123.0h.01M96.2 129.3h.01M94.2 134.5h.01M100.8 118.3h.01M81.0 117.2h.01M100.2 122.9h.01M89.3 140.7h.01M94.6 109.7h.01M97.3 121.7h.01M95.2 119.4h.01M86.8 115.4h.01M97.2 119.3h.01M90.1 124.9h.01M87.3 107.8h.01M96.1 107.4h.01M83.1 132.0h.01M90.8 114.9h.01M99.9 116.0h.01M106.6 122.5h.01M94.9 118.3h.01M95.8 121.2h.01M86.6 101.4h.01M95.0 134.4h.01M90.8 135.3h.01M105.8 113.5h.01M102.2 119.8h.01M92.3 135.0h.01M96.0 125.4h.01M95.9 117.8h.01M90.7 120.1h.01M101.7 118.4h.01M109.7 116.5h.01M99.5 121.9h.01M100.6 124.7h.01M110.0 130.3h.01M92.6 123.7h.01M85.2 113.4h.01M87.1 132.6h.01M93.3 118.2h.01M94.0 122.8h.01M100.1 123.1h.01M93.1 125.8h.01M97.4 132.1h.01M84.3 121.7h.01M97.2 139.5h.01M88.5 140.6h.01M87.6 125.8h.01M106.6 115.2h.01M91.2 117.8h.01M88.5 115.2h.01M97.0 116.7h.01M101.7 111.5h.01M101.4 127.1h.01M101.3 129.2h.01M95.1 118.4h.01M101.9 119.1h.01M100.4 128.8h.01M107.8 119.2h.01M102.5 115.1h.01M103.0 116.7h.01M99.0 120.8h.01M87.0 119.3h.01M90.1 134.7h.01M90.6 117.2h.01M87.2 112.0h.01M99.9 109.7h.01M85.3 112.8h.01M98.2 114.5h.01M93.1 121.2h.01M97.5 130.1h.01M96.6 123.2h.01M93.1 108.0h.01M99.7 119.4h.01M98.9 109.9h.01M89.6 112.0h.01M82.2 120.7h.01M97.0 116.6h.01M93.1 115.5h.01M89.3 125.2h.01M96.6 114.5h.01M96.5 126.2h.01M99.9 113.8h.01M91.4 127.8h.01M79.8 123.6h.01M96.6 124.8h.01M93.6 122.3h.01M91.0 115.0h.01M99.2 115.6h.01M91.6 140.1h.01M85.6 122.5h.01M80.8 111.4h.01M82.8 112.6h.01M84.6 116.7h.01M100.2 117.2h.01M88.9 118.3h.01M94.1 123.6h.01M92.6 103.8h.01M97.6 133.3h.01M102.3 108.8h.01M92.7 113.2h.01M99.9 131.8h.01M94.1 134.7h.01M96.8 112.2h.01M93.3 127.8h.01M97.6 124.5h.01M94.8 120.8h.01M92.3 121.5h.01M93.5 106.5h.01M99.1 113.3h.01M85.8 119.9h.01M103.2 120.2h.01M96.8 118.1h.01M94.5 128.6h.01M98.7 125.6h.01M88.1 127.8h.01M91.3 118.3h.01M97.3 106.1h.01M88.0 118.1h.01M90.8 119.0h.01M98.8 117.5h.01M100.9 123.5h.01M99.6 117.7h.01M82.2 134.2h.01M96.8 124.2h.01M87.2 120.7h.01M102.2 131.0h.01M92.5 105.6h.01M86.7 100.3h.01M91.8 100.4h.01M98.3 120.2h.01M97.3 112.4h.01M101.2 113.1h.01M106.5 124.4h.01M106.5 134.0h.01M94.0 119.8h.01M100.1 120.7h.01M92.6 128.4h.01M86.2 114.4h.01M100.7 119.5h.01M96.9 107.8h.01M97.0 126.1h.01M95.4 95.7h.01M97.7 115.4h.01M88.3 120.4h.01M88.0 108.3h.01M105.6 120.6h.01M97.3 107.6h.01M95.9 112.7h.01M94.1 122.7h.01M95.3 119.8h.01M96.7 118.5h.01M112.1 121.3h.01M94.5 113.2h.01M93.9 129.6h.01M90.1 118.6h.01M97.5 114.4h.01M100.6 119.2h.01M88.5 137.6h.01M101.8 117.0h.01M87.0 110.3h.01M94.6 106.2h.01M103.0 116.1h.01M91.7 94.7h.01M85.1 114.4h.01M87.7 137.4h.01M99.1 128.0h.01M101.2 104.1h.01M92.9 111.0h.01M103.0 128.0h.01M85.1 117.5h.01M99.9 134.3h.01M91.7 125.4h.01M85.4 103.1h.01M100.4 104.0h.01M101.2 110.3h.01M100.5 119.2h.01M97.4 123.9h.01M100.6 116.8h.01M95.3 92.5h.01M96.8 115.8h.01M88.2 116.8h.01M81.0 126.4h.01M99.5 114.5h.01M89.2 120.8h.01M90.2 99.8h.01M88.6 118.4h.01M97.2 116.4h.01M90.0 129.7h.01M100.1 120.6h.01M89.5 121.5h.01M84.6 119.9h.01M88.9 131.3h.01M87.9 104.9h.01M100.6 112.8h.01M101.7 129.3h.01M96.5 129.9h.01M93.6 114.8h.01M106.0 121.7h.01M104.0 106.6h.01M90.9 126.1h.01M100.5 119.0h.01M101.9 124.0h.01M85.5 116.2h.01M103.6 133.1h.01M86.8 118.0h.01M97.7 133.4h.01M97.4 103.3h.01M94.2 130.3h.01M94.1 116.6h.01M91.4 121.8h.01M90.3 127.5h.01M82.9 134.5h.01M102.3 126.0h.01M95.9 118.8h.01M94.9 137.2h.01M82.1 116.1h.01M87.6 125.9h.01M83.5 128.1h.01M105.0 110.9h.01M94.8 126.1h.01M91.7 113.4h.01M97.2 137.7h.01M93.1 120.0h.01M93.0 113.4h.01M87.0 108.1h.01M89.8 112.5h.01M88.3 131.4h.01M92.3 126.9h.01M95.2 124.2h.01M83.3 120.8h.01M89.8 134.0h.01M102.5 130.6h.01M91.8 106.8h.01M91.7 107.9h.01M102.3 109.1h.01M95.1 139.1h.01M101.5 118.7h.01M90.4 104.5h.01M90.7 118.8h.01M95.3 127.3h.01M81.8 116.7h.01M93.7 127.5h.01M83.1 109.5h.01M94.3 151.4h.01M99.0 129.0h.01M106.6 125.0h.01M93.2 119.1h.01M98.0 123.0h.01M90.9 91.6h.01M103.0 124.7h.01M86.9 124.6h.01M96.5 124.7h.01M83.1 115.5h.01M94.8 114.8h.01M102.4 119.9h.01M86.4 107.6h.01M94.3 133.3h.01M86.7 131.5h.01M106.8 119.0h.01M83.7 129.2h.01M86.7 118.2h.01M92.0 114.4h.01M95.1 117.4h.01M93.9 129.6h.01M85.9 130.5h.01M99.2 120.8h.01M92.4 116.2h.01M90.5 110.9h.01M86.5 127.2h.01M99.7 111.2h.01M98.7 113.6h.01M78.9 124.6h.01M87.3 121.5h.01M100.7 113.5h.01M90.0 124.0h.01M98.7 98.9h.01M98.6 124.5h.01M110.4 124.3h.01M93.4 149.7h.01M93.2 123.3h.01M106.2 116.6h.01M99.4 109.3h.01M89.4 113.1h.01M92.7 123.3h.01M99.4 136.2h.01M99.5 96.8h.01M79.9 106.6h.01M94.0 126.9h.01M99.2 128.0h.01M88.0 112.7h.01M95.3 138.4h.01M86.2 115.4h.01M99.1 119.5h.01M96.3 112.6h.01M95.2 120.4h.01M91.8 123.0h.01M91.0 113.0h.01M97.9 124.8h.01M89.2 134.1h.01M86.6 118.2h.01M96.0 123.2h.01M83.0 116.1h.01M84.8 124.3h.01M105.8 121.2h.01M91.9 125.7h.01M105.3 127.5h.01M95.4 100.5h.01M85.6 118.2h.01M79.1 128.7h.01M91.8 110.3h.01M91.9 131.1h.01M101.4 133.1h.01M96.7 112.5h.01M91.9 105.7h.01M95.2 114.3h.01M96.2 131.4h.01M86.6 108.5h.01M89.0 128.4h.01M84.6 136.3h.01M93.3 117.6h.01M102.9 134.9h.01M91.6 125.8h.01M90.8 143.9h.01M94.3 105.5h.01M89.6 108.5h.01M93.0 107.9h.01M101.1 128.5h.01M101.2 123.9h.01M85.5 109.0h.01M101.7 118.0h.01M93.1 124.2h.01M99.2 129.6h.01M96.3 114.4h.01M96.3 130.8h.01M95.1 121.3h.01M83.6 123.7h.01M109.0 132.7h.01M97.3 130.4h.01M93.1 117.2h.01M94.5 118.0h.01M88.4 116.1h.01M80.3 123.3h.01M77.4 114.8h.01M100.6 115.7h.01M90.0 120.4h.01M88.8 129.5h.01M96.2 141.3h.01M92.8 113.2h.01M92.0 125.7h.01M92.8 111.1h.01M86.0 127.1h.01M105.3 118.3h.01M99.1 128.9h.01M96.7 106.2h.01M92.6 125.3h.01M92.2 125.2h.01M98.5 125.2h.01M102.4 118.7h.01M95.4 128.1h.01M85.5 119.8h.01M96.4 116.6h.01M95.4 85.8h.01M93.1 132.2h.01M91.5 122.3h.01M83.5 111.9h.01M101.1 117.7h.01M83.4 152.0h.01M108.5 99.3h.01M104.6 120.2h.01M96.8 123.1h.01M87.2 128.3h.01M97.0 104.6h.01M93.7 123.7h.01M100.3 95.5h.01M89.4 116.6h.01M100.0 134.4h.01M99.7 123.7h.01M94.9 130.5h.01M95.2 130.1h.01M93.3 125.5h.01M97.1 119.4h.01M89.5 127.0h.01M100.9 110.1h.01M88.9 123.3h.01M97.0 123.0h.01M91.5 110.1h.01M91.7 118.5h.01M91.5 114.2h.01M92.6 121.1h.01M108.3 127.0h.01M92.0 114.7h.01M90.3 120.1h.01M88.1 116.8h.01M94.7 124.2h.01M103.9 128.6h.01M97.6 103.4h.01M90.4 123.8h.01M91.6 89.1h.01M88.5 138.0h.01M91.9 126.5h.01M96.7 106.7h.01M105.9 125.6h.01M98.0 124.5h.01M101.4 140.8h.01M97.7 133.9h.01M100.1 122.8h.01M94.7 125.7h.01M101.7 127.4h.01M94.4 129.8h.01M80.9 112.1h.01M102.8 112.5h.01M99.6 115.1h.01M90.5 119.2h.01M96.5 118.6h.01M101.1 119.0h.01M94.6 141.4h.01M99.8 120.9h.01M91.7 125.2h.01M90.6 118.0h.01M100.5 122.1h.01M93.2 127.0h.01M95.0 121.3h.01M100.6 125.6h.01M85.6 122.3h.01M95.2 126.7h.01M96.7 120.3h.01M97.4 119.6h.01M97.5 131.2h.01M96.6 125.6h.01M100.3 122.9h.01M93.0 109.7h.01M93.5 118.9h.01M94.3 131.1h.01M96.8 97.8h.01M99.0 120.9h.01M88.8 114.4h.01M102.8 111.8h.01M98.5 120.7h.01M100.8 114.4h.01M87.3 107.7h.01M96.9 114.8h.01M85.7 123.0h.01M93.5 131.2h.01M88.2 119.0h.01M86.7 121.3h.01M91.7 102.7h.01M83.3 116.4h.01M87.0 109.3h.01M88.2 99.3h.01M92.2 119.6h.01M86.2 133.5h.01M90.9 130.5h.01M96.0 157.7h.01M99.8 128.8h.01M87.4 112.4h.01M100.6 122.3h.01M86.5 121.7h.01M91.9 128.3h.01M93.9 130.0h.01M104.8 131.2h.01M89.3 132.0h.01M104.5 97.7h.01M88.7 126.6h.01M99.6 123.2h.01M95.1 121.9h.01M88.6 96.1h.01M99.0 115.1h.01M105.7 116.8h.01M89.8 115.6h.01M95.8 123.7h.01M94.7 131.9h.01M100.9 109.0h.01M88.7 122.7h.01M89.8 129.1h.01M85.9 121.0h.01M90.7 114.4h.01M84.9 118.1h.01M86.7 124.8h.01M97.2 107.1h.01M94.3 121.9h.01M93.7 122.2h.01M88.0 128.5h.01M96.1 106.1h.01M100.4 130.6h.01M99.0 127.2h.01M97.7 119.9h.01M85.3 128.1h.01M102.6 121.1h.01M87.8 120.1h.01M112.4 133.0h.01M102.3 126.4h.01M97.3 119.7h.01M97.9 132.3h.01M92.5 120.0h.01M91.7 123.7h.01M88.9 110.4h.01M88.6 119.6h.01M101.3 113.4h.01M84.5 115.5h.01M92.0 108.0h.01M97.3 128.6h.01M91.4 137.8h.01M92.4 129.4h.01M92.7 115.3h.01M96.3 138.2h.01M86.7 109.6h.01M94.1 125.7h.01M98.5 126.6h.01M106.1 118.1h.01M93.3 124.7h.01M93.1 116.0h.01M102.6 121.8h.01M104.8 115.9h.01M83.2 95.4h.01M99.8 115.8h.01M94.4 129.6h.01M108.2 134.8h.01M96.3 117.9h.01M89.2 112.3h.01M89.4 124.7h.01M80.9 109.2h.01M87.4 115.3h.01M88.6 132.7h.01M92.8 108.4h.01M101.5 109.8h.01M94.4 108.1h.01M92.0 144.3h.01M102.4 112.7h.01M89.1 122.0h.01M95.5 119.4h.01M96.9 123.7h.01M87.1 130.5h.01M89.2 108.1h.01M100.2 97.0h.01M93.5 110.4h.01M99.2 117.2h.01M87.7 132.1h.01M83.6 111.6h.01M95.6 122.2h.01M98.3 121.7h.01M90.9 108.2h.01M84.2 122.2h.01M99.5 126.1h.01M87.3 113.9h.01M93.4 121.6h.01M97.7 128.3h.01M92.8 121.8h.01M89.0 118.5h.01M100.4 116.6h.01M91.8 150.1h.01M99.7 115.1h.01M90.1 111.1h.01M114.0 98.6h.01M98.9 120.3h.01M93.9 126.1h.01M103.1 127.8h.01M88.1 139.1h.01M96.9 125.5h.01M107.7 120.3h.01M90.2 131.0h.01M101.2 140.0h.01M98.1 121.8h.01M104.6 120.4h.01M91.5 120.2h.01M94.8 116.9h.01M100.5 112.2h.01M95.2 123.3h.01M84.1 123.2h.01M81.8 109.8h.01M93.1 125.5h.01M105.1 127.4h.01M92.1 112.1h.01M89.2 111.9h.01M96.3 115.1h.01M88.0 117.3h.01M80.3 111.2h.01M93.8 95.6h.01M97.7 124.7h.01M86.0 116.8h.01M97.8 123.3h.01M88.6 149.5h.01M84.5 114.2h.01M94.1 117.4h.01M87.0 116.3h.01M107.3 123.0h.01M91.1 121.7h.01M97.1 116.2h.01M100.5 120.0h.01M85.3 121.2h.01M92.7 119.3h.01M96.2 116.1h.01M89.7 127.8h.01M90.8 124.1h.01M91.4 130.5h.01M93.4 124.9h.01M100.1 120.3h.01M83.1 120.7h.01M87.0 125.6h.01M90.9 124.9h.01M94.6 122.7h.01M92.9 103.2h.01M85.2 131.2h.01M90.8 112.5h.01M93.1 125.2h.01M92.8 142.1h.01M100.8 134.1h.01M90.0 130.2h.01M92.0 107.4h.01M92.8 107.0h.01M92.9 119.2h.01M89.4 132.3h.01M96.9 119.2h.01M107.0 121.8h.01M96.3 108.2h.01M95.8 119.1h.01M103.0 128.1h.01M96.7 117.4h.01M99.8 123.2h.01M96.8 118.3h.01M89.5 117.4h.01M95.3 115.4h.01M91.9 127.7h.01M102.4 121.4h.01M93.9 120.5h.01M104.6 116.0h.01M89.6 109.7h.01M84.8 119.3h.01M86.3 113.9h.01M99.6 121.5h.01M99.9 116.0h.01M89.4 113.5h.01M98.9 111.9h.01M103.2 144.4h.01M94.3 113.5h.01M91.9 116.0h.01M112.4 111.4h.01M94.1 106.8h.01M85.6 127.7h.01M103.1 113.0h.01M100.8 116.3h.01M88.7 111.0h.01M92.6 131.7h.01M95.1 113.8h.01M85.5 126.6h.01M101.8 107.3h.01M98.0 111.4h.01M85.3 124.4h.01M88.3 113.8h.01M104.4 130.4h.01M93.8 117.4h.01M100.5 114.3h.01M94.7 120.3h.01M91.5 122.9h.01M89.5 104.2h.01M101.4 137.0h.01M101.5 107.9h.01M109.5 118.9h.01M98.5 122.7h.01M92.5 124.9h.01M92.6 116.8h.01M96.9 123.8h.01M90.5 117.6h.01M92.9 138.6h.01M92.3 115.2h.01M92.1 111.3h.01M101.7 130.5h.01M107.1 125.3h.01M103.0 142.4h.01M95.8 125.5h.01M91.8 126.8h.01M100.6 138.7h.01M90.6 136.1h.01M105.8 123.7h.01M92.3 126.2h.01M98.8 110.8h.01M88.1 132.7h.01M88.9 106.4h.01M103.5 129.5h.01M100.8 137.4h.01M94.6 132.5h.01M102.9 114.3h.01M93.4 126.5h.01M95.5 108.9h.01M96.0 128.0h.01M87.8 124.8h.01M88.4 128.4h.01M105.4 127.6h.01M83.1 127.6h.01M91.8 128.1h.01M108.1 133.0h.01M93.7 125.3h.01M96.2 127.1h.01M101.2 115.2h.01M97.4 141.7h.01M90.9 123.2h.01M98.1 130.3h.01M96.6 109.6h.01M94.6 115.6h.01M101.5 137.7h.01M93.7 123.7h.01M92.0 138.5h.01M95.0 128.9h.01M95.9 121.5h.01M86.8 122.5h.01M91.2 115.1h.01M100.9 125.0h.01M98.6 134.2h.01M90.8 114.6h.01M90.7 119.8h.01M90.7 124.1h.01M90.5 114.2h.01M95.7 121.9h.01M97.7 120.5h.01M82.0 111.2h.01M84.6 106.7h.01M88.5 104.0h.01M97.3 132.2h.01M99.9 122.0h.01M99.4 125.4h.01M90.1 109.6h.01M91.4 122.2h.01M92.8 123.4h.01M94.8 112.6h.01M101.0 120.2h.01M101.9 121.2h.01M103.6 131.3h.01M97.2 115.9h.01M100.3 117.3h.01M91.1 133.5h.01M95.2 119.4h.01M91.3 97.2h.01M91.8 115.5h.01M102.6 141.8h.01M91.8 131.9h.01M93.8 122.0h.01M94.7 107.7h.01M92.7 135.1h.01M101.8 117.0h.01M101.0 113.7h.01M92.7 120.4h.01M88.3 125.0h.01M98.4 115.5h.01M91.4 116.1h.01M90.6 110.1h.01M97.7 120.3h.01M88.2 116.0h.01M84.5 125.4h.01M82.0 129.5h.01M93.9 117.2h.01M98.0 136.2h.01M81.8 110.3h.01M96.1 124.4h.01M92.9 126.0h.01M77.8 127.4h.01M88.4 121.3h.01M95.1 114.1h.01M99.6 122.4h.01M90.4 117.5h.01M89.9 127.4h.01M87.4 112.1h.01M92.9 112.9h.01M99.2 98.1h.01M89.4 120.5h.01M90.2 113.6h.01M81.2 105.8h.01M91.4 120.8h.01M91.9 120.0h.01M90.2 118.5h.01M97.8 127.8h.01M104.2 121.9h.01M91.4 115.3h.01M96.6 119.1h.01M87.9 109.1h.01M96.8 125.1h.01M89.6 123.6h.01M90.3 123.9h.01M96.0 144.1h.01M93.6 113.2h.01M93.0 114.7h.01M99.8 114.6h.01M100.3 121.5h.01M86.2 128.4h.01M91.4 125.0h.01M92.4 108.8h.01M84.0 107.6h.01M91.0 118.2h.01M90.1 115.9h.01M102.1 118.4h.01M78.9 137.8h.01M89.7 116.1h.01M92.6 115.6h.01M95.9 103.1h.01M94.1 120.3h.01M101.7 113.7h.01M102.7 105.3h.01M92.7 123.2h.01M90.7 109.8h.01M98.9 129.0h.01M91.5 113.2h.01M103.2 116.3h.01M96.6 123.4h.01M92.2 124.7h.01M99.7 143.9h.01M98.9 132.1h.01M97.6 125.8h.01M104.8 132.3h.01M101.6 124.2h.01M97.6 102.4h.01M92.2 124.1h.01M103.3 124.8h.01M96.5 133.3h.01M102.5 107.4h.01M98.2 124.4h.01M92.1 132.8h.01M89.1 116.5h.01M95.8 121.7h.01M98.9 121.5h.01M98.8 97.7h.01M98.4 120.6h.01M92.4 99.1h.01M98.4 119.6h.01M94.7 110.9h.01M99.1 115.8h.01M85.2 129.6h.01M93.2 123.1h.01M99.1 129.0h.01M92.6 99.1h.01M81.1 109.2h.01M98.6 120.7h.01M85.7 128.0h.01M101.6 129.8h.01M94.0 125.3h.01M89.2 121.2h.01M82.3 139.4h.01M97.6 130.5h.01M106.1 118.5h.01M88.3 118.8h.01M96.6 139.1h.01M93.4 124.1h.01M102.9 115.1h.01M101.2 123.5h.01M82.1 137.7h.01M89.7 121.5h.01M83.1 109.6h.01M91.7 119.0h.01M97.0 143.7h.01M88.8 110.9h.01M91.7 146.9h.01M94.9 128.6h.01M101.8 129.3h.01M99.4 116.0h.01M98.6 116.2h.01M96.9 115.6h.01M88.2 119.4h.01M91.6 110.4h.01M96.0 129.7h.01M89.7 115.3h.01M95.8 123.2h.01M90.5 146.7h.01M93.6 126.0h.01M94.6 136.7h.01M99.0 128.6h.01M94.6 110.2h.01M104.0 129.5h.01M88.9 123.5h.01M100.7 123.4h.01M99.2 122.4h.01M89.6 128.4h.01M98.6 119.8h.01M74.4 124.0h.01M94.9 116.8h.01M107.3 121.6h.01M104.7 120.9h.01M93.9 111.4h.01M97.3 127.2h.01M103.7 130.1h.01M90.4 118.9h.01M94.5 123.5h.01M98.9 138.0h.01M87.6 114.5h.01M100.4 117.3h.01M83.2 119.8h.01M96.7 112.5h.01M119.1 112.4h.01M108.3 128.7h.01M93.5 118.2h.01M94.5 113.0h.01M103.6 129.1h.01M80.8 121.9h.01M91.8 131.2h.01M95.0 104.8h.01M88.4 110.2h.01M101.6 114.4h.01M76.6 121.5h.01M96.3 115.4h.01M101.8 122.0h.01M99.3 99.7h.01M93.5 121.5h.01M95.2 121.1h.01M90.1 122.1h.01M101.6 117.6h.01M94.8 114.7h.01M85.6 112.6h.01M94.5 121.3h.01M97.3 117.7h.01M100.9 130.3h.01M98.3 121.1h.01M74.3 114.7h.01M84.6 115.7h.01M87.2 119.7h.01M94.0 114.6h.01M98.8 111.7h.01M98.5 118.8h.01M99.9 120.7h.01M90.9 113.9h.01M93.6 127.5h.01M86.9 131.9h.01M91.0 125.4h.01M96.9 138.5h.01M105.0 110.5h.01M93.6 114.1h.01M94.7 118.2h.01M97.6 122.4h.01M81.2 121.4h.01M93.7 116.4h.01M98.0 117.1h.01M89.8 126.1h.01M89.0 126.3h.01M101.7 129.7h.01M93.4 117.6h.01M88.7 125.2h.01M89.0 116.1h.01M96.6 127.9h.01M94.8 118.8h.01M89.8 136.2h.01M90.2 132.4h.01M96.4 131.7h.01M86.6 129.1h.01M95.7 105.8h.01M73.5 132.4h.01M85.1 129.1h.01M95.7 127.6h.01M91.0 131.1h.01M87.8 115.7h.01M95.7 113.9h.01M96.6 103.8h.01M98.3 104.2h.01M82.0 124.3h.01M91.8 126.3h.01M93.4 96.7h.01M88.9 111.4h.01M89.1 117.0h.01M96.7 138.5h.01M89.0 124.6h.01M96.9 85.7h.01M96.9 121.1h.01M76.7 122.3h.01M95.9 109.3h.01M91.4 115.8h.01M87.3 116.1h.01M86.9 124.4h.01M85.4 102.3h.01M109.1 117.8h.01M93.3 111.8h.01M88.6 110.1h.01M88.3 111.8h.01M88.9 110.4h.01M87.7 125.3h.01M97.6 114.5h.01M91.7 110.2h.01M90.7 117.8h.01M93.6 119.7h.01M88.5 127.3h.01M85.6 131.9h.01M97.0 118.9h.01M100.1 112.6h.01M94.8 142.2h.01M91.2 105.8h.01M88.5 106.2h.01M93.2 123.6h.01M97.1 118.2h.01M97.6 128.6h.01M83.4 123.5h.01M93.6 102.6h.01M94.3 102.8h.01M97.5 116.2h.01M94.8 119.1h.01M97.7 116.7h.01M103.2 118.3h.01M95.4 122.9h.01M80.4 110.4h.01M98.5 123.1h.01M104.2 117.7h.01M95.1 114.7h.01M90.3 137.3h.01M94.3 113.9h.01M95.4 110.6h.01M90.9 118.0h.01M90.9 129.5h.01M96.4 118.8h.01M101.1 118.5h.01M91.8 123.6h.01M103.2 126.3h.01M92.9 125.7h.01M93.0 124.0h.01M97.2 115.6h.01M110.6 120.7h.01M105.5 117.3h.01M93.5 128.1h.01M99.6 107.4h.01M103.4 119.5h.01M96.8 139.5h.01M94.0 104.7h.01M96.5 104.9h.01M105.9 117.1h.01M86.7 123.5h.01M95.3 101.1h.01M94.7 116.1h.01M89.9 121.7h.01M106.4 122.6h.01M100.0 125.9h.01M95.1 105.9h.01M96.4 118.4h.01M88.2 134.5h.01M98.8 121.3h.01M93.2 114.2h.01M93.9 115.0h.01M97.7 127.6h.01M88.3 125.9h.01M86.5 127.8h.01M97.4 115.6h.01M95.8 122.8h.01M89.7 127.4h.01M88.6 123.9h.01M95.0 117.4h.01M101.0 125.4h.01M99.0 122.8h.01M94.4 122.6h.01M90.6 125.4h.01M88.5 126.8h.01M98.2 122.3h.01M89.1 120.4h.01M105.3 108.0h.01M88.5 125.3h.01M98.0 123.0h.01M94.4 115.6h.01M85.4 125.7h.01M91.8 111.0h.01M77.3 130.1h.01M101.1 116.0h.01M93.9 129.9h.01M99.1 120.8h.01M98.8 105.2h.01M98.6 121.1h.01M92.3 118.4h.01M95.6 117.7h.01M87.8 111.6h.01M87.9 118.2h.01M94.3 115.6h.01M97.9 125.4h.01M91.3 101.6h.01M91.2 118.6h.01M96.9 118.6h.01M89.9 131.9h.01M94.1 121.6h.01M88.9 111.6h.01M102.5 118.2h.01M92.9 126.0h.01M81.7 122.4h.01M101.2 127.0h.01M90.5 125.9h.01M99.9 105.5h.01M98.3 122.6h.01M100.3 115.0h.01M97.1 131.1h.01M90.8 115.9h.01M95.1 120.6h.01M90.5 127.1h.01M86.9 114.0h.01M84.6 120.8h.01M85.0 124.9h.01M90.9 132.8h.01M96.2 96.4h.01M95.4 107.8h.01M90.6 129.2h.01M94.1 127.1h.01M94.0 126.7h.01M87.4 117.2h.01M87.9 123.9h.01M88.5 123.2h.01M97.9 128.3h.01M89.4 124.1h.01M100.1 120.4h.01M100.7 116.0h.01M100.3 120.0h.01M86.1 127.5h.01M100.7 124.3h.01M96.4 113.5h.01M102.9 121.4h.01M88.6 117.6h.01M90.5 125.3h.01M98.8 110.0h.01M94.0 122.9h.01M86.7 115.4h.01M94.2 112.9h.01M88.1 117.4h.01M95.6 121.0h.01M105.8 114.4h.01M92.9 106.8h.01M89.3 142.1h.01M100.6 108.5h.01M94.0 143.2h.01M88.5 112.4h.01M88.9 115.4h.01M88.6 143.4h.01M92.1 120.7h.01M91.3 113.4h.01M92.7 107.8h.01M84.8 130.7h.01M93.2 118.8h.01M93.6 134.0h.01M96.4 123.9h.01M86.4 119.4h.01M98.2 126.1h.01M87.1 124.1h.01M90.7 133.7h.01M95.9 117.0h.01M100.4 117.7h.01M94.9 123.2h.01M90.3 131.5h.01M101.7 126.4h.01M87.2 126.9h.01M100.0 126.4h.01M88.9 119.5h.01M95.9 119.8h.01M98.1 109.9h.01M94.9 114.0h.01M96.7 131.6h.01M95.6 118.5h.01M89.9 105.4h.01M97.8 116.4h.01M89.3 129.9h.01M93.6 127.0h.01M104.9 132.2h.01M94.1 125.4h.01M90.8 111.2h.01M93.2 108.4h.01M103.0 111.7h.01M94.2 131.8h.01M89.5 126.3h.01M95.2 113.0h.01M104.1 136.8h.01M97.1 121.6h.01M100.2 121.5h.01M99.3 113.1h.01M89.8 108.7h.01M92.5 119.6h.01M100.7 125.9h.01M91.7 113.5h.01M94.6 124.3h.01M91.2 125.6h.01M90.6 131.5h.01M90.3 127.3h.01M94.6 118.3h.01M90.7 120.1h.01M92.4 117.5h.01M107.5 114.5h.01M99.3 121.6h.01M101.5 105.3h.01M101.3 114.5h.01M88.8 123.8h.01M88.3 128.1h.01M102.8 122.0h.01M90.6 148.3h.01M87.7 124.4h.01M88.2 117.2h.01M97.4 128.3h.01M87.1 109.6h.01M99.6 133.6h.01M93.2 124.3h.01M95.0 115.8h.01M97.3 125.2h.01M92.0 108.3h.01M94.3 108.0h.01M88.4 127.7h.01M86.4 118.6h.01M107.1 119.9h.01M97.6 132.5h.01M94.7 149.5h.01M98.1 123.0h.01M97.7 155.9h.01M106.7 125.0h.01M98.2 130.0h.01M95.8 113.3h.01M91.1 108.3h.01M94.3 138.9h.01M97.7 123.4h.01M99.8 121.0h.01M94.8 138.2h.01M91.6 118.3h.01M91.0 136.0h.01M75.8 116.7h.01M99.5 117.5h.01M91.7 119.7h.01M89.3 133.1h.01M99.0 125.8h.01M82.0 123.3h.01M96.4 121.0h.01M99.1 103.7h.01M83.9 121.8h.01M95.3 112.0h.01M78.8 120.9h.01M92.9 124.1h.01M96.5 119.8h.01M109.9 133.2h.01M87.5 117.3h.01M95.4 111.7h.01M82.7 117.0h.01M88.1 127.1h.01M96.4 120.8h.01M94.1 117.9h.01M94.3 142.2h.01M80.5 110.9h.01M92.8 123.0h.01M86.7 116.4h.01M95.5 131.5h.01M94.1 108.5h.01M95.9 123.6h.01M94.4 112.4h.01M96.7 112.8h.01M91.0 109.9h.01M87.5 124.7h.01M95.5 119.1h.01M90.2 119.6h.01M84.6 122.3h.01M102.5 118.4h.01M87.4 107.4h.01M93.5 129.5h.01M87.7 115.5h.01M94.8 120.2h.01M91.6 117.3h.01M89.9 125.6h.01M96.7 100.1h.01M98.4 131.6h.01M96.0 121.3h.01M92.3 114.8h.01M85.5 133.9h.01M81.9 117.0h.01M98.8 115.1h.01M99.4 120.6h.01M85.1 109.6h.01M76.4 139.8h.01M83.8 118.9h.01M94.9 111.8h.01M91.5 107.3h.01M93.2 123.5h.01M92.4 116.2h.01M89.8 136.0h.01M91.6 125.0h.01M96.1 129.1h.01M93.6 117.4h.01M86.3 128.8h.01M85.2 124.7h.01M98.0 124.4h.01M96.3 141.8h.01M91.2 135.1h.01M83.1 112.9h.01M94.0 117.7h.01M104.6 122.2h.01M105.6 133.8h.01M100.8 125.7h.01M101.5 149.9h.01M95.9 110.2h.01M90.4 120.5h.01M95.2 119.3h.01M89.2 105.6h.01M83.1 132.0h.01M99.1 99.9h.01M84.4 107.3h.01M91.7 125.1h.01M90.7 119.2h.01M95.1 112.1h.01M98.0 96.8h.01M98.3 130.3h.01M99.2 97.5h.01M87.5 126.0h.01M99.9 116.2h.01M82.0 117.6h.01M89.8 123.6h.01M86.9 124.2h.01M95.4 112.5h.01M90.0 131.0h.01M95.2 118.5h.01M104.0 124.3h.01M95.7 131.1h.01M96.9 110.5h.01M89.9 121.1h.01M104.5 121.9h.01M98.2 123.5h.01M95.0 114.5h.01M99.7 137.3h.01M89.0 128.1h.01M90.5 122.6h.01M90.4 122.0h.01M90.0 124.9h.01M92.4 120.7h.01M97.9 102.7h.01M97.3 109.4h.01M100.0 131.0h.01M104.7 122.1h.01M77.7 119.2h.01M100.6 131.2h.01M94.5 120.4h.01M96.5 129.6h.01M100.8 126.9h.01M95.9 131.5h.01M89.9 116.8h.01M89.7 130.2h.01M96.6 114.3h.01M97.2 113.9h.01M90.5 114.2h.01M90.4 121.6h.01M86.9 122.3h.01M90.5 113.1h.01M96.0 125.0h.01M91.1 136.3h.01M96.3 91.5h.01M94.9 114.5h.01M79.8 104.9h.01M81.7 121.6h.01M92.2 112.3h.01M92.6 110.3h.01M95.0 118.3h.01M90.0 120.0h.01M79.3 133.8h.01M90.2 118.3h.01M82.2 122.2h.01M91.3 119.9h.01M93.3 110.0h.01M93.7 126.7h.01M83.4 121.7h.01M101.4 124.1h.01M100.4 141.9h.01M95.2 129.2h.01M98.5 107.3h.01M88.8 112.1h.01M95.2 117.9h.01M89.3 136.6h.01M82.1 132.8h.01M99.4 109.7h.01M94.6 124.0h.01M96.6 115.9h.01M92.7 96.6h.01M98.8 134.9h.01M91.2 103.4h.01M96.6 121.7h.01M84.6 119.7h.01M98.3 115.1h.01M102.5 107.5h.01M94.7 117.0h.01M99.6 135.2h.01M92.6 130.0h.01M95.3 104.6h.01M94.8 117.4h.01M103.0 125.6h.01M81.5 110.7h.01M96.8 124.0h.01M86.5 112.4h.01M103.0 115.6h.01M93.0 96.4h.01M94.1 136.4h.01M92.2 95.9h.01M98.9 118.1h.01M100.4 123.7h.01M111.0 125.2h.01M100.4 129.9h.01M89.0 118.2h.01M94.2 119.7h.01M93.9 116.7h.01M97.7 114.0h.01M98.3 106.7h.01M93.5 113.7h.01M90.4 118.6h.01M90.3 110.0h.01M84.9 111.9h.01M89.7 125.7h.01M89.2 124.0h.01M93.4 127.3h.01M105.9 128.6h.01M89.9 137.6h.01M94.6 129.2h.01M81.3 126.7h.01M94.8 117.8h.01M97.6 126.5h.01M97.1 117.1h.01M95.7 100.2h.01M96.3 115.4h.01M86.3 117.9h.01M90.9 128.8h.01M86.8 119.7h.01M93.8 139.0h.01M90.9 127.4h.01M102.0 124.4h.01M107.1 120.9h.01M81.2 122.4h.01M96.0 115.1h.01M99.6 104.0h.01M93.6 100.9h.01M97.3 110.3h.01M92.0 125.0h.01M96.1 116.7h.01M96.6 125.9h.01M92.0 113.6h.01M92.8 130.5h.01M87.5 123.6h.01M99.6 119.6h.01M99.7 117.3h.01M90.2 118.3h.01M97.8 119.7h.01M90.9 127.1h.01M95.3 118.1h.01M93.9 128.5h.01M101.1 136.8h.01M96.2 121.1h.01M92.2 128.9h.01M92.5 123.0h.01M95.8 127.6h.01M98.4 128.2h.01M101.3 124.7h.01M87.2 116.0h.01M96.4 120.9h.01M99.5 145.9h.01M90.8 134.8h.01M95.4 129.5h.01M92.2 105.0h.01M111.8 132.8h.01M84.0 129.6h.01M99.7 117.7h.01M92.8 117.2h.01M80.9 130.0h.01M96.1 121.4h.01M92.4 119.6h.01M82.8 96.8h.01M91.5 116.7h.01M93.1 122.3h.01M93.4 113.2h.01M87.8 129.6h.01M100.3 114.5h.01M95.8 126.5h.01M92.7 123.3h.01M88.3 131.0h.01M88.8 116.9h.01M104.7 131.3h.01M102.0 122.6h.01M91.5 118.0h.01M84.6 123.2h.01M103.8 114.5h.01M85.5 129.0h.01M104.0 128.6h.01M88.0 119.6h.01M99.4 134.9h.01M97.6 141.5h.01M92.4 138.7h.01M96.0 117.1h.01M88.9 132.7h.01M88.7 117.4h.01M88.3 96.7h.01M97.4 119.3h.01M90.7 118.7h.01M82.0 117.7h.01M96.1 118.1h.01M102.5 125.6h.01M92.6 110.8h.01M101.9 134.4h.01M98.5 109.3h.01M100.3 109.3h.01M96.4 145.6h.01M96.7 123.4h.01M91.8 111.1h.01M88.9 112.2h.01M82.5 122.8h.01M101.9 113.6h.01M82.1 105.4h.01M98.9 111.4h.01M92.6 125.0h.01M104.5 125.8h.01M93.5 118.5h.01M98.5 129.2h.01M101.3 109.5h.01M90.4 118.8h.01M80.0 132.7h.01M103.9 116.5h.01M90.1 126.3h.01M94.1 125.4h.01M103.0 116.9h.01M95.3 120.2h.01M87.3 115.0h.01M101.3 116.4h.01M93.5 114.5h.01M97.4 133.9h.01M88.9 121.4h.01M89.6 135.3h.01M99.3 121.0h.01M91.4 129.7h.01M102.2 128.3h.01M104.7 129.5h.01M97.5 119.9h.01M101.4 117.3h.01M97.1 118.2h.01M103.0 121.9h.01M108.4 131.8h.01M100.5 132.5h.01M98.0 110.8h.01M93.5 125.3h.01M79.5 116.3h.01M98.6 121.5h.01M92.4 126.3h.01M95.8 124.4h.01M93.2 124.1h.01M110.1 121.5h.01M94.4 127.8h.01M96.7 124.6h.01M98.4 122.0h.01M97.8 146.1h.01M96.8 118.3h.01M87.1 120.4h.01M98.7 123.3h.01M101.5 140.7h.01M96.9 116.9h.01M93.8 110.8h.01M101.8 122.8h.01M93.2 126.1h.01M105.0 122.9h.01M108.5 123.7h.01M88.6 115.3h.01M87.3 120.4h.01M96.4 117.5h.01M93.8 113.8h.01M84.6 144.5h.01M95.8 124.9h.01M100.9 96.5h.01M87.5 124.8h.01M83.9 138.7h.01M87.8 134.2h.01M92.8 128.5h.01M90.9 103.8h.01M93.0 121.8h.01M89.9 124.7h.01M86.7 118.1h.01M90.6 109.2h.01M104.1 131.8h.01M100.3 121.8h.01M103.2 130.5h.01M95.9 125.8h.01M91.9 122.6h.01M98.1 125.1h.01M97.0 101.9h.01M84.6 113.9h.01M89.0 136.1h.01M94.5 128.8h.01M94.2 121.2h.01M99.6 108.9h.01M82.5 118.2h.01M91.4 124.8h.01M89.7 122.0h.01M97.4 114.7h.01M91.9 118.6h.01M97.3 119.5h.01M85.1 117.8h.01M82.9 113.0h.01M99.5 115.5h.01M103.2 134.8h.01M87.4 114.7h.01M99.5 125.4h.01M102.4 125.8h.01M103.3 120.2h.01M100.1 113.5h.01M104.9 131.1h.01M88.2 119.2h.01M87.6 123.5h.01M101.6 145.8h.01M97.8 134.8h.01M99.7 122.1h.01M86.0 113.3h.01M96.7 130.2h.01M92.9 115.3h.01M96.8 125.2h.01M98.9 121.5h.01M90.6 125.7h.01M90.2 115.2h.01M94.9 137.7h.01M104.7 127.2h.01M95.1 115.0h.01M93.5 131.9h.01M91.1 139.5h.01M99.5 114.7h.01M90.9 124.2h.01M94.4 117.4h.01M85.6 112.4h.01M106.8 125.1h.01M92.6 123.9h.01M93.6 133.0h.01M86.1 121.6h.01M92.6 120.1h.01M100.6 122.8h.01M85.9 136.6h.01M92.4 108.4h.01M96.2 114.1h.01M88.9 119.5h.01M105.1 135.2h.01M90.1 113.9h.01M97.5 120.7h.01M95.9 116.4h.01M77.3 125.4h.01M89.7 111.0h.01M91.2 125.4h.01M92.3 132.4h.01M105.0 114.5h.01M105.0 121.1h.01M76.6 115.6h.01M92.4 116.7h.01M92.8 116.1h.01M102.6 113.0h.01M101.8 125.6h.01M91.4 90.8h.01M90.1 122.4h.01M104.3 120.8h.01M87.5 111.4h.01M85.7 127.9h.01M99.7 124.9h.01M100.4 132.5h.01M101.4 112.8h.01M91.3 112.9h.01M100.0 108.6h.01M85.2 115.8h.01M83.7 119.6h.01M82.2 105.4h.01M99.1 140.4h.01M93.4 112.1h.01M90.4 112.1h.01M95.6 121.0h.01M102.5 120.9h.01M97.0 128.4h.01M96.0 124.8h.01M101.8 116.0h.01M82.8 114.8h.01M108.4 118.7h.01M101.1 112.5h.01M97.6 126.9h.01M93.4 124.3h.01M100.9 116.4h.01M93.2 116.2h.01M95.6 130.8h.01M95.5 118.3h.01M86.6 124.9h.01M106.6 131.7h.01M89.5 112.6h.01M99.9 115.6h.01M92.7 139.3h.01M81.6 125.2h.01M98.3 112.2h.01M95.2 96.3h.01M95.7 111.7h.01M81.5 107.9h.01M102.0 118.3h.01M86.8 126.8h.01M88.2 121.5h.01M89.4 118.5h.01M91.6 120.6h.01M92.2 125.6h.01M102.8 114.1h.01M98.5 125.3h.01M92.4 117.9h.01M98.7 123.7h.01M98.8 115.0h.01M94.4 123.1h.01M95.1 95.1h.01M101.9 113.1h.01M96.0 117.3h.01M99.1 119.6h.01M99.6 121.2h.01M89.2 111.1h.01M96.5 125.6h.01M92.3 132.4h.01M90.3 122.1h.01M95.4 117.6h.01M86.7 109.8h.01M95.6 115.3h.01M94.5 137.5h.01M90.9 129.1h.01M94.4 120.3h.01M88.9 113.0h.01M97.0 115.1h.01M87.9 137.2h.01M87.6 118.2h.01M79.2 120.3h.01M93.9 113.0h.01M84.9 105.8h.01M100.2 129.7h.01M97.0 111.7h.01M90.6 116.6h.01M97.7 109.2h.01M100.2 117.8h.01M100.7 116.6h.01M79.7 126.7h.01M95.1 124.6h.01M106.2 119.9h.01M93.5 119.0h.01M79.4 121.1h.01M96.7 126.3h.01M93.0 118.4h.01M78.9 107.0h.01M91.1 114.0h.01M77.0 105.5h.01M95.4 125.2h.01M92.9 118.7h.01M100.2 125.5h.01M100.0 96.9h.01M96.4 113.8h.01M94.6 122.7h.01M95.7 115.4h.01M94.8 113.9h.01M90.2 129.0h.01M98.9 109.5h.01M101.7 125.3h.01M103.1 130.9h.01M95.2 118.5h.01M96.1 132.4h.01M88.0 111.5h.01M107.1 129.4h.01M89.4 119.8h.01M88.0 122.5h.01M96.8 121.9h.01M97.6 116.3h.01M99.4 124.6h.01M100.7 119.7h.01M92.2 116.6h.01M101.2 115.6h.01M85.4 133.6h.01M99.0 124.2h.01M79.4 117.2h.01M90.6 119.9h.01M92.0 116.0h.01M85.2 126.5h.01M88.8 124.4h.01M90.6 120.7h.01M93.8 122.3h.01M87.6 115.5h.01M99.1 123.2h.01M89.7 118.8h.01M102.0 121.3h.01M90.5 132.5h.01M95.9 115.2h.01M94.1 125.4h.01M94.8 120.4h.01M93.8 120.9h.01M92.0 116.1h.01M102.1 118.4h.01M113.8 129.4h.01M98.0 121.3h.01M89.3 115.2h.01M85.1 124.2h.01M99.6 123.7h.01M85.8 120.1h.01M96.7 112.6h.01M92.6 121.1h.01M102.2 116.9h.01M94.6 129.4h.01M93.1 114.5h.01M97.6 123.4h.01M93.9 123.4h.01M90.8 118.4h.01M98.6 139.1h.01M98.0 108.0h.01M106.8 128.2h.01M93.7 126.1h.01M103.7 118.4h.01M87.2 123.2h.01M89.3 123.4h.01M96.3 103.4h.01M95.6 126.0h.01M99.9 104.4h.01M100.7 117.2h.01M88.2 118.0h.01M93.9 131.7h.01M97.1 126.4h.01M95.3 119.4h.01M97.1 118.3h.01M93.3 124.1h.01M107.0 123.5h.01M86.5 135.2h.01M83.9 122.7h.01M102.0 122.5h.01M90.1 132.1h.01M101.4 109.0h.01M81.0 120.5h.01M89.7 123.2h.01M95.6 112.6h.01M98.4 119.0h.01M98.4 123.7h.01M98.9 133.6h.01M102.3 116.5h.01M84.8 115.6h.01M81.6 105.8h.01M95.7 126.1h.01M81.2 114.9h.01M95.1 104.5h.01M96.7 116.5h.01M89.8 113.6h.01M92.9 127.4h.01M95.8 121.9h.01M88.3 121.7h.01M97.0 120.7h.01M101.1 120.0h.01M102.2 116.6h.01M98.8 114.6h.01M93.7 123.3h.01M102.9 131.4h.01M95.7 88.6h.01M87.8 119.3h.01M97.9 134.3h.01M99.8 119.7h.01M95.2 127.3h.01M96.0 127.8h.01M100.7 98.3h.01M93.7 125.3h.01M100.0 119.3h.01M88.3 121.2h.01M80.9 126.0h.01M98.5 125.7h.01M85.1 128.0h.01M87.7 110.8h.01M94.5 116.6h.01M83.1 119.1h.01M96.1 114.3h.01M83.8 130.6h.01M87.3 130.8h.01M87.5 132.4h.01M92.1 122.8h.01M94.3 115.9h.01M107.0 114.3h.01M100.8 117.3h.01M89.3 111.5h.01M80.3 119.7h.01M86.0 111.1h.01M102.5 128.9h.01M102.5 125.7h.01M93.4 121.7h.01M92.2 132.0h.01M82.8 107.0h.01M93.7 121.1h.01M100.3 123.5h.01M97.7 114.3h.01M87.3 130.3h.01M104.6 131.0h.01M89.4 107.0h.01M91.3 132.4h.01M102.0 115.4h.01M92.8 125.8h.01M95.6 121.4h.01M85.8 114.1h.01M97.0 116.8h.01M107.8 126.9h.01M100.7 113.9h.01M89.7 116.5h.01M100.7 127.2h.01M88.2 130.8h.01M96.9 125.4h.01M77.5 122.2h.01M95.2 101.2h.01M97.0 112.2h.01M98.4 124.8h.01M91.4 125.3h.01M99.3 111.3h.01M97.5 127.1h.01M94.6 130.2h.01M94.8 126.5h.01M102.3 108.9h.01M85.4 129.0h.01M91.9 115.3h.01M96.3 126.1h.01M98.6 112.8h.01M94.3 110.4h.01M97.8 122.1h.01M91.5 121.5h.01M95.0 122.9h.01M98.3 124.7h.01M87.6 109.2h.01M92.1 120.3h.01M88.2 126.5h.01M98.9 115.4h.01M101.3 130.3h.01M92.0 127.0h.01M87.7 110.9h.01M89.9 104.6h.01M101.2 120.9h.01M91.8 123.9h.01M92.7 111.9h.01M90.6 121.4h.01M97.5 108.5h.01M97.0 111.7h.01M95.1 116.4h.01M99.0 115.8h.01M79.3 122.8h.01M88.5 132.9h.01M86.2 117.9h.01M89.6 121.3h.01M87.0 121.7h.01M98.8 129.3h.01M103.8 103.2h.01M98.3 134.9h.01M96.1 106.6h.01M96.6 103.6h.01M95.2 110.0h.01M92.7 116.1h.01M86.7 133.8h.01M93.3 116.8h.01M85.1 116.8h.01M96.8 132.7h.01M82.5 123.7h.01M92.0 128.3h.01M85.9 110.2h.01M104.6 129.1h.01M89.9 118.7h.01M94.7 108.9h.01M98.5 114.5h.01M81.9 114.6h.01M95.4 122.6h.01M88.0 119.1h.01M96.5 130.2h.01M87.7 107.3h.01M98.6 114.4h.01M90.3 127.5h.01M88.7 127.0h.01M106.4 113.4h.01M91.4 117.5h.01M92.2 102.8h.01M96.3 120.8h.01M103.7 104.1h.01M84.9 108.2h.01M83.9 122.1h.01M97.4 126.1h.01M86.1 125.4h.01M101.9 128.5h.01M94.2 132.4h.01M93.2 112.1h.01M99.8 121.9h.01M102.6 136.8h.01M94.5 124.7h.01M103.6 109.8h.01M84.4 119.5h.01M94.4 105.6h.01M95.6 126.1h.01M95.9 112.5h.01M100.4 118.2h.01M72.1 106.8h.01M99.0 117.2h.01M86.2 126.2h.01M95.5 130.4h.01M100.1 105.5h.01M93.9 113.3h.01M105.0 114.8h.01M94.7 107.2h.01M93.1 134.8h.01M92.5 115.1h.01M90.3 128.4h.01M97.4 107.8h.01M96.0 110.6h.01M102.7 125.3h.01M94.5 134.0h.01M97.2 112.2h.01M85.7 108.2h.01M95.2 138.2h.01M97.4 136.0h.01M94.0 124.4h.01M88.6 115.7h.01M103.1 133.8h.01M92.3 116.5h.01M81.0 134.5h.01M93.0 132.4h.01M94.8 108.7h.01M91.5 123.5h.01M100.4 120.7h.01M93.1 153.4h.01M100.3 122.8h.01M103.0 126.7h.01M92.8 131.9h.01M89.7 129.1h.01M94.8 124.0h.01M93.6 128.7h.01M101.0 110.3h.01M81.5 112.5h.01M102.6 108.5h.01M88.3 128.4h.01M97.2 115.6h.01M104.2 135.8h.01M94.7 113.9h.01M82.4 114.4h.01M99.7 122.3h.01M85.1 121.5h.01M93.9 116.5h.01M83.1 115.7h.01M91.5 119.8h.01M94.0 110.6h.01M98.5 114.2h.01M82.5 126.7h.01M99.7 119.7h.01M91.1 121.9h.01M105.2 119.6h.01M91.2 147.0h.01M91.1 124.1h.01M90.2 119.1h.01M96.2 125.9h.01M87.3 116.8h.01M96.9 124.6h.01M99.9 139.7h.01M93.2 134.9h.01M92.6 111.2h.01M81.4 129.2h.01M102.4 120.5h.01M99.1 113.9h.01M89.1 125.6h.01M97.1 121.6h.01M94.4 107.3h.01M94.5 109.5h.01M90.1 109.4h.01M97.4 126.8h.01M99.5 115.1h.01M95.6 127.0h.01M98.4 109.5h.01M90.4 128.1h.01M81.8 120.8h.01M96.9 130.7h.01M98.4 113.3h.01M92.3 133.6h.01M89.2 126.9h.01M95.5 115.2h.01M87.0 118.1h.01M87.0 122.9h.01M92.9 131.2h.01M95.2 104.3h.01M97.6 119.1h.01M89.4 129.4h.01M84.9 127.2h.01M85.8 124.1h.01M103.2 99.9h.01M93.6 125.3h.01M102.7 120.7h.01M80.3 107.0h.01M94.7 131.1h.01M85.5 114.6h.01M101.5 119.1h.01M95.8 126.3h.01M96.2 119.0h.01M86.5 126.7h.01M91.3 117.1h.01M90.9 119.4h.01M95.8 100.3h.01M93.5 127.4h.01M102.2 130.2h.01M85.0 123.1h.01M94.6 127.8h.01M96.3 132.7h.01M100.4 124.9h.01M86.0 132.4h.01M96.8 121.8h.01M109.4 131.3h.01M97.2 101.3h.01M102.7 118.1h.01M92.9 117.9h.01M93.3 112.9h.01M94.0 118.8h.01M94.8 112.5h.01M85.4 119.0h.01M93.5 116.7h.01M95.4 113.9h.01M91.7 126.1h.01M98.7 114.3h.01M95.2 111.5h.01M93.8 112.5h.01M90.7 108.3h.01M101.4 135.7h.01M98.4 116.0h.01M96.1 91.7h.01M78.7 128.9h.01M97.6 108.7h.01M96.4 127.8h.01M97.1 133.3h.01M96.3 103.3h.01M93.3 155.8h.01M98.5 121.9h.01M86.5 112.5h.01M90.6 112.6h.01M95.2 117.5h.01M89.4 113.3h.01M83.2 132.3h.01M93.8 111.6h.01M97.9 122.6h.01M92.3 116.3h.01M87.6 120.0h.01M93.0 116.5h.01M88.1 116.1h.01M88.2 130.4h.01M99.0 112.3h.01M99.3 117.8h.01M98.1 108.3h.01M93.0 118.9h.01M98.6 128.6h.01M90.0 137.4h.01M80.3 124.0h.01M87.1 112.2h.01M94.2 125.9h.01M89.5 116.1h.01M91.5 122.9h.01M95.3 124.9h.01M92.8 124.1h.01M94.8 122.3h.01M97.1 111.5h.01M79.4 131.8h.01M95.8 111.2h.01M100.0 112.5h.01M107.4 102.0h.01M91.4 121.8h.01M90.9 111.2h.01M99.1 130.0h.01M93.2 119.5h.01M93.5 124.0h.01M94.0 115.0h.01M102.1 115.1h.01M84.4 119.8h.01M94.0 125.7h.01M93.9 114.7h.01M91.4 109.5h.01M96.0 109.5h.01M93.3 117.5h.01M91.0 123.2h.01M98.2 110.5h.01M92.6 122.4h.01M96.7 127.8h.01M93.1 112.2h.01M96.6 109.3h.01M90.4 116.5h.01M96.9 126.1h.01M101.9 128.6h.01M73.5 127.8h.01M89.6 98.5h.01M93.4 125.3h.01M97.2 105.9h.01M86.2 127.6h.01M90.9 141.8h.01M89.9 127.7h.01M97.4 113.2h.01M93.3 123.9h.01M101.1 125.2h.01M84.0 110.6h.01M96.6 109.9h.01M98.7 122.5h.01M91.9 119.8h.01M93.5 126.8h.01M91.2 124.6h.01M95.6 109.5h.01M92.7 94.5h.01M92.1 145.5h.01M86.7 128.3h.01M96.5 103.7h.01M94.2 115.6h.01M92.8 118.0h.01M92.3 122.5h.01M99.9 124.4h.01M100.9 117.2h.01M97.9 114.7h.01M85.3 128.8h.01M96.7 101.7h.01M88.1 121.3h.01M95.3 123.1h.01M92.9 132.4h.01M92.8 111.0h.01M96.0 115.7h.01M80.6 131.3h.01M89.7 109.1h.01M87.7 129.6h.01M96.7 90.0h.01M96.2 131.7h.01M109.2 113.5h.01M83.2 129.9h.01M100.3 130.1h.01M85.1 116.5h.01M95.1 103.9h.01M108.4 106.9h.01M91.5 132.1h.01M88.5 115.7h.01M88.7 105.8h.01M89.3 133.3h.01M95.9 129.6h.01M97.2 128.3h.01M93.9 125.7h.01M97.0 118.3h.01M95.3 118.6h.01M101.0 120.3h.01M96.5 117.5h.01M96.6 119.9h.01M97.8 123.2h.01M101.3 118.5h.01M85.2 126.7h.01M91.3 128.2h.01M101.4 123.8h.01M105.7 130.2h.01M101.6 97.4h.01M106.3 113.7h.01M83.1 125.8h.01M92.9 117.6h.01M89.7 123.6h.01M91.2 119.4h.01M96.1 120.2h.01M100.2 123.6h.01M91.3 109.0h.01M95.0 103.6h.01M90.2 119.8h.01M99.8 106.7h.01M105.5 119.1h.01M107.3 126.5h.01M98.3 114.9h.01M104.4 126.4h.01M96.2 124.6h.01M88.7 109.0h.01M94.1 120.7h.01M100.0 114.2h.01M88.8 118.4h.01M95.5 122.4h.01M97.9 120.1h.01M88.9 114.9h.01M105.9 127.7h.01M99.3 118.7h.01M101.3 100.0h.01M88.1 109.3h.01M105.5 119.5h.01M98.6 124.3h.01M98.3 127.3h.01M95.6 140.0h.01M97.3 112.4h.01M98.5 134.6h.01M96.6 132.7h.01M84.9 112.5h.01M104.2 127.5h.01M89.0 116.4h.01M96.2 107.3h.01M98.5 127.5h.01M89.4 121.2h.01M95.6 127.0h.01M95.1 118.6h.01M91.2 122.5h.01M88.7 110.6h.01M99.0 134.2h.01M89.5 118.5h.01M91.7 92.5h.01M97.4 133.7h.01M91.6 118.0h.01M93.9 125.0h.01M93.9 120.5h.01M91.6 119.1h.01M103.8 123.0h.01M106.3 126.3h.01M80.4 123.6h.01M93.3 126.1h.01M94.0 122.1h.01M86.3 123.7h.01M100.8 127.3h.01M94.4 130.9h.01M101.1 110.7h.01M106.0 118.6h.01M93.9 91.7h.01M86.8 115.8h.01M99.9 129.5h.01M88.2 130.1h.01M90.6 117.0h.01M93.2 115.4h.01M94.4 126.3h.01M96.3 111.3h.01M102.6 122.9h.01M96.5 149.5h.01M96.2 118.1h.01M96.3 130.7h.01M92.2 113.2h.01M79.5 125.4h.01M82.7 88.5h.01M83.3 117.7h.01M99.1 115.9h.01M83.1 128.3h.01M86.5 116.6h.01M87.4 110.8h.01M91.8 100.2h.01M86.3 119.9h.01M95.3 113.0h.01M104.7 112.8h.01M88.0 117.9h.01M84.3 123.8h.01M87.6 122.3h.01M107.9 136.6h.01M84.8 127.7h.01M96.5 133.1h.01M101.4 121.2h.01M87.6 127.8h.01M88.6 119.1h.01M94.6 111.1h.01M90.3 129.9h.01M103.9 126.6h.01M90.8 123.7h.01M85.5 125.6h.01M85.3 122.3h.01M97.3 105.6h.01M88.5 119.4h.01M101.7 129.7h.01M85.7 128.1h.01M91.6 122.1h.01M92.6 131.0h.01M96.7 134.5h.01M94.1 131.8h.01M85.0 110.6h.01M90.8 135.0h.01M83.8 126.0h.01M94.6 133.0h.01M106.3 125.4h.01M87.3 132.8h.01M98.1 124.7h.01M90.1 127.7h.01M96.9 112.9h.01M90.0 119.2h.01M99.7 135.1h.01M92.5 128.4h.01M98.0 123.1h.01M96.6 96.3h.01M107.5 120.1h.01M91.8 118.9h.01M101.3 122.1h.01M97.2 118.4h.01M98.5 111.3h.01M99.9 135.5h.01M99.8 111.3h.01M88.0 125.8h.01M104.0 119.8h.01M88.1 115.7h.01M89.9 129.8h.01M90.2 107.5h.01M91.9 119.8h.01M93.1 134.2h.01M102.0 115.9h.01M103.5 123.6h.01M98.6 116.0h.01M93.3 118.3h.01M90.8 113.5h.01M97.9 142.7h.01M93.1 123.7h.01M96.6 135.9h.01M94.8 117.7h.01M95.8 121.8h.01M97.0 127.1h.01M91.5 105.5h.01M98.6 120.4h.01M93.1 130.6h.01M91.4 117.0h.01M94.6 109.1h.01M97.8 103.2h.01M100.0 118.7h.01M98.4 122.1h.01M80.4 109.4h.01M85.4 101.8h.01M94.7 133.0h.01M99.0 114.4h.01M85.6 104.6h.01M99.2 105.6h.01M97.2 108.7h.01M103.5 129.8h.01M95.4 114.3h.01M92.9 116.4h.01M101.5 113.4h.01M93.6 127.2h.01M85.7 128.4h.01M94.4 121.1h.01M93.9 117.1h.01M92.7 118.8h.01M93.6 148.6h.01M96.6 106.1h.01M83.2 114.9h.01M95.8 115.3h.01M86.2 124.2h.01M98.5 114.2h.01M101.0 118.1h.01M89.4 114.7h.01M93.5 119.6h.01M98.2 134.8h.01M85.9 118.8h.01M85.3 110.7h.01" stroke="#7c8686" stroke-width="0.9" stroke-linecap="square" fill="none"/>
<path d="M57.3 118.4h.01M65.2 113.9h.01M83.3 110.4h.01M81.7 118.5h.01M74.1 111.0h.01M77.7 110.1h.01M66.8 117.6h.01M69.2 112.3h.01M76.2 114.5h.01M75.4 118.9h.01M77.4 112.3h.01M82.7 117.9h.01M77.6 118.3h.01M67.8 117.3h.01M80.6 112.2h.01M71.6 118.9h.01M68.9 119.2h.01M82.2 115.6h.01M70.3 118.1h.01M57.6 110.3h.01M67.4 118.0h.01M80.0 113.7h.01M73.2 113.8h.01M62.3 110.4h.01M81.5 119.4h.01M75.1 112.8h.01M82.3 117.8h.01M66.9 110.5h.01M73.8 107.3h.01M80.1 116.7h.01M82.1 107.1h.01M74.3 112.4h.01M80.6 113.6h.01M72.7 116.3h.01M58.6 117.2h.01M81.4 117.8h.01M75.2 119.3h.01M74.6 114.3h.01M82.3 117.5h.01M81.4 118.2h.01M83.3 117.8h.01M81.4 116.6h.01M71.0 114.4h.01M74.5 118.6h.01M78.4 113.5h.01M67.4 118.8h.01M74.0 106.5h.01M63.5 117.7h.01M57.0 108.6h.01M69.1 112.7h.01M62.0 118.1h.01M79.6 117.1h.01M78.6 118.7h.01M78.9 111.7h.01M50.4 113.5h.01M76.9 118.4h.01M69.2 118.2h.01M59.9 116.4h.01M83.1 118.5h.01M79.8 115.9h.01M58.8 114.3h.01M58.6 115.8h.01M58.9 112.7h.01" stroke="#e6d832" stroke-width="1.25" stroke-linecap="square" fill="none"/>
<path d="M77.9 130.0h.01M74.0 128.0h.01M80.3 131.6h.01M82.9 127.5h.01M82.7 125.7h.01M81.3 126.1h.01M82.9 130.3h.01M80.8 129.5h.01M83.0 133.3h.01M82.4 126.2h.01M83.3 125.8h.01M81.9 125.7h.01M82.9 129.4h.01M78.8 126.0h.01M83.3 127.4h.01M80.9 135.2h.01M75.4 125.4h.01M81.3 131.0h.01M81.5 133.9h.01M82.1 132.4h.01M82.9 134.5h.01M82.6 126.0h.01M80.7 128.8h.01M70.9 129.1h.01M81.9 126.8h.01M82.5 135.9h.01M80.6 125.3h.01M76.3 135.5h.01M82.7 127.0h.01M78.5 127.8h.01M80.4 125.8h.01M80.1 125.4h.01M83.1 129.7h.01M77.6 126.4h.01M82.9 125.9h.01M54.7 126.0h.01M54.5 126.5h.01M54.8 128.9h.01M54.9 136.3h.01M54.5 126.0h.01M54.5 139.0h.01M54.8 131.3h.01M57.8 138.0h.01M57.7 140.3h.01M57.8 129.4h.01M57.6 127.4h.01M58.1 135.2h.01M58.0 136.9h.01M58.0 133.1h.01M60.7 139.5h.01M60.8 134.1h.01M60.9 129.8h.01M61.3 140.1h.01M61.3 126.8h.01M60.9 127.4h.01M60.8 133.0h.01" stroke="#84b83a" stroke-width="1.25" stroke-linecap="square" fill="none"/>
<path d="M112.4 109.7h.01M104.6 107.9h.01M107.4 116.1h.01M114.4 110.1h.01M112.5 118.0h.01M109.9 118.9h.01M109.0 112.8h.01M108.7 114.3h.01M105.9 114.4h.01M105.3 118.7h.01M112.9 116.6h.01M106.1 110.8h.01M112.6 108.9h.01M108.5 116.3h.01M105.4 114.3h.01M110.2 117.4h.01M107.2 103.3h.01M105.5 117.7h.01M105.0 119.1h.01M112.7 117.8h.01M107.2 104.3h.01M105.6 116.9h.01M108.9 113.8h.01M110.3 109.6h.01M105.5 118.8h.01M104.6 117.4h.01M107.9 118.3h.01M117.3 116.2h.01M109.7 113.4h.01M105.6 114.5h.01M107.1 113.3h.01M113.0 116.3h.01M106.1 117.8h.01M113.9 111.3h.01M105.0 116.4h.01M123.2 117.8h.01M110.7 111.6h.01M112.1 118.6h.01M112.8 118.8h.01M114.9 114.3h.01M111.8 117.5h.01M112.4 116.8h.01M108.7 119.1h.01M110.0 117.2h.01M105.4 111.8h.01M105.0 116.6h.01M114.2 117.3h.01M110.9 119.0h.01M110.3 114.0h.01M108.3 111.7h.01M114.6 113.5h.01M106.7 104.5h.01M114.5 108.0h.01M112.7 111.5h.01M105.6 101.6h.01M107.3 119.3h.01M104.9 118.5h.01M104.7 118.3h.01M106.7 118.5h.01M107.3 118.6h.01M104.9 116.3h.01M108.4 114.6h.01M105.6 108.9h.01M105.7 115.4h.01M109.1 110.9h.01M108.4 110.1h.01M110.7 115.3h.01M113.5 105.8h.01M111.4 118.1h.01M104.7 103.4h.01M119.7 116.3h.01M119.5 99.9h.01M106.4 112.3h.01M108.6 119.2h.01M105.0 111.4h.01M109.2 116.4h.01M105.1 118.6h.01M105.4 112.8h.01M109.9 117.7h.01M107.7 111.3h.01M108.5 117.3h.01M109.1 112.2h.01M110.7 118.3h.01M119.8 117.0h.01M114.5 112.3h.01M107.7 117.9h.01M116.6 112.7h.01M105.8 113.9h.01M105.3 108.2h.01M113.2 112.5h.01M113.3 104.7h.01M107.5 116.3h.01M110.9 116.7h.01M109.6 111.6h.01M122.0 107.8h.01M118.8 108.4h.01M105.6 104.0h.01M106.9 111.0h.01M106.1 115.7h.01M107.4 112.3h.01M107.3 107.4h.01M104.8 118.2h.01M108.8 115.8h.01M108.7 117.6h.01M107.2 100.8h.01M112.2 116.8h.01M125.4 101.3h.01M106.3 116.8h.01M106.3 98.1h.01M108.2 119.3h.01M113.6 102.2h.01M108.9 109.6h.01M118.2 118.5h.01M111.2 108.5h.01M111.4 117.3h.01M121.6 117.4h.01M107.7 119.2h.01M105.2 117.3h.01M104.6 118.6h.01M105.7 107.4h.01M106.0 111.3h.01M110.4 112.6h.01M115.4 116.3h.01M118.0 114.9h.01M107.0 117.2h.01" stroke="#d23a2a" stroke-width="1.25" stroke-linecap="square" fill="none"/>
<path d="M109.2 137.2h.01M106.2 131.3h.01M108.2 129.2h.01M133.8 127.9h.01M109.2 128.0h.01M116.3 127.5h.01M107.5 125.4h.01M108.9 127.1h.01M115.7 133.2h.01M112.2 135.8h.01M112.3 129.9h.01M106.7 125.3h.01M104.7 130.6h.01M115.1 126.3h.01M109.2 127.2h.01M118.1 132.1h.01M105.4 127.4h.01M113.2 134.5h.01M106.3 131.1h.01M113.9 133.5h.01M105.8 126.4h.01M113.5 127.9h.01M115.7 135.7h.01M111.4 130.6h.01M106.4 134.9h.01M112.0 126.0h.01M116.8 137.2h.01M107.6 125.3h.01M111.5 125.5h.01M112.0 127.3h.01M104.5 126.0h.01M110.7 126.9h.01M119.7 126.4h.01M105.9 126.3h.01M116.7 131.5h.01M120.0 131.5h.01M108.2 125.7h.01M108.7 133.0h.01M109.5 125.3h.01M104.9 131.9h.01M105.6 125.5h.01M105.0 125.6h.01M107.2 126.2h.01M123.4 125.8h.01M115.0 129.3h.01M106.3 125.8h.01M118.7 125.4h.01M104.7 129.5h.01M110.3 128.9h.01M105.6 127.0h.01M108.9 135.3h.01M105.3 128.9h.01M115.0 133.3h.01M106.1 125.9h.01M110.0 137.1h.01M107.1 127.3h.01M122.8 136.4h.01M110.0 133.6h.01M113.1 128.6h.01M128.8 135.8h.01M107.6 125.6h.01M114.4 129.1h.01M105.3 129.9h.01M109.9 126.3h.01M106.8 135.6h.01M105.5 130.2h.01M116.4 125.7h.01M110.5 128.9h.01M107.1 130.6h.01M107.8 126.4h.01M108.3 127.5h.01M108.2 133.7h.01M106.1 141.4h.01M113.6 137.2h.01M105.6 144.4h.01M107.4 127.4h.01M106.8 137.6h.01M106.2 126.3h.01M111.8 131.9h.01M119.7 130.2h.01M109.0 138.9h.01M116.9 128.7h.01M107.2 129.8h.01M110.3 142.9h.01M109.2 127.6h.01M105.8 132.4h.01M111.1 135.5h.01M115.2 131.3h.01M113.3 129.2h.01M105.8 144.7h.01M116.7 128.2h.01M111.5 136.3h.01M115.3 132.0h.01M108.3 139.3h.01M109.4 129.6h.01M109.1 125.8h.01M110.6 133.6h.01M107.9 126.1h.01M109.0 130.1h.01M106.2 126.1h.01M107.7 126.2h.01M108.6 125.6h.01M110.1 134.2h.01M112.3 132.9h.01M107.9 126.8h.01M105.8 133.3h.01M107.1 125.9h.01M116.3 126.5h.01M107.1 129.4h.01M111.1 125.9h.01M120.9 134.9h.01M119.1 134.4h.01M110.7 126.7h.01M108.6 126.4h.01M105.6 132.9h.01M112.6 129.9h.01M107.1 127.9h.01M109.4 134.1h.01M106.1 126.1h.01M121.7 125.6h.01M110.9 125.5h.01M112.5 128.1h.01M107.1 128.1h.01M104.7 129.2h.01M117.2 130.5h.01M106.0 126.8h.01M122.5 126.5h.01M111.2 127.6h.01M106.1 127.5h.01M117.2 131.1h.01M104.8 126.7h.01M119.7 128.0h.01M109.2 128.4h.01M107.2 127.6h.01M113.5 143.2h.01" stroke="#2a2488" stroke-width="1.25" stroke-linecap="square" fill="none"/>
</g>
<line x1="83.30" y1="70.30" x2="83.30" y2="158.00" stroke="#555" stroke-width="0.5" stroke-dasharray="1.6 1.3"/>
<line x1="104.50" y1="70.30" x2="104.50" y2="158.00" stroke="#555" stroke-width="0.5" stroke-dasharray="1.6 1.3"/>
<line x1="45.00" y1="119.70" x2="144.00" y2="119.70" stroke="#555" stroke-width="0.5" stroke-dasharray="1.6 1.3"/>
<line x1="45.00" y1="125.30" x2="144.00" y2="125.30" stroke="#555" stroke-width="0.5" stroke-dasharray="1.6 1.3"/>
<rect x="45.00" y="70.30" width="99.00" height="87.70" fill="none" stroke="#222" stroke-width="0.8"/>
<line x1="42.00" y1="78.38" x2="45.00" y2="78.38" stroke="#222" stroke-width="0.7"/>
<text transform="translate(40.20,80.28)" font-size="5.4" text-anchor="end" fill="#1c1c1c" stroke="#1c1c1c" stroke-width="0.119">6</text>
<line x1="42.00" y1="93.02" x2="45.00" y2="93.02" stroke="#222" stroke-width="0.7"/>
<text transform="translate(40.20,94.92)" font-size="5.4" text-anchor="end" fill="#1c1c1c" stroke="#1c1c1c" stroke-width="0.119">4</text>
<line x1="42.00" y1="107.66" x2="45.00" y2="107.66" stroke="#222" stroke-width="0.7"/>
<text transform="translate(40.20,109.56)" font-size="5.4" text-anchor="end" fill="#1c1c1c" stroke="#1c1c1c" stroke-width="0.119">2</text>
<line x1="42.00" y1="122.30" x2="45.00" y2="122.30" stroke="#222" stroke-width="0.7"/>
<text transform="translate(40.20,124.20)" font-size="5.4" text-anchor="end" fill="#1c1c1c" stroke="#1c1c1c" stroke-width="0.119">0</text>
<line x1="42.00" y1="136.94" x2="45.00" y2="136.94" stroke="#222" stroke-width="0.7"/>
<text transform="translate(40.20,138.84)" font-size="5.4" text-anchor="end" fill="#1c1c1c" stroke="#1c1c1c" stroke-width="0.119">-2</text>
<line x1="42.00" y1="151.58" x2="45.00" y2="151.58" stroke="#222" stroke-width="0.7"/>
<text transform="translate(40.20,153.48)" font-size="5.4" text-anchor="end" fill="#1c1c1c" stroke="#1c1c1c" stroke-width="0.119">-4</text>
<line x1="51.50" y1="158.00" x2="51.50" y2="160.20" stroke="#222" stroke-width="0.6"/>
<text transform="translate(51.50,167.60)" font-size="5.4" text-anchor="middle" fill="#1c1c1c" stroke="#1c1c1c" stroke-width="0.119">-4</text>
<line x1="72.70" y1="158.00" x2="72.70" y2="160.20" stroke="#222" stroke-width="0.6"/>
<text transform="translate(72.70,167.60)" font-size="5.4" text-anchor="middle" fill="#1c1c1c" stroke="#1c1c1c" stroke-width="0.119">-2</text>
<line x1="93.90" y1="158.00" x2="93.90" y2="160.20" stroke="#222" stroke-width="0.6"/>
<text transform="translate(93.90,167.60)" font-size="5.4" text-anchor="middle" fill="#1c1c1c" stroke="#1c1c1c" stroke-width="0.119">0</text>
<line x1="115.10" y1="158.00" x2="115.10" y2="160.20" stroke="#222" stroke-width="0.6"/>
<text transform="translate(115.10,167.60)" font-size="5.4" text-anchor="middle" fill="#1c1c1c" stroke="#1c1c1c" stroke-width="0.119">2</text>
<line x1="136.30" y1="158.00" x2="136.30" y2="160.20" stroke="#222" stroke-width="0.6"/>
<text transform="translate(136.30,167.60)" font-size="5.4" text-anchor="middle" fill="#1c1c1c" stroke="#1c1c1c" stroke-width="0.119">4</text>
<text transform="translate(94.40,178.90) scale(0.78,1)" font-size="7.3" text-anchor="middle" fill="#1c1c1c" stroke="#1c1c1c" stroke-width="0.058">Log 2 (fold change)</text>
<text transform="translate(28.80,115.00) rotate(-90) scale(0.76,1)" font-size="7.0" text-anchor="middle" fill="#1c1c1c" stroke="#1c1c1c" stroke-width="0.056">Z score</text>
<text transform="translate(61.30,82.60)" font-size="4.2" text-anchor="middle" fill="#444" stroke="#444" stroke-width="0.092">Hypo-down</text>
<text transform="translate(129.40,82.60)" font-size="4.2" text-anchor="middle" fill="#444" stroke="#444" stroke-width="0.092">Hypo-up</text>
<text transform="translate(61.30,150.60)" font-size="4.2" text-anchor="middle" fill="#444" stroke="#444" stroke-width="0.092">Hyper-down</text>
<text transform="translate(129.40,150.60)" font-size="4.2" text-anchor="middle" fill="#444" stroke="#444" stroke-width="0.092">Hyper-up</text>
<text transform="translate(81.00,204.20)" font-size="4.2" text-anchor="middle" fill="#333" stroke="#333" stroke-width="0.092">Enrichment plot:</text>
<text transform="translate(81.00,210.10)" font-size="4.1" text-anchor="middle" fill="#333" stroke="#333" stroke-width="0.090">ELVIDGE_HIF1A_AND_HIF2A_TARGETS_DN</text>
<line x1="58.84" y1="219.10" x2="58.84" y2="248.80" stroke="#e6e6e6" stroke-width="0.35"/>
<line x1="58.84" y1="260.90" x2="58.84" y2="279.60" stroke="#ececec" stroke-width="0.35"/>
<line x1="72.38" y1="219.10" x2="72.38" y2="248.80" stroke="#e6e6e6" stroke-width="0.35"/>
<line x1="72.38" y1="260.90" x2="72.38" y2="279.60" stroke="#ececec" stroke-width="0.35"/>
<line x1="85.92" y1="219.10" x2="85.92" y2="248.80" stroke="#e6e6e6" stroke-width="0.35"/>
<line x1="85.92" y1="260.90" x2="85.92" y2="279.60" stroke="#ececec" stroke-width="0.35"/>
<line x1="99.46" y1="219.10" x2="99.46" y2="248.80" stroke="#e6e6e6" stroke-width="0.35"/>
<line x1="99.46" y1="260.90" x2="99.46" y2="279.60" stroke="#ececec" stroke-width="0.35"/>
<line x1="113.00" y1="219.10" x2="113.00" y2="248.80" stroke="#e6e6e6" stroke-width="0.35"/>
<line x1="113.00" y1="260.90" x2="113.00" y2="279.60" stroke="#ececec" stroke-width="0.35"/>
<line x1="45.30" y1="225.04" x2="116.50" y2="225.04" stroke="#e6e6e6" stroke-width="0.35"/>
<line x1="45.30" y1="230.98" x2="116.50" y2="230.98" stroke="#e6e6e6" stroke-width="0.35"/>
<line x1="45.30" y1="236.92" x2="116.50" y2="236.92" stroke="#e6e6e6" stroke-width="0.35"/>
<line x1="45.30" y1="242.86" x2="116.50" y2="242.86" stroke="#e6e6e6" stroke-width="0.35"/>
<line x1="45.30" y1="273.60" x2="116.50" y2="273.60" stroke="#ececec" stroke-width="0.35"/>
<line x1="45.30" y1="276.40" x2="116.50" y2="276.40" stroke="#ececec" stroke-width="0.35"/>
<polygon points="45.90,271.00 45.90,264.10 47.24,266.12 48.58,267.16 49.93,267.63 51.27,267.71 52.61,267.80 53.95,267.89 55.29,267.99 56.64,268.09 57.98,268.20 59.32,268.30 60.66,268.41 62.00,268.52 63.35,268.64 64.69,268.75 66.03,268.87 67.37,268.98 68.71,269.10 70.06,269.22 71.40,269.34 72.74,269.46 74.08,269.59 75.42,269.71 76.77,269.84 78.11,269.96 79.45,270.09 80.79,270.22 82.13,270.35 83.48,270.48 84.82,270.61 86.16,270.74 87.50,270.87 88.84,271.00 90.19,271.13 91.53,271.28 92.87,271.44 94.21,271.60 95.55,271.77 96.90,271.94 98.24,272.11 99.58,272.29 100.92,272.47 102.26,272.65 103.61,272.83 104.95,273.01 106.29,273.20 107.63,273.77 108.97,274.60 110.32,275.57 111.66,276.64 113.00,277.80 113.00,271.00" fill="#bdbdbd" stroke="none"/>
<text transform="translate(47.10,262.40)" font-size="1.95" text-anchor="start" fill="#e03838" stroke="#e03838" stroke-width="0.043">'na_pos' (positively correlated)</text>
<text transform="translate(81.18,278.70)" font-size="1.95" text-anchor="start" fill="#2a30b8" stroke="#2a30b8" stroke-width="0.043">'na_neg' (negatively correlated)</text>
<text transform="translate(83.21,270.70)" font-size="1.9" text-anchor="start" fill="#333" stroke="#333" stroke-width="0.042">Zero cross at 291</text>
<line x1="92.20" y1="248.80" x2="92.20" y2="257.80" stroke="#2a2a2a" stroke-width="0.45"/>
<line x1="94.20" y1="248.80" x2="94.20" y2="257.80" stroke="#2a2a2a" stroke-width="0.45"/>
<line x1="96.80" y1="248.80" x2="96.80" y2="257.80" stroke="#2a2a2a" stroke-width="0.45"/>
<line x1="97.90" y1="248.80" x2="97.90" y2="257.80" stroke="#2a2a2a" stroke-width="0.45"/>
<line x1="100.40" y1="248.80" x2="100.40" y2="257.80" stroke="#2a2a2a" stroke-width="0.45"/>
<rect x="101.40" y="248.80" width="2.20" height="9.00" fill="#cfcfcf"/>
<line x1="101.70" y1="248.80" x2="101.70" y2="257.80" stroke="#2a2a2a" stroke-width="0.45"/>
<line x1="102.80" y1="248.80" x2="102.80" y2="257.80" stroke="#2a2a2a" stroke-width="0.45"/>
<line x1="103.40" y1="248.80" x2="103.40" y2="257.80" stroke="#2a2a2a" stroke-width="0.45"/>
<line x1="105.00" y1="248.80" x2="105.00" y2="257.80" stroke="#2a2a2a" stroke-width="0.45"/>
<line x1="106.20" y1="248.80" x2="106.20" y2="257.80" stroke="#2a2a2a" stroke-width="0.45"/>
<line x1="108.90" y1="248.80" x2="108.90" y2="257.80" stroke="#2a2a2a" stroke-width="0.45"/>
<defs><linearGradient id="gb1" x1="0" x2="1" y1="0" y2="0"><stop offset="0" stop-color="#dc1c1c"/><stop offset="0.2" stop-color="#de2c30"/><stop offset="0.25" stop-color="#e2586c"/><stop offset="0.41" stop-color="#e46c84"/><stop offset="0.46" stop-color="#e8a0c0"/><stop offset="0.61" stop-color="#e8a8cc"/><stop offset="0.66" stop-color="#c8c8f0"/><stop offset="0.79" stop-color="#bcbcee"/><stop offset="0.83" stop-color="#7474d4"/><stop offset="0.89" stop-color="#5c5cc4"/><stop offset="0.93" stop-color="#2018a0"/><stop offset="1" stop-color="#180c84"/></linearGradient></defs>
<rect x="45.80" y="258.20" width="67.20" height="2.70" fill="url(#gb1)"/>
<polyline points="45.60,223.10 63.00,232.00 63.60,232.40 64.40,231.30 65.20,232.60 80.00,240.30 91.40,246.40 92.60,246.60 94.50,245.00 96.50,243.00 98.00,241.40 99.60,241.60 100.40,238.00 101.20,233.50 102.00,230.80 102.80,230.40 103.60,228.30 105.00,229.20 105.60,224.70 106.90,226.40 108.00,222.60 108.90,220.20 110.50,221.50 113.00,223.10" fill="none" stroke="#86bc4c" stroke-width="0.8" stroke-linejoin="round"/>
<text transform="translate(46.20,242.60)" font-size="6.3" text-anchor="start" fill="#111" stroke="#111" stroke-width="0.139">P&lt;0.001</text>
<text transform="translate(46.20,250.10)" font-size="6.3" text-anchor="start" fill="#111" stroke="#111" stroke-width="0.139">FDR&lt;0.001</text>
<text transform="translate(46.20,256.80)" font-size="6.3" text-anchor="start" fill="#111" stroke="#111" stroke-width="0.139">NES=-2.58</text>
<text transform="translate(62.50,267.00)" font-size="5.6" text-anchor="middle" fill="#2a2a2a" stroke="#2a2a2a" stroke-width="0.123">si-WTAP-1</text>
<text transform="translate(103.90,267.00)" font-size="5.6" text-anchor="middle" fill="#2a2a2a" stroke="#2a2a2a" stroke-width="0.123">si-NC</text>
<rect x="45.30" y="219.10" width="71.20" height="60.50" fill="none" stroke="#111" stroke-width="1.15"/>
<text transform="translate(42.50,220.80) scale(0.8,1)" font-size="4.0" text-anchor="end" fill="#1a1a1a" stroke="#1a1a1a" stroke-width="0.032">0.1</text>
<line x1="43.10" y1="219.50" x2="45.30" y2="219.50" stroke="#222" stroke-width="0.45"/>
<text transform="translate(42.50,223.93) scale(0.8,1)" font-size="4.0" text-anchor="end" fill="#1a1a1a" stroke="#1a1a1a" stroke-width="0.032">0.0</text>
<line x1="43.10" y1="222.63" x2="45.30" y2="222.63" stroke="#222" stroke-width="0.45"/>
<text transform="translate(42.50,227.07) scale(0.8,1)" font-size="4.0" text-anchor="end" fill="#1a1a1a" stroke="#1a1a1a" stroke-width="0.032">-0.1</text>
<line x1="43.10" y1="225.77" x2="45.30" y2="225.77" stroke="#222" stroke-width="0.45"/>
<text transform="translate(42.50,230.20) scale(0.8,1)" font-size="4.0" text-anchor="end" fill="#1a1a1a" stroke="#1a1a1a" stroke-width="0.032">-0.2</text>
<line x1="43.10" y1="228.90" x2="45.30" y2="228.90" stroke="#222" stroke-width="0.45"/>
<text transform="translate(42.50,233.33) scale(0.8,1)" font-size="4.0" text-anchor="end" fill="#1a1a1a" stroke="#1a1a1a" stroke-width="0.032">-0.3</text>
<line x1="43.10" y1="232.03" x2="45.30" y2="232.03" stroke="#222" stroke-width="0.45"/>
<text transform="translate(42.50,236.47) scale(0.8,1)" font-size="4.0" text-anchor="end" fill="#1a1a1a" stroke="#1a1a1a" stroke-width="0.032">-0.4</text>
<line x1="43.10" y1="235.17" x2="45.30" y2="235.17" stroke="#222" stroke-width="0.45"/>
<text transform="translate(42.50,239.60) scale(0.8,1)" font-size="4.0" text-anchor="end" fill="#1a1a1a" stroke="#1a1a1a" stroke-width="0.032">-0.5</text>
<line x1="43.10" y1="238.30" x2="45.30" y2="238.30" stroke="#222" stroke-width="0.45"/>
<text transform="translate(42.50,242.73) scale(0.8,1)" font-size="4.0" text-anchor="end" fill="#1a1a1a" stroke="#1a1a1a" stroke-width="0.032">-0.6</text>
<line x1="43.10" y1="241.43" x2="45.30" y2="241.43" stroke="#222" stroke-width="0.45"/>
<text transform="translate(42.50,245.87) scale(0.8,1)" font-size="4.0" text-anchor="end" fill="#1a1a1a" stroke="#1a1a1a" stroke-width="0.032">-0.7</text>
<line x1="43.10" y1="244.57" x2="45.30" y2="244.57" stroke="#222" stroke-width="0.45"/>
<text transform="translate(42.50,249.00) scale(0.8,1)" font-size="4.0" text-anchor="end" fill="#1a1a1a" stroke="#1a1a1a" stroke-width="0.032">-0.8</text>
<line x1="43.10" y1="247.70" x2="45.30" y2="247.70" stroke="#222" stroke-width="0.45"/>
<text transform="translate(42.50,263.80) scale(0.8,1)" font-size="4.0" text-anchor="end" fill="#1a1a1a" stroke="#1a1a1a" stroke-width="0.032">5.0</text>
<line x1="43.30" y1="262.50" x2="45.30" y2="262.50" stroke="#222" stroke-width="0.4"/>
<text transform="translate(42.50,266.55) scale(0.8,1)" font-size="4.0" text-anchor="end" fill="#1a1a1a" stroke="#1a1a1a" stroke-width="0.032">2.5</text>
<line x1="43.30" y1="265.25" x2="45.30" y2="265.25" stroke="#222" stroke-width="0.4"/>
<text transform="translate(42.50,269.30) scale(0.8,1)" font-size="4.0" text-anchor="end" fill="#1a1a1a" stroke="#1a1a1a" stroke-width="0.032">0.0</text>
<line x1="43.30" y1="268.00" x2="45.30" y2="268.00" stroke="#222" stroke-width="0.4"/>
<text transform="translate(42.50,272.05) scale(0.8,1)" font-size="4.0" text-anchor="end" fill="#1a1a1a" stroke="#1a1a1a" stroke-width="0.032">-2.5</text>
<line x1="43.30" y1="270.75" x2="45.30" y2="270.75" stroke="#222" stroke-width="0.4"/>
<text transform="translate(42.50,274.80) scale(0.8,1)" font-size="4.0" text-anchor="end" fill="#1a1a1a" stroke="#1a1a1a" stroke-width="0.032">-5.0</text>
<line x1="43.30" y1="273.50" x2="45.30" y2="273.50" stroke="#222" stroke-width="0.4"/>
<text transform="translate(42.50,277.55) scale(0.8,1)" font-size="4.0" text-anchor="end" fill="#1a1a1a" stroke="#1a1a1a" stroke-width="0.032">-7.5</text>
<line x1="43.30" y1="276.25" x2="45.30" y2="276.25" stroke="#222" stroke-width="0.4"/>
<text transform="translate(42.50,280.30) scale(0.8,1)" font-size="4.0" text-anchor="end" fill="#1a1a1a" stroke="#1a1a1a" stroke-width="0.032">-10</text>
<line x1="43.30" y1="279.00" x2="45.30" y2="279.00" stroke="#222" stroke-width="0.4"/>
<line x1="45.60" y1="279.60" x2="45.60" y2="280.90" stroke="#222" stroke-width="0.6"/>
<text transform="translate(47.20,282.50) rotate(-54) scale(0.9,1)" font-size="4.4" text-anchor="end" fill="#111" stroke="#111" stroke-width="0.097">0</text>
<line x1="52.37" y1="279.60" x2="52.37" y2="280.90" stroke="#222" stroke-width="0.6"/>
<text transform="translate(53.97,282.50) rotate(-54) scale(0.9,1)" font-size="4.4" text-anchor="end" fill="#111" stroke="#111" stroke-width="0.097">50</text>
<line x1="59.14" y1="279.60" x2="59.14" y2="280.90" stroke="#222" stroke-width="0.6"/>
<text transform="translate(60.74,282.50) rotate(-54) scale(0.9,1)" font-size="4.4" text-anchor="end" fill="#111" stroke="#111" stroke-width="0.097">100</text>
<line x1="65.91" y1="279.60" x2="65.91" y2="280.90" stroke="#222" stroke-width="0.6"/>
<text transform="translate(67.51,282.50) rotate(-54) scale(0.9,1)" font-size="4.4" text-anchor="end" fill="#111" stroke="#111" stroke-width="0.097">150</text>
<line x1="72.68" y1="279.60" x2="72.68" y2="280.90" stroke="#222" stroke-width="0.6"/>
<text transform="translate(74.28,282.50) rotate(-54) scale(0.9,1)" font-size="4.4" text-anchor="end" fill="#111" stroke="#111" stroke-width="0.097">200</text>
<line x1="79.45" y1="279.60" x2="79.45" y2="280.90" stroke="#222" stroke-width="0.6"/>
<text transform="translate(81.05,282.50) rotate(-54) scale(0.9,1)" font-size="4.4" text-anchor="end" fill="#111" stroke="#111" stroke-width="0.097">250</text>
<line x1="86.22" y1="279.60" x2="86.22" y2="280.90" stroke="#222" stroke-width="0.6"/>
<text transform="translate(87.82,282.50) rotate(-54) scale(0.9,1)" font-size="4.4" text-anchor="end" fill="#111" stroke="#111" stroke-width="0.097">300</text>
<line x1="92.99" y1="279.60" x2="92.99" y2="280.90" stroke="#222" stroke-width="0.6"/>
<text transform="translate(94.59,282.50) rotate(-54) scale(0.9,1)" font-size="4.4" text-anchor="end" fill="#111" stroke="#111" stroke-width="0.097">350</text>
<line x1="99.76" y1="279.60" x2="99.76" y2="280.90" stroke="#222" stroke-width="0.6"/>
<text transform="translate(101.36,282.50) rotate(-54) scale(0.9,1)" font-size="4.4" text-anchor="end" fill="#111" stroke="#111" stroke-width="0.097">400</text>
<line x1="106.53" y1="279.60" x2="106.53" y2="280.90" stroke="#222" stroke-width="0.6"/>
<text transform="translate(108.13,282.50) rotate(-54) scale(0.9,1)" font-size="4.4" text-anchor="end" fill="#111" stroke="#111" stroke-width="0.097">450</text>
<line x1="113.30" y1="279.60" x2="113.30" y2="280.90" stroke="#222" stroke-width="0.6"/>
<text transform="translate(114.90,282.50) rotate(-54) scale(0.9,1)" font-size="4.4" text-anchor="end" fill="#111" stroke="#111" stroke-width="0.097">500</text>
<text transform="translate(25.60,233.00) rotate(-90) scale(0.77,1)" font-size="6.5" text-anchor="middle" fill="#333" stroke="#333" stroke-width="0.052">Enrichment</text>
<text transform="translate(32.00,233.00) rotate(-90) scale(0.77,1)" font-size="6.5" text-anchor="middle" fill="#333" stroke="#333" stroke-width="0.052">score (ES)</text>
<text transform="translate(19.20,270.50) rotate(-90) scale(0.77,1)" font-size="6.5" text-anchor="middle" fill="#333" stroke="#333" stroke-width="0.052">Ranked list</text>
<text transform="translate(26.00,270.50) rotate(-90) scale(0.77,1)" font-size="6.5" text-anchor="middle" fill="#333" stroke="#333" stroke-width="0.052">metric</text>
<text transform="translate(33.00,270.50) rotate(-90) scale(0.77,1)" font-size="6.5" text-anchor="middle" fill="#333" stroke="#333" stroke-width="0.052">(preranked)</text>
<text transform="translate(81.20,297.30) scale(0.77,1)" font-size="6.3" text-anchor="middle" fill="#333" stroke="#333" stroke-width="0.050">Rank in ordered dataset</text>
<text transform="translate(196.80,210.10)" font-size="4.2" text-anchor="middle" fill="#333" stroke="#333" stroke-width="0.092">Enrichment plot: MENSE_HYPOXIA_UP</text>
<line x1="174.31" y1="215.10" x2="174.31" y2="247.00" stroke="#e6e6e6" stroke-width="0.35"/>
<line x1="174.31" y1="259.60" x2="174.31" y2="279.60" stroke="#ececec" stroke-width="0.35"/>
<line x1="187.92" y1="215.10" x2="187.92" y2="247.00" stroke="#e6e6e6" stroke-width="0.35"/>
<line x1="187.92" y1="259.60" x2="187.92" y2="279.60" stroke="#ececec" stroke-width="0.35"/>
<line x1="201.53" y1="215.10" x2="201.53" y2="247.00" stroke="#e6e6e6" stroke-width="0.35"/>
<line x1="201.53" y1="259.60" x2="201.53" y2="279.60" stroke="#ececec" stroke-width="0.35"/>
<line x1="215.14" y1="215.10" x2="215.14" y2="247.00" stroke="#e6e6e6" stroke-width="0.35"/>
<line x1="215.14" y1="259.60" x2="215.14" y2="279.60" stroke="#ececec" stroke-width="0.35"/>
<line x1="228.75" y1="215.10" x2="228.75" y2="247.00" stroke="#e6e6e6" stroke-width="0.35"/>
<line x1="228.75" y1="259.60" x2="228.75" y2="279.60" stroke="#ececec" stroke-width="0.35"/>
<line x1="160.70" y1="221.48" x2="232.40" y2="221.48" stroke="#e6e6e6" stroke-width="0.35"/>
<line x1="160.70" y1="227.86" x2="232.40" y2="227.86" stroke="#e6e6e6" stroke-width="0.35"/>
<line x1="160.70" y1="234.24" x2="232.40" y2="234.24" stroke="#e6e6e6" stroke-width="0.35"/>
<line x1="160.70" y1="240.62" x2="232.40" y2="240.62" stroke="#e6e6e6" stroke-width="0.35"/>
<line x1="160.70" y1="272.90" x2="232.40" y2="272.90" stroke="#ececec" stroke-width="0.35"/>
<line x1="160.70" y1="275.70" x2="232.40" y2="275.70" stroke="#ececec" stroke-width="0.35"/>
<polygon points="161.30,270.30 161.30,262.80 162.65,265.17 164.00,266.39 165.35,266.93 166.70,267.01 168.04,267.10 169.39,267.19 170.74,267.29 172.09,267.39 173.44,267.50 174.79,267.60 176.14,267.71 177.49,267.82 178.84,267.94 180.19,268.05 181.53,268.17 182.88,268.28 184.23,268.40 185.58,268.52 186.93,268.64 188.28,268.76 189.63,268.89 190.98,269.01 192.33,269.14 193.68,269.26 195.02,269.39 196.37,269.52 197.72,269.65 199.07,269.78 200.42,269.91 201.77,270.04 203.12,270.17 204.47,270.30 205.82,270.43 207.17,270.58 208.51,270.74 209.86,270.90 211.21,271.07 212.56,271.24 213.91,271.41 215.26,271.59 216.61,271.77 217.96,271.95 219.31,272.13 220.66,272.31 222.00,272.50 223.35,273.15 224.70,274.11 226.05,275.23 227.40,276.47 228.75,277.80 228.75,270.30" fill="#bdbdbd" stroke="none"/>
<text transform="translate(162.50,261.10)" font-size="1.95" text-anchor="start" fill="#e03838" stroke="#e03838" stroke-width="0.043">'na_pos' (positively correlated)</text>
<text transform="translate(196.77,278.70)" font-size="1.95" text-anchor="start" fill="#2a30b8" stroke="#2a30b8" stroke-width="0.043">'na_neg' (negatively correlated)</text>
<text transform="translate(198.81,270.00)" font-size="1.9" text-anchor="start" fill="#333" stroke="#333" stroke-width="0.042">Zero cross at 291</text>
<line x1="207.10" y1="247.00" x2="207.10" y2="256.90" stroke="#2a2a2a" stroke-width="0.45"/>
<line x1="210.00" y1="247.00" x2="210.00" y2="256.90" stroke="#2a2a2a" stroke-width="0.45"/>
<rect x="213.00" y="247.00" width="4.40" height="9.90" fill="#cfcfcf"/>
<line x1="213.20" y1="247.00" x2="213.20" y2="256.90" stroke="#2a2a2a" stroke-width="0.45"/>
<line x1="214.20" y1="247.00" x2="214.20" y2="256.90" stroke="#2a2a2a" stroke-width="0.45"/>
<line x1="215.10" y1="247.00" x2="215.10" y2="256.90" stroke="#2a2a2a" stroke-width="0.45"/>
<line x1="216.30" y1="247.00" x2="216.30" y2="256.90" stroke="#2a2a2a" stroke-width="0.45"/>
<line x1="217.00" y1="247.00" x2="217.00" y2="256.90" stroke="#2a2a2a" stroke-width="0.45"/>
<line x1="220.20" y1="247.00" x2="220.20" y2="256.90" stroke="#2a2a2a" stroke-width="0.45"/>
<line x1="222.10" y1="247.00" x2="222.10" y2="256.90" stroke="#2a2a2a" stroke-width="0.45"/>
<defs><linearGradient id="gb2" x1="0" x2="1" y1="0" y2="0"><stop offset="0" stop-color="#dc1c1c"/><stop offset="0.2" stop-color="#de2c30"/><stop offset="0.25" stop-color="#e2586c"/><stop offset="0.41" stop-color="#e46c84"/><stop offset="0.46" stop-color="#e8a0c0"/><stop offset="0.61" stop-color="#e8a8cc"/><stop offset="0.66" stop-color="#c8c8f0"/><stop offset="0.79" stop-color="#bcbcee"/><stop offset="0.83" stop-color="#7474d4"/><stop offset="0.89" stop-color="#5c5cc4"/><stop offset="0.93" stop-color="#2018a0"/><stop offset="1" stop-color="#180c84"/></linearGradient></defs>
<rect x="161.20" y="256.90" width="67.55" height="2.70" fill="url(#gb2)"/>
<polyline points="161.20,220.10 180.00,229.50 181.00,229.00 182.00,230.80 195.00,237.80 207.10,244.20 208.10,242.80 209.50,244.70 210.40,243.20 211.80,244.70 213.70,241.90 215.60,239.10 216.40,235.60 217.00,232.10 218.40,230.70 219.80,229.80 220.20,226.00 220.70,221.30 221.60,219.00 222.90,216.20 225.80,218.10 228.80,220.20" fill="none" stroke="#86bc4c" stroke-width="0.8" stroke-linejoin="round"/>
<text transform="translate(162.50,240.80)" font-size="6.3" text-anchor="start" fill="#111" stroke="#111" stroke-width="0.139">P&lt;0.001</text>
<text transform="translate(162.50,248.70)" font-size="6.3" text-anchor="start" fill="#111" stroke="#111" stroke-width="0.139">FDR&lt;0.001</text>
<text transform="translate(162.50,255.80)" font-size="6.3" text-anchor="start" fill="#111" stroke="#111" stroke-width="0.139">NES=-2.97</text>
<text transform="translate(178.80,266.50)" font-size="5.6" text-anchor="middle" fill="#2a2a2a" stroke="#2a2a2a" stroke-width="0.123">si-WTAP-1</text>
<text transform="translate(220.70,266.50)" font-size="5.6" text-anchor="middle" fill="#2a2a2a" stroke="#2a2a2a" stroke-width="0.123">si-NC</text>
<rect x="160.70" y="215.10" width="71.70" height="64.50" fill="none" stroke="#111" stroke-width="1.15"/>
<text transform="translate(157.90,216.80) scale(0.8,1)" font-size="4.0" text-anchor="end" fill="#1a1a1a" stroke="#1a1a1a" stroke-width="0.032">0.1</text>
<line x1="158.50" y1="215.50" x2="160.70" y2="215.50" stroke="#222" stroke-width="0.45"/>
<text transform="translate(157.90,220.18) scale(0.8,1)" font-size="4.0" text-anchor="end" fill="#1a1a1a" stroke="#1a1a1a" stroke-width="0.032">0.0</text>
<line x1="158.50" y1="218.88" x2="160.70" y2="218.88" stroke="#222" stroke-width="0.45"/>
<text transform="translate(157.90,223.56) scale(0.8,1)" font-size="4.0" text-anchor="end" fill="#1a1a1a" stroke="#1a1a1a" stroke-width="0.032">-0.1</text>
<line x1="158.50" y1="222.26" x2="160.70" y2="222.26" stroke="#222" stroke-width="0.45"/>
<text transform="translate(157.90,226.93) scale(0.8,1)" font-size="4.0" text-anchor="end" fill="#1a1a1a" stroke="#1a1a1a" stroke-width="0.032">-0.2</text>
<line x1="158.50" y1="225.63" x2="160.70" y2="225.63" stroke="#222" stroke-width="0.45"/>
<text transform="translate(157.90,230.31) scale(0.8,1)" font-size="4.0" text-anchor="end" fill="#1a1a1a" stroke="#1a1a1a" stroke-width="0.032">-0.3</text>
<line x1="158.50" y1="229.01" x2="160.70" y2="229.01" stroke="#222" stroke-width="0.45"/>
<text transform="translate(157.90,233.69) scale(0.8,1)" font-size="4.0" text-anchor="end" fill="#1a1a1a" stroke="#1a1a1a" stroke-width="0.032">-0.4</text>
<line x1="158.50" y1="232.39" x2="160.70" y2="232.39" stroke="#222" stroke-width="0.45"/>
<text transform="translate(157.90,237.07) scale(0.8,1)" font-size="4.0" text-anchor="end" fill="#1a1a1a" stroke="#1a1a1a" stroke-width="0.032">-0.5</text>
<line x1="158.50" y1="235.77" x2="160.70" y2="235.77" stroke="#222" stroke-width="0.45"/>
<text transform="translate(157.90,240.44) scale(0.8,1)" font-size="4.0" text-anchor="end" fill="#1a1a1a" stroke="#1a1a1a" stroke-width="0.032">-0.6</text>
<line x1="158.50" y1="239.14" x2="160.70" y2="239.14" stroke="#222" stroke-width="0.45"/>
<text transform="translate(157.90,243.82) scale(0.8,1)" font-size="4.0" text-anchor="end" fill="#1a1a1a" stroke="#1a1a1a" stroke-width="0.032">-0.7</text>
<line x1="158.50" y1="242.52" x2="160.70" y2="242.52" stroke="#222" stroke-width="0.45"/>
<text transform="translate(157.90,247.20) scale(0.8,1)" font-size="4.0" text-anchor="end" fill="#1a1a1a" stroke="#1a1a1a" stroke-width="0.032">-0.8</text>
<line x1="158.50" y1="245.90" x2="160.70" y2="245.90" stroke="#222" stroke-width="0.45"/>
<text transform="translate(157.90,262.50) scale(0.8,1)" font-size="4.0" text-anchor="end" fill="#1a1a1a" stroke="#1a1a1a" stroke-width="0.032">5.0</text>
<line x1="158.70" y1="261.20" x2="160.70" y2="261.20" stroke="#222" stroke-width="0.4"/>
<text transform="translate(157.90,265.47) scale(0.8,1)" font-size="4.0" text-anchor="end" fill="#1a1a1a" stroke="#1a1a1a" stroke-width="0.032">2.5</text>
<line x1="158.70" y1="264.17" x2="160.70" y2="264.17" stroke="#222" stroke-width="0.4"/>
<text transform="translate(157.90,268.43) scale(0.8,1)" font-size="4.0" text-anchor="end" fill="#1a1a1a" stroke="#1a1a1a" stroke-width="0.032">0.0</text>
<line x1="158.70" y1="267.13" x2="160.70" y2="267.13" stroke="#222" stroke-width="0.4"/>
<text transform="translate(157.90,271.40) scale(0.8,1)" font-size="4.0" text-anchor="end" fill="#1a1a1a" stroke="#1a1a1a" stroke-width="0.032">-2.5</text>
<line x1="158.70" y1="270.10" x2="160.70" y2="270.10" stroke="#222" stroke-width="0.4"/>
<text transform="translate(157.90,274.37) scale(0.8,1)" font-size="4.0" text-anchor="end" fill="#1a1a1a" stroke="#1a1a1a" stroke-width="0.032">-5.0</text>
<line x1="158.70" y1="273.07" x2="160.70" y2="273.07" stroke="#222" stroke-width="0.4"/>
<text transform="translate(157.90,277.33) scale(0.8,1)" font-size="4.0" text-anchor="end" fill="#1a1a1a" stroke="#1a1a1a" stroke-width="0.032">-7.5</text>
<line x1="158.70" y1="276.03" x2="160.70" y2="276.03" stroke="#222" stroke-width="0.4"/>
<text transform="translate(157.90,280.30) scale(0.8,1)" font-size="4.0" text-anchor="end" fill="#1a1a1a" stroke="#1a1a1a" stroke-width="0.032">-10</text>
<line x1="158.70" y1="279.00" x2="160.70" y2="279.00" stroke="#222" stroke-width="0.4"/>
<line x1="161.00" y1="279.60" x2="161.00" y2="280.90" stroke="#222" stroke-width="0.6"/>
<text transform="translate(162.60,282.50) rotate(-54) scale(0.9,1)" font-size="4.4" text-anchor="end" fill="#111" stroke="#111" stroke-width="0.097">0</text>
<line x1="167.81" y1="279.60" x2="167.81" y2="280.90" stroke="#222" stroke-width="0.6"/>
<text transform="translate(169.41,282.50) rotate(-54) scale(0.9,1)" font-size="4.4" text-anchor="end" fill="#111" stroke="#111" stroke-width="0.097">50</text>
<line x1="174.61" y1="279.60" x2="174.61" y2="280.90" stroke="#222" stroke-width="0.6"/>
<text transform="translate(176.21,282.50) rotate(-54) scale(0.9,1)" font-size="4.4" text-anchor="end" fill="#111" stroke="#111" stroke-width="0.097">100</text>
<line x1="181.41" y1="279.60" x2="181.41" y2="280.90" stroke="#222" stroke-width="0.6"/>
<text transform="translate(183.01,282.50) rotate(-54) scale(0.9,1)" font-size="4.4" text-anchor="end" fill="#111" stroke="#111" stroke-width="0.097">150</text>
<line x1="188.22" y1="279.60" x2="188.22" y2="280.90" stroke="#222" stroke-width="0.6"/>
<text transform="translate(189.82,282.50) rotate(-54) scale(0.9,1)" font-size="4.4" text-anchor="end" fill="#111" stroke="#111" stroke-width="0.097">200</text>
<line x1="195.03" y1="279.60" x2="195.03" y2="280.90" stroke="#222" stroke-width="0.6"/>
<text transform="translate(196.62,282.50) rotate(-54) scale(0.9,1)" font-size="4.4" text-anchor="end" fill="#111" stroke="#111" stroke-width="0.097">250</text>
<line x1="201.83" y1="279.60" x2="201.83" y2="280.90" stroke="#222" stroke-width="0.6"/>
<text transform="translate(203.43,282.50) rotate(-54) scale(0.9,1)" font-size="4.4" text-anchor="end" fill="#111" stroke="#111" stroke-width="0.097">300</text>
<line x1="208.63" y1="279.60" x2="208.63" y2="280.90" stroke="#222" stroke-width="0.6"/>
<text transform="translate(210.23,282.50) rotate(-54) scale(0.9,1)" font-size="4.4" text-anchor="end" fill="#111" stroke="#111" stroke-width="0.097">350</text>
<line x1="215.44" y1="279.60" x2="215.44" y2="280.90" stroke="#222" stroke-width="0.6"/>
<text transform="translate(217.04,282.50) rotate(-54) scale(0.9,1)" font-size="4.4" text-anchor="end" fill="#111" stroke="#111" stroke-width="0.097">400</text>
<line x1="222.25" y1="279.60" x2="222.25" y2="280.90" stroke="#222" stroke-width="0.6"/>
<text transform="translate(223.84,282.50) rotate(-54) scale(0.9,1)" font-size="4.4" text-anchor="end" fill="#111" stroke="#111" stroke-width="0.097">450</text>
<line x1="229.05" y1="279.60" x2="229.05" y2="280.90" stroke="#222" stroke-width="0.6"/>
<text transform="translate(230.65,282.50) rotate(-54) scale(0.9,1)" font-size="4.4" text-anchor="end" fill="#111" stroke="#111" stroke-width="0.097">500</text>
<text transform="translate(139.80,230.50) rotate(-90) scale(0.77,1)" font-size="6.5" text-anchor="middle" fill="#333" stroke="#333" stroke-width="0.052">Enrichment</text>
<text transform="translate(148.00,230.50) rotate(-90) scale(0.77,1)" font-size="6.5" text-anchor="middle" fill="#333" stroke="#333" stroke-width="0.052">score (ES)</text>
<text transform="translate(134.20,269.30) rotate(-90) scale(0.77,1)" font-size="6.5" text-anchor="middle" fill="#333" stroke="#333" stroke-width="0.052">Ranked list</text>
<text transform="translate(141.30,269.30) rotate(-90) scale(0.77,1)" font-size="6.5" text-anchor="middle" fill="#333" stroke="#333" stroke-width="0.052">metric</text>
<text transform="translate(148.80,269.30) rotate(-90) scale(0.77,1)" font-size="6.5" text-anchor="middle" fill="#333" stroke="#333" stroke-width="0.052">(preranked)</text>
<text transform="translate(195.50,297.30) scale(0.77,1)" font-size="6.3" text-anchor="middle" fill="#333" stroke="#333" stroke-width="0.050">Rank in ordered dataset</text>
<text transform="translate(310.50,210.10)" font-size="4.2" text-anchor="middle" fill="#333" stroke="#333" stroke-width="0.092">Enrichment plot: ELVIDGE_HYPOXIA_UP</text>
<line x1="288.28" y1="215.10" x2="288.28" y2="247.00" stroke="#e6e6e6" stroke-width="0.35"/>
<line x1="288.28" y1="259.60" x2="288.28" y2="279.60" stroke="#ececec" stroke-width="0.35"/>
<line x1="301.86" y1="215.10" x2="301.86" y2="247.00" stroke="#e6e6e6" stroke-width="0.35"/>
<line x1="301.86" y1="259.60" x2="301.86" y2="279.60" stroke="#ececec" stroke-width="0.35"/>
<line x1="315.44" y1="215.10" x2="315.44" y2="247.00" stroke="#e6e6e6" stroke-width="0.35"/>
<line x1="315.44" y1="259.60" x2="315.44" y2="279.60" stroke="#ececec" stroke-width="0.35"/>
<line x1="329.02" y1="215.10" x2="329.02" y2="247.00" stroke="#e6e6e6" stroke-width="0.35"/>
<line x1="329.02" y1="259.60" x2="329.02" y2="279.60" stroke="#ececec" stroke-width="0.35"/>
<line x1="342.60" y1="215.10" x2="342.60" y2="247.00" stroke="#e6e6e6" stroke-width="0.35"/>
<line x1="342.60" y1="259.60" x2="342.60" y2="279.60" stroke="#ececec" stroke-width="0.35"/>
<line x1="274.70" y1="221.48" x2="346.50" y2="221.48" stroke="#e6e6e6" stroke-width="0.35"/>
<line x1="274.70" y1="227.86" x2="346.50" y2="227.86" stroke="#e6e6e6" stroke-width="0.35"/>
<line x1="274.70" y1="234.24" x2="346.50" y2="234.24" stroke="#e6e6e6" stroke-width="0.35"/>
<line x1="274.70" y1="240.62" x2="346.50" y2="240.62" stroke="#e6e6e6" stroke-width="0.35"/>
<line x1="274.70" y1="272.90" x2="346.50" y2="272.90" stroke="#ececec" stroke-width="0.35"/>
<line x1="274.70" y1="275.70" x2="346.50" y2="275.70" stroke="#ececec" stroke-width="0.35"/>
<polygon points="275.30,270.30 275.30,262.80 276.65,265.17 277.99,266.39 279.34,266.93 280.68,267.01 282.03,267.10 283.38,267.19 284.72,267.29 286.07,267.39 287.41,267.50 288.76,267.60 290.11,267.71 291.45,267.82 292.80,267.94 294.14,268.05 295.49,268.17 296.84,268.28 298.18,268.40 299.53,268.52 300.87,268.64 302.22,268.76 303.57,268.89 304.91,269.01 306.26,269.14 307.60,269.26 308.95,269.39 310.30,269.52 311.64,269.65 312.99,269.78 314.33,269.91 315.68,270.04 317.03,270.17 318.37,270.30 319.72,270.43 321.06,270.58 322.41,270.74 323.76,270.90 325.10,271.07 326.45,271.24 327.79,271.41 329.14,271.59 330.49,271.77 331.83,271.95 333.18,272.13 334.52,272.31 335.87,272.50 337.22,273.15 338.56,274.11 339.91,275.23 341.25,276.47 342.60,277.80 342.60,270.30" fill="#bdbdbd" stroke="none"/>
<text transform="translate(276.50,261.10)" font-size="1.95" text-anchor="start" fill="#e03838" stroke="#e03838" stroke-width="0.043">'na_pos' (positively correlated)</text>
<text transform="translate(310.69,278.70)" font-size="1.95" text-anchor="start" fill="#2a30b8" stroke="#2a30b8" stroke-width="0.043">'na_neg' (negatively correlated)</text>
<text transform="translate(312.72,270.00)" font-size="1.9" text-anchor="start" fill="#333" stroke="#333" stroke-width="0.042">Zero cross at 291</text>
<line x1="320.75" y1="247.00" x2="320.75" y2="256.90" stroke="#2a2a2a" stroke-width="0.45"/>
<line x1="322.50" y1="247.00" x2="322.50" y2="256.90" stroke="#2a2a2a" stroke-width="0.45"/>
<line x1="324.25" y1="247.00" x2="324.25" y2="256.90" stroke="#2a2a2a" stroke-width="0.45"/>
<line x1="325.50" y1="247.00" x2="325.50" y2="256.90" stroke="#2a2a2a" stroke-width="0.45"/>
<rect x="326.60" y="247.00" width="7.60" height="9.90" fill="#cfcfcf"/>
<line x1="327.00" y1="247.00" x2="327.00" y2="256.90" stroke="#2a2a2a" stroke-width="0.45"/>
<line x1="328.75" y1="247.00" x2="328.75" y2="256.90" stroke="#2a2a2a" stroke-width="0.45"/>
<line x1="330.50" y1="247.00" x2="330.50" y2="256.90" stroke="#2a2a2a" stroke-width="0.45"/>
<line x1="332.00" y1="247.00" x2="332.00" y2="256.90" stroke="#2a2a2a" stroke-width="0.45"/>
<line x1="333.75" y1="247.00" x2="333.75" y2="256.90" stroke="#2a2a2a" stroke-width="0.45"/>
<line x1="335.50" y1="247.00" x2="335.50" y2="256.90" stroke="#2a2a2a" stroke-width="0.45"/>
<line x1="337.00" y1="247.00" x2="337.00" y2="256.90" stroke="#2a2a2a" stroke-width="0.45"/>
<line x1="338.75" y1="247.00" x2="338.75" y2="256.90" stroke="#2a2a2a" stroke-width="0.45"/>
<defs><linearGradient id="gb3" x1="0" x2="1" y1="0" y2="0"><stop offset="0" stop-color="#dc1c1c"/><stop offset="0.2" stop-color="#de2c30"/><stop offset="0.25" stop-color="#e2586c"/><stop offset="0.41" stop-color="#e46c84"/><stop offset="0.46" stop-color="#e8a0c0"/><stop offset="0.61" stop-color="#e8a8cc"/><stop offset="0.66" stop-color="#c8c8f0"/><stop offset="0.79" stop-color="#bcbcee"/><stop offset="0.83" stop-color="#7474d4"/><stop offset="0.89" stop-color="#5c5cc4"/><stop offset="0.93" stop-color="#2018a0"/><stop offset="1" stop-color="#180c84"/></linearGradient></defs>
<rect x="275.20" y="256.90" width="67.40" height="2.70" fill="url(#gb3)"/>
<polyline points="275.20,219.20 300.00,232.50 321.00,244.30 322.50,244.00 324.00,243.00 326.00,240.60 328.60,236.80 330.00,232.50 331.50,228.80 333.60,223.20 335.50,221.40 337.40,220.00 338.60,217.80 339.60,216.80 341.20,218.00 342.60,219.40" fill="none" stroke="#86bc4c" stroke-width="0.8" stroke-linejoin="round"/>
<text transform="translate(276.20,240.80)" font-size="6.3" text-anchor="start" fill="#111" stroke="#111" stroke-width="0.139">P&lt;0.001</text>
<text transform="translate(276.20,248.70)" font-size="6.3" text-anchor="start" fill="#111" stroke="#111" stroke-width="0.139">FDR&lt;0.01</text>
<text transform="translate(276.20,255.80)" font-size="6.3" text-anchor="start" fill="#111" stroke="#111" stroke-width="0.139">NES=-2.42</text>
<text transform="translate(290.50,266.50)" font-size="5.6" text-anchor="middle" fill="#2a2a2a" stroke="#2a2a2a" stroke-width="0.123">si-WTAP-1</text>
<text transform="translate(332.70,266.50)" font-size="5.6" text-anchor="middle" fill="#2a2a2a" stroke="#2a2a2a" stroke-width="0.123">si-NC</text>
<rect x="274.70" y="215.10" width="71.80" height="64.50" fill="none" stroke="#111" stroke-width="1.15"/>
<text transform="translate(271.90,216.80) scale(0.8,1)" font-size="4.0" text-anchor="end" fill="#1a1a1a" stroke="#1a1a1a" stroke-width="0.032">0.1</text>
<line x1="272.50" y1="215.50" x2="274.70" y2="215.50" stroke="#222" stroke-width="0.45"/>
<text transform="translate(271.90,220.18) scale(0.8,1)" font-size="4.0" text-anchor="end" fill="#1a1a1a" stroke="#1a1a1a" stroke-width="0.032">0.0</text>
<line x1="272.50" y1="218.88" x2="274.70" y2="218.88" stroke="#222" stroke-width="0.45"/>
<text transform="translate(271.90,223.56) scale(0.8,1)" font-size="4.0" text-anchor="end" fill="#1a1a1a" stroke="#1a1a1a" stroke-width="0.032">-0.1</text>
<line x1="272.50" y1="222.26" x2="274.70" y2="222.26" stroke="#222" stroke-width="0.45"/>
<text transform="translate(271.90,226.93) scale(0.8,1)" font-size="4.0" text-anchor="end" fill="#1a1a1a" stroke="#1a1a1a" stroke-width="0.032">-0.2</text>
<line x1="272.50" y1="225.63" x2="274.70" y2="225.63" stroke="#222" stroke-width="0.45"/>
<text transform="translate(271.90,230.31) scale(0.8,1)" font-size="4.0" text-anchor="end" fill="#1a1a1a" stroke="#1a1a1a" stroke-width="0.032">-0.3</text>
<line x1="272.50" y1="229.01" x2="274.70" y2="229.01" stroke="#222" stroke-width="0.45"/>
<text transform="translate(271.90,233.69) scale(0.8,1)" font-size="4.0" text-anchor="end" fill="#1a1a1a" stroke="#1a1a1a" stroke-width="0.032">-0.4</text>
<line x1="272.50" y1="232.39" x2="274.70" y2="232.39" stroke="#222" stroke-width="0.45"/>
<text transform="translate(271.90,237.07) scale(0.8,1)" font-size="4.0" text-anchor="end" fill="#1a1a1a" stroke="#1a1a1a" stroke-width="0.032">-0.5</text>
<line x1="272.50" y1="235.77" x2="274.70" y2="235.77" stroke="#222" stroke-width="0.45"/>
<text transform="translate(271.90,240.44) scale(0.8,1)" font-size="4.0" text-anchor="end" fill="#1a1a1a" stroke="#1a1a1a" stroke-width="0.032">-0.6</text>
<line x1="272.50" y1="239.14" x2="274.70" y2="239.14" stroke="#222" stroke-width="0.45"/>
<text transform="translate(271.90,243.82) scale(0.8,1)" font-size="4.0" text-anchor="end" fill="#1a1a1a" stroke="#1a1a1a" stroke-width="0.032">-0.7</text>
<line x1="272.50" y1="242.52" x2="274.70" y2="242.52" stroke="#222" stroke-width="0.45"/>
<text transform="translate(271.90,247.20) scale(0.8,1)" font-size="4.0" text-anchor="end" fill="#1a1a1a" stroke="#1a1a1a" stroke-width="0.032">-0.8</text>
<line x1="272.50" y1="245.90" x2="274.70" y2="245.90" stroke="#222" stroke-width="0.45"/>
<text transform="translate(271.90,262.50) scale(0.8,1)" font-size="4.0" text-anchor="end" fill="#1a1a1a" stroke="#1a1a1a" stroke-width="0.032">5.0</text>
<line x1="272.70" y1="261.20" x2="274.70" y2="261.20" stroke="#222" stroke-width="0.4"/>
<text transform="translate(271.90,265.47) scale(0.8,1)" font-size="4.0" text-anchor="end" fill="#1a1a1a" stroke="#1a1a1a" stroke-width="0.032">2.5</text>
<line x1="272.70" y1="264.17" x2="274.70" y2="264.17" stroke="#222" stroke-width="0.4"/>
<text transform="translate(271.90,268.43) scale(0.8,1)" font-size="4.0" text-anchor="end" fill="#1a1a1a" stroke="#1a1a1a" stroke-width="0.032">0.0</text>
<line x1="272.70" y1="267.13" x2="274.70" y2="267.13" stroke="#222" stroke-width="0.4"/>
<text transform="translate(271.90,271.40) scale(0.8,1)" font-size="4.0" text-anchor="end" fill="#1a1a1a" stroke="#1a1a1a" stroke-width="0.032">-2.5</text>
<line x1="272.70" y1="270.10" x2="274.70" y2="270.10" stroke="#222" stroke-width="0.4"/>
<text transform="translate(271.90,274.37) scale(0.8,1)" font-size="4.0" text-anchor="end" fill="#1a1a1a" stroke="#1a1a1a" stroke-width="0.032">-5.0</text>
<line x1="272.70" y1="273.07" x2="274.70" y2="273.07" stroke="#222" stroke-width="0.4"/>
<text transform="translate(271.90,277.33) scale(0.8,1)" font-size="4.0" text-anchor="end" fill="#1a1a1a" stroke="#1a1a1a" stroke-width="0.032">-7.5</text>
<line x1="272.70" y1="276.03" x2="274.70" y2="276.03" stroke="#222" stroke-width="0.4"/>
<text transform="translate(271.90,280.30) scale(0.8,1)" font-size="4.0" text-anchor="end" fill="#1a1a1a" stroke="#1a1a1a" stroke-width="0.032">-10</text>
<line x1="272.70" y1="279.00" x2="274.70" y2="279.00" stroke="#222" stroke-width="0.4"/>
<line x1="275.00" y1="279.60" x2="275.00" y2="280.90" stroke="#222" stroke-width="0.6"/>
<text transform="translate(276.60,282.50) rotate(-54) scale(0.9,1)" font-size="4.4" text-anchor="end" fill="#111" stroke="#111" stroke-width="0.097">0</text>
<line x1="281.79" y1="279.60" x2="281.79" y2="280.90" stroke="#222" stroke-width="0.6"/>
<text transform="translate(283.39,282.50) rotate(-54) scale(0.9,1)" font-size="4.4" text-anchor="end" fill="#111" stroke="#111" stroke-width="0.097">50</text>
<line x1="288.58" y1="279.60" x2="288.58" y2="280.90" stroke="#222" stroke-width="0.6"/>
<text transform="translate(290.18,282.50) rotate(-54) scale(0.9,1)" font-size="4.4" text-anchor="end" fill="#111" stroke="#111" stroke-width="0.097">100</text>
<line x1="295.37" y1="279.60" x2="295.37" y2="280.90" stroke="#222" stroke-width="0.6"/>
<text transform="translate(296.97,282.50) rotate(-54) scale(0.9,1)" font-size="4.4" text-anchor="end" fill="#111" stroke="#111" stroke-width="0.097">150</text>
<line x1="302.16" y1="279.60" x2="302.16" y2="280.90" stroke="#222" stroke-width="0.6"/>
<text transform="translate(303.76,282.50) rotate(-54) scale(0.9,1)" font-size="4.4" text-anchor="end" fill="#111" stroke="#111" stroke-width="0.097">200</text>
<line x1="308.95" y1="279.60" x2="308.95" y2="280.90" stroke="#222" stroke-width="0.6"/>
<text transform="translate(310.55,282.50) rotate(-54) scale(0.9,1)" font-size="4.4" text-anchor="end" fill="#111" stroke="#111" stroke-width="0.097">250</text>
<line x1="315.74" y1="279.60" x2="315.74" y2="280.90" stroke="#222" stroke-width="0.6"/>
<text transform="translate(317.34,282.50) rotate(-54) scale(0.9,1)" font-size="4.4" text-anchor="end" fill="#111" stroke="#111" stroke-width="0.097">300</text>
<line x1="322.53" y1="279.60" x2="322.53" y2="280.90" stroke="#222" stroke-width="0.6"/>
<text transform="translate(324.13,282.50) rotate(-54) scale(0.9,1)" font-size="4.4" text-anchor="end" fill="#111" stroke="#111" stroke-width="0.097">350</text>
<line x1="329.32" y1="279.60" x2="329.32" y2="280.90" stroke="#222" stroke-width="0.6"/>
<text transform="translate(330.92,282.50) rotate(-54) scale(0.9,1)" font-size="4.4" text-anchor="end" fill="#111" stroke="#111" stroke-width="0.097">400</text>
<line x1="336.11" y1="279.60" x2="336.11" y2="280.90" stroke="#222" stroke-width="0.6"/>
<text transform="translate(337.71,282.50) rotate(-54) scale(0.9,1)" font-size="4.4" text-anchor="end" fill="#111" stroke="#111" stroke-width="0.097">450</text>
<line x1="342.90" y1="279.60" x2="342.90" y2="280.90" stroke="#222" stroke-width="0.6"/>
<text transform="translate(344.50,282.50) rotate(-54) scale(0.9,1)" font-size="4.4" text-anchor="end" fill="#111" stroke="#111" stroke-width="0.097">500</text>
<text transform="translate(253.80,230.50) rotate(-90) scale(0.77,1)" font-size="6.5" text-anchor="middle" fill="#333" stroke="#333" stroke-width="0.052">Enrichment</text>
<text transform="translate(261.30,230.50) rotate(-90) scale(0.77,1)" font-size="6.5" text-anchor="middle" fill="#333" stroke="#333" stroke-width="0.052">score (ES)</text>
<text transform="translate(248.00,269.30) rotate(-90) scale(0.77,1)" font-size="6.5" text-anchor="middle" fill="#333" stroke="#333" stroke-width="0.052">Ranked list</text>
<text transform="translate(255.50,269.30) rotate(-90) scale(0.77,1)" font-size="6.5" text-anchor="middle" fill="#333" stroke="#333" stroke-width="0.052">metric</text>
<text transform="translate(263.00,269.30) rotate(-90) scale(0.77,1)" font-size="6.5" text-anchor="middle" fill="#333" stroke="#333" stroke-width="0.052">(preranked)</text>
<text transform="translate(310.00,297.30) scale(0.77,1)" font-size="6.3" text-anchor="middle" fill="#333" stroke="#333" stroke-width="0.050">Rank in ordered dataset</text>
<line x1="11.50" y1="303.50" x2="15.50" y2="303.50" stroke="#86bc4c" stroke-width="0.6"/>
<text transform="translate(17.10,304.90)" font-size="4.25" text-anchor="start" fill="#484848" stroke="#484848" stroke-width="0.093">Enrichment profile</text>
<line x1="54.80" y1="303.50" x2="57.80" y2="303.50" stroke="#222" stroke-width="0.9"/>
<text transform="translate(59.40,304.90)" font-size="4.25" text-anchor="start" fill="#484848" stroke="#484848" stroke-width="0.093">Hits</text>
<line x1="70.20" y1="303.50" x2="73.20" y2="303.50" stroke="#999" stroke-width="0.6"/>
<line x1="75.20" y1="303.50" x2="78.20" y2="303.50" stroke="#999" stroke-width="0.6"/>
<text transform="translate(80.10,304.90)" font-size="4.25" text-anchor="start" fill="#484848" stroke="#484848" stroke-width="0.093">Ranking metric scores</text>
<line x1="128.00" y1="303.50" x2="132.00" y2="303.50" stroke="#86bc4c" stroke-width="0.6"/>
<text transform="translate(133.60,304.90)" font-size="4.25" text-anchor="start" fill="#484848" stroke="#484848" stroke-width="0.093">Enrichment profile</text>
<line x1="171.30" y1="303.50" x2="174.30" y2="303.50" stroke="#222" stroke-width="0.9"/>
<text transform="translate(175.90,304.90)" font-size="4.25" text-anchor="start" fill="#484848" stroke="#484848" stroke-width="0.093">Hits</text>
<line x1="186.70" y1="303.50" x2="189.70" y2="303.50" stroke="#999" stroke-width="0.6"/>
<line x1="191.70" y1="303.50" x2="194.70" y2="303.50" stroke="#999" stroke-width="0.6"/>
<text transform="translate(196.60,304.90)" font-size="4.25" text-anchor="start" fill="#484848" stroke="#484848" stroke-width="0.093">Ranking metric scores</text>
<line x1="245.20" y1="303.50" x2="249.20" y2="303.50" stroke="#86bc4c" stroke-width="0.6"/>
<text transform="translate(250.80,304.90)" font-size="4.25" text-anchor="start" fill="#484848" stroke="#484848" stroke-width="0.093">Enrichment profile</text>
<line x1="288.50" y1="303.50" x2="291.50" y2="303.50" stroke="#222" stroke-width="0.9"/>
<text transform="translate(293.10,304.90)" font-size="4.25" text-anchor="start" fill="#484848" stroke="#484848" stroke-width="0.093">Hits</text>
<line x1="303.90" y1="303.50" x2="306.90" y2="303.50" stroke="#999" stroke-width="0.6"/>
<line x1="308.90" y1="303.50" x2="311.90" y2="303.50" stroke="#999" stroke-width="0.6"/>
<text transform="translate(313.80,304.90)" font-size="4.25" text-anchor="start" fill="#484848" stroke="#484848" stroke-width="0.093">Ranking metric scores</text>
<rect x="366.00" y="236.20" width="146.80" height="20.60" fill="#f7f5f5"/>
<rect x="366.00" y="259.00" width="146.80" height="21.00" fill="#f7f6f8"/>
<line x1="366.00" y1="235.80" x2="512.80" y2="235.80" stroke="#4a4a4a" stroke-width="1.0"/>
<line x1="366.00" y1="257.00" x2="512.80" y2="257.00" stroke="#c4c4c4" stroke-width="0.6"/>
<line x1="366.00" y1="258.50" x2="512.80" y2="258.50" stroke="#4a4a4a" stroke-width="1.0"/>
<line x1="366.00" y1="280.20" x2="512.80" y2="280.20" stroke="#9a9a9a" stroke-width="0.7"/>
<polygon points="366.00,256.40 366.00,255.60 369.00,255.20 372.00,255.60 375.00,255.20 377.00,254.60 379.00,254.80 381.00,253.80 383.00,254.20 385.00,253.20 387.00,252.60 388.50,252.20 390.00,253.20 392.00,252.40 394.00,251.60 396.00,250.80 397.70,250.00 399.00,251.40 401.00,252.60 403.00,252.00 405.00,252.40 407.00,251.80 409.00,252.60 411.00,252.20 413.00,252.80 415.00,252.40 417.00,253.00 419.40,252.80 419.90,243.50 420.60,241.60 421.60,241.40 422.40,243.20 423.40,243.00 424.60,246.00 425.60,245.40 426.40,247.60 427.20,248.60 428.20,247.40 429.20,245.60 430.20,246.20 431.20,243.80 432.30,242.20 433.00,241.00 433.80,239.20 434.60,237.60 435.40,237.20 436.20,238.80 437.00,237.60 438.00,239.20 439.00,238.00 439.80,237.80 440.80,239.60 441.80,238.60 443.00,240.40 444.00,240.00 445.20,241.20 446.40,239.60 447.60,240.80 448.80,239.80 450.40,239.40 451.60,240.80 452.80,241.20 454.00,242.60 455.00,243.00 456.00,244.60 457.00,244.80 458.00,246.00 459.00,248.00 460.40,250.80 461.60,250.00 463.00,249.00 464.00,248.20 465.00,248.50 466.00,249.60 467.00,250.80 468.00,252.30 469.00,251.80 471.00,251.50 473.00,251.00 475.00,251.40 477.00,250.80 478.80,251.20 481.00,252.20 484.00,253.00 486.00,252.60 488.80,253.00 491.00,253.60 493.00,253.20 496.50,254.30 499.00,254.60 502.00,254.20 505.00,254.20 506.40,255.00 507.40,256.20 507.40,256.40" fill="#d3261b"/>
<line x1="435.60" y1="238.60" x2="435.60" y2="256.20" stroke="#5a2a9a" stroke-width="0.6"/>
<line x1="436.50" y1="238.00" x2="436.50" y2="246.00" stroke="#e89038" stroke-width="0.5"/>
<line x1="467.90" y1="252.40" x2="467.90" y2="256.20" stroke="#4a2a9a" stroke-width="0.6"/>
<polygon points="416.80,279.60 416.80,279.40 418.00,278.20 419.40,276.20 420.40,274.60 421.50,273.80 422.60,274.60 424.00,275.40 425.00,275.80 426.00,276.00 427.40,275.40 428.60,275.60 430.00,274.80 431.50,274.60 432.60,273.20 433.60,272.00 434.60,270.80 435.40,270.30 436.40,271.00 437.60,272.60 438.80,273.80 440.40,274.20 442.00,274.60 443.20,273.40 444.40,271.80 445.80,270.80 446.80,271.60 448.00,273.00 448.80,273.50 450.00,272.40 451.00,271.40 452.00,271.20 453.20,272.00 454.60,272.80 455.80,273.00 457.60,273.40 459.60,273.80 459.90,278.40 459.90,279.60" fill="#2e2a8c"/>
<rect x="460.50" y="278.60" width="9.50" height="1.00" fill="#2e2a8c" opacity="0.9"/>
<rect x="470.00" y="278.80" width="6.00" height="0.80" fill="#2e2a8c" opacity="0.7"/>
<rect x="476.00" y="278.50" width="8.50" height="1.10" fill="#2e2a8c" opacity="0.9"/>
<rect x="488.00" y="279.00" width="4.00" height="0.60" fill="#2e2a8c" opacity="0.6"/>
<rect x="498.60" y="278.90" width="1.00" height="0.70" fill="#2e2a8c" opacity="0.6"/>
<rect x="379.00" y="279.00" width="1.00" height="0.60" fill="#2e2a8c" opacity="0.4"/>
<rect x="381.50" y="279.00" width="1.00" height="0.60" fill="#2e2a8c" opacity="0.4"/>
<rect x="384.00" y="279.00" width="1.00" height="0.60" fill="#2e2a8c" opacity="0.4"/>
<rect x="396.00" y="278.60" width="3.00" height="1.00" fill="#2e2a8c" opacity="0.7"/>
<rect x="404.60" y="278.60" width="3.40" height="1.00" fill="#2e2a8c" opacity="0.7"/>
<text transform="translate(366.80,243.60)" font-size="5.3" text-anchor="start" fill="#222" stroke="#222" stroke-width="0.117">[0-280] si-NC</text>
<text transform="translate(366.80,267.60)" font-size="5.3" text-anchor="start" fill="#222" stroke="#222" stroke-width="0.117">[0-280] si-WTAP-1</text>
<text transform="translate(439.40,289.00)" font-size="5.2" text-anchor="middle" fill="#222" stroke="#222" stroke-width="0.114">HK2 5' UTR</text>
<rect x="49.20" y="352.75" width="5.60" height="46.85" fill="#ae082c"/>
<rect x="58.10" y="391.14" width="5.90" height="8.46" fill="#2b4a8b"/>
<line x1="61.05" y1="391.14" x2="61.05" y2="388.36" stroke="#222" stroke-width="0.9"/>
<line x1="59.45" y1="388.36" x2="62.65" y2="388.36" stroke="#222" stroke-width="0.9"/>
<rect x="67.00" y="385.82" width="6.20" height="13.78" fill="#6cb33e"/>
<line x1="70.10" y1="385.82" x2="70.10" y2="385.36" stroke="#222" stroke-width="0.9"/>
<line x1="68.50" y1="385.36" x2="71.70" y2="385.36" stroke="#222" stroke-width="0.9"/>
<rect x="83.10" y="352.75" width="5.70" height="46.85" fill="#ae082c"/>
<rect x="92.30" y="384.89" width="5.60" height="14.71" fill="#2b4a8b"/>
<line x1="95.10" y1="384.89" x2="95.10" y2="384.34" stroke="#222" stroke-width="0.9"/>
<line x1="93.50" y1="384.34" x2="96.70" y2="384.34" stroke="#222" stroke-width="0.9"/>
<rect x="101.20" y="389.29" width="6.20" height="10.31" fill="#6cb33e"/>
<line x1="104.30" y1="389.29" x2="104.30" y2="388.73" stroke="#222" stroke-width="0.9"/>
<line x1="102.70" y1="388.73" x2="105.90" y2="388.73" stroke="#222" stroke-width="0.9"/>
<line x1="45.20" y1="326.60" x2="45.20" y2="399.80" stroke="#000" stroke-width="1.25"/>
<line x1="44.60" y1="399.60" x2="111.60" y2="399.60" stroke="#000" stroke-width="1.3"/>
<line x1="41.90" y1="329.62" x2="45.20" y2="329.62" stroke="#111" stroke-width="1.0"/>
<text transform="translate(39.00,331.57) scale(0.92,1)" font-size="5.6" text-anchor="end" fill="#1c1c1c" stroke="#1c1c1c" stroke-width="0.123">1.5</text>
<line x1="41.90" y1="352.75" x2="45.20" y2="352.75" stroke="#111" stroke-width="1.0"/>
<text transform="translate(39.00,354.70) scale(0.92,1)" font-size="5.6" text-anchor="end" fill="#1c1c1c" stroke="#1c1c1c" stroke-width="0.123">1.0</text>
<line x1="41.90" y1="375.88" x2="45.20" y2="375.88" stroke="#111" stroke-width="1.0"/>
<text transform="translate(39.00,377.82) scale(0.92,1)" font-size="5.6" text-anchor="end" fill="#1c1c1c" stroke="#1c1c1c" stroke-width="0.123">0.5</text>
<line x1="41.90" y1="399.00" x2="45.20" y2="399.00" stroke="#111" stroke-width="1.0"/>
<text transform="translate(39.00,400.95) scale(0.92,1)" font-size="5.6" text-anchor="end" fill="#1c1c1c" stroke="#1c1c1c" stroke-width="0.123">0.0</text>
<line x1="61.00" y1="399.00" x2="61.00" y2="402.50" stroke="#111" stroke-width="1.0"/>
<text transform="translate(61.00,410.40)" font-size="5.1" text-anchor="middle" fill="#1c1c1c" stroke="#1c1c1c" stroke-width="0.112">SU-DHL-8</text>
<line x1="95.20" y1="399.00" x2="95.20" y2="402.50" stroke="#111" stroke-width="1.0"/>
<text transform="translate(95.20,410.40)" font-size="5.1" text-anchor="middle" fill="#1c1c1c" stroke="#1c1c1c" stroke-width="0.112">Farage</text>
<line x1="51.30" y1="343.30" x2="71.50" y2="343.30" stroke="#333" stroke-width="1.0"/>
<text transform="translate(61.40,343.65)" font-size="4.5" text-anchor="middle" fill="#2a2a2a" stroke="#2a2a2a" stroke-width="0.099">****</text>
<line x1="51.30" y1="350.80" x2="61.30" y2="350.80" stroke="#333" stroke-width="1.0"/>
<text transform="translate(56.30,351.15)" font-size="4.5" text-anchor="middle" fill="#2a2a2a" stroke="#2a2a2a" stroke-width="0.099">****</text>
<line x1="85.50" y1="341.20" x2="106.00" y2="341.20" stroke="#333" stroke-width="1.0"/>
<text transform="translate(95.75,341.55)" font-size="4.5" text-anchor="middle" fill="#2a2a2a" stroke="#2a2a2a" stroke-width="0.099">****</text>
<line x1="85.50" y1="349.50" x2="95.80" y2="349.50" stroke="#333" stroke-width="1.0"/>
<text transform="translate(90.65,349.85)" font-size="4.5" text-anchor="middle" fill="#2a2a2a" stroke="#2a2a2a" stroke-width="0.099">****</text>
<rect x="110.30" y="329.50" width="7.30" height="3.10" fill="#ae082c"/>
<text transform="translate(120.30,332.65) scale(0.9,1)" font-size="4.5" text-anchor="start" fill="#444" stroke="#444" stroke-width="0.099">si-NC</text>
<rect x="110.30" y="337.10" width="7.30" height="3.10" fill="#2b4a8b"/>
<text transform="translate(120.30,340.25) scale(0.9,1)" font-size="4.5" text-anchor="start" fill="#444" stroke="#444" stroke-width="0.099">si-WTAP-1</text>
<rect x="110.30" y="344.70" width="7.30" height="3.10" fill="#6cb33e"/>
<text transform="translate(120.30,347.85) scale(0.9,1)" font-size="4.5" text-anchor="start" fill="#444" stroke="#444" stroke-width="0.099">si-WTAP-2</text>
<text transform="translate(27.40,362.40) rotate(-90) scale(0.78,1)" font-size="7.2" text-anchor="middle" fill="#333" stroke="#333" stroke-width="0.058">Relative mRNA level</text>
<rect x="189.20" y="352.75" width="5.60" height="46.85" fill="#ae082c"/>
<rect x="198.10" y="384.89" width="5.90" height="14.71" fill="#2b4a8b"/>
<line x1="201.05" y1="384.89" x2="201.05" y2="383.97" stroke="#222" stroke-width="0.9"/>
<line x1="199.45" y1="383.97" x2="202.65" y2="383.97" stroke="#222" stroke-width="0.9"/>
<rect x="207.00" y="381.89" width="6.20" height="17.71" fill="#6cb33e"/>
<line x1="210.10" y1="381.89" x2="210.10" y2="381.33" stroke="#222" stroke-width="0.9"/>
<line x1="208.50" y1="381.33" x2="211.70" y2="381.33" stroke="#222" stroke-width="0.9"/>
<rect x="221.50" y="352.75" width="5.70" height="46.85" fill="#ae082c"/>
<rect x="230.70" y="387.44" width="5.60" height="12.16" fill="#2b4a8b"/>
<line x1="233.50" y1="387.44" x2="233.50" y2="383.74" stroke="#222" stroke-width="0.9"/>
<line x1="231.90" y1="383.74" x2="235.10" y2="383.74" stroke="#222" stroke-width="0.9"/>
<rect x="239.80" y="383.97" width="5.90" height="15.63" fill="#6cb33e"/>
<line x1="242.75" y1="383.97" x2="242.75" y2="379.34" stroke="#222" stroke-width="0.9"/>
<line x1="241.15" y1="379.34" x2="244.35" y2="379.34" stroke="#222" stroke-width="0.9"/>
<line x1="185.20" y1="326.60" x2="185.20" y2="399.80" stroke="#000" stroke-width="1.25"/>
<line x1="184.60" y1="399.60" x2="249.40" y2="399.60" stroke="#000" stroke-width="1.3"/>
<line x1="181.90" y1="329.62" x2="185.20" y2="329.62" stroke="#111" stroke-width="1.0"/>
<text transform="translate(179.00,331.57) scale(0.92,1)" font-size="5.6" text-anchor="end" fill="#1c1c1c" stroke="#1c1c1c" stroke-width="0.123">1.5</text>
<line x1="181.90" y1="352.75" x2="185.20" y2="352.75" stroke="#111" stroke-width="1.0"/>
<text transform="translate(179.00,354.70) scale(0.92,1)" font-size="5.6" text-anchor="end" fill="#1c1c1c" stroke="#1c1c1c" stroke-width="0.123">1.0</text>
<line x1="181.90" y1="375.88" x2="185.20" y2="375.88" stroke="#111" stroke-width="1.0"/>
<text transform="translate(179.00,377.82) scale(0.92,1)" font-size="5.6" text-anchor="end" fill="#1c1c1c" stroke="#1c1c1c" stroke-width="0.123">0.5</text>
<line x1="181.90" y1="399.00" x2="185.20" y2="399.00" stroke="#111" stroke-width="1.0"/>
<text transform="translate(179.00,400.95) scale(0.92,1)" font-size="5.6" text-anchor="end" fill="#1c1c1c" stroke="#1c1c1c" stroke-width="0.123">0.0</text>
<line x1="201.00" y1="399.00" x2="201.00" y2="402.50" stroke="#111" stroke-width="1.0"/>
<text transform="translate(201.00,410.40)" font-size="5.1" text-anchor="middle" fill="#1c1c1c" stroke="#1c1c1c" stroke-width="0.112">SU-DHL-8</text>
<line x1="233.60" y1="399.00" x2="233.60" y2="402.50" stroke="#111" stroke-width="1.0"/>
<text transform="translate(233.60,410.40)" font-size="5.1" text-anchor="middle" fill="#1c1c1c" stroke="#1c1c1c" stroke-width="0.112">Farage</text>
<line x1="191.30" y1="341.20" x2="209.70" y2="341.20" stroke="#333" stroke-width="1.0"/>
<text transform="translate(200.50,341.55)" font-size="4.5" text-anchor="middle" fill="#2a2a2a" stroke="#2a2a2a" stroke-width="0.099">****</text>
<line x1="191.30" y1="350.80" x2="200.80" y2="350.80" stroke="#333" stroke-width="1.0"/>
<text transform="translate(196.05,351.15)" font-size="4.5" text-anchor="middle" fill="#2a2a2a" stroke="#2a2a2a" stroke-width="0.099">****</text>
<line x1="223.70" y1="342.20" x2="242.00" y2="342.20" stroke="#333" stroke-width="1.0"/>
<text transform="translate(232.85,342.55)" font-size="4.5" text-anchor="middle" fill="#2a2a2a" stroke="#2a2a2a" stroke-width="0.099">****</text>
<line x1="223.70" y1="349.50" x2="233.00" y2="349.50" stroke="#333" stroke-width="1.0"/>
<text transform="translate(228.35,349.85)" font-size="4.5" text-anchor="middle" fill="#2a2a2a" stroke="#2a2a2a" stroke-width="0.099">****</text>
<rect x="250.30" y="329.50" width="7.30" height="3.10" fill="#ae082c"/>
<text transform="translate(260.30,332.65) scale(0.9,1)" font-size="4.5" text-anchor="start" fill="#444" stroke="#444" stroke-width="0.099">si-NC</text>
<rect x="250.30" y="337.10" width="7.30" height="3.10" fill="#2b4a8b"/>
<text transform="translate(260.30,340.25) scale(0.9,1)" font-size="4.5" text-anchor="start" fill="#444" stroke="#444" stroke-width="0.099">si-WTAP-1</text>
<rect x="250.30" y="344.70" width="7.30" height="3.10" fill="#6cb33e"/>
<text transform="translate(260.30,347.85) scale(0.9,1)" font-size="4.5" text-anchor="start" fill="#444" stroke="#444" stroke-width="0.099">si-WTAP-2</text>
<text transform="translate(167.40,362.40) rotate(-90) scale(0.78,1)" font-size="7.2" text-anchor="middle" fill="#333" stroke="#333" stroke-width="0.058">Relative m6A level</text>
<rect x="328.50" y="352.75" width="6.50" height="46.85" fill="#ae082c"/>
<rect x="338.50" y="369.86" width="6.40" height="29.74" fill="#2b4a8b"/>
<line x1="341.70" y1="369.86" x2="341.70" y2="365.93" stroke="#222" stroke-width="0.9"/>
<line x1="340.10" y1="365.93" x2="343.30" y2="365.93" stroke="#222" stroke-width="0.9"/>
<rect x="348.70" y="375.88" width="6.50" height="23.73" fill="#6cb33e"/>
<line x1="351.95" y1="375.88" x2="351.95" y2="371.25" stroke="#222" stroke-width="0.9"/>
<line x1="350.35" y1="371.25" x2="353.55" y2="371.25" stroke="#222" stroke-width="0.9"/>
<rect x="365.40" y="352.75" width="6.20" height="46.85" fill="#ae082c"/>
<rect x="375.40" y="352.61" width="6.10" height="46.99" fill="#2b4a8b"/>
<line x1="378.45" y1="352.61" x2="378.45" y2="352.24" stroke="#222" stroke-width="0.9"/>
<line x1="376.85" y1="352.24" x2="380.05" y2="352.24" stroke="#222" stroke-width="0.9"/>
<rect x="385.00" y="349.74" width="6.80" height="49.86" fill="#6cb33e"/>
<line x1="388.40" y1="349.74" x2="388.40" y2="346.51" stroke="#222" stroke-width="0.9"/>
<line x1="386.80" y1="346.51" x2="390.00" y2="346.51" stroke="#222" stroke-width="0.9"/>
<line x1="325.00" y1="326.60" x2="325.00" y2="399.80" stroke="#000" stroke-width="1.25"/>
<line x1="324.40" y1="399.60" x2="395.20" y2="399.60" stroke="#000" stroke-width="1.3"/>
<line x1="321.70" y1="329.62" x2="325.00" y2="329.62" stroke="#111" stroke-width="1.0"/>
<text transform="translate(318.80,331.57) scale(0.92,1)" font-size="5.6" text-anchor="end" fill="#1c1c1c" stroke="#1c1c1c" stroke-width="0.123">1.5</text>
<line x1="321.70" y1="352.75" x2="325.00" y2="352.75" stroke="#111" stroke-width="1.0"/>
<text transform="translate(318.80,354.70) scale(0.92,1)" font-size="5.6" text-anchor="end" fill="#1c1c1c" stroke="#1c1c1c" stroke-width="0.123">1.0</text>
<line x1="321.70" y1="375.88" x2="325.00" y2="375.88" stroke="#111" stroke-width="1.0"/>
<text transform="translate(318.80,377.82) scale(0.92,1)" font-size="5.6" text-anchor="end" fill="#1c1c1c" stroke="#1c1c1c" stroke-width="0.123">0.5</text>
<line x1="321.70" y1="399.00" x2="325.00" y2="399.00" stroke="#111" stroke-width="1.0"/>
<text transform="translate(318.80,400.95) scale(0.92,1)" font-size="5.6" text-anchor="end" fill="#1c1c1c" stroke="#1c1c1c" stroke-width="0.123">0.0</text>
<line x1="341.70" y1="399.00" x2="341.70" y2="402.50" stroke="#111" stroke-width="1.0"/>
<text transform="translate(341.70,410.40)" font-size="5.1" text-anchor="middle" fill="#1c1c1c" stroke="#1c1c1c" stroke-width="0.112">WT</text>
<line x1="378.90" y1="399.00" x2="378.90" y2="402.50" stroke="#111" stroke-width="1.0"/>
<text transform="translate(378.90,410.40)" font-size="5.1" text-anchor="middle" fill="#1c1c1c" stroke="#1c1c1c" stroke-width="0.112">MUT</text>
<line x1="330.90" y1="343.80" x2="351.90" y2="343.80" stroke="#333" stroke-width="1.0"/>
<text transform="translate(341.40,344.15)" font-size="4.5" text-anchor="middle" fill="#2a2a2a" stroke="#2a2a2a" stroke-width="0.099">**</text>
<line x1="330.90" y1="350.80" x2="342.00" y2="350.80" stroke="#333" stroke-width="1.0"/>
<text transform="translate(336.45,351.15)" font-size="4.5" text-anchor="middle" fill="#2a2a2a" stroke="#2a2a2a" stroke-width="0.099">**</text>
<line x1="367.30" y1="337.10" x2="388.30" y2="337.10" stroke="#333" stroke-width="1.0"/>
<text transform="translate(377.80,335.90)" font-size="3.8" text-anchor="middle" fill="#111" stroke="#111" stroke-width="0.084">ns</text>
<line x1="367.30" y1="344.10" x2="378.90" y2="344.10" stroke="#333" stroke-width="1.0"/>
<text transform="translate(373.10,342.90)" font-size="3.8" text-anchor="middle" fill="#111" stroke="#111" stroke-width="0.084">ns</text>
<rect x="398.70" y="329.50" width="7.30" height="3.10" fill="#ae082c"/>
<text transform="translate(408.70,332.65) scale(0.9,1)" font-size="4.5" text-anchor="start" fill="#444" stroke="#444" stroke-width="0.099">si-NC</text>
<rect x="398.70" y="337.10" width="7.30" height="3.10" fill="#2b4a8b"/>
<text transform="translate(408.70,340.25) scale(0.9,1)" font-size="4.5" text-anchor="start" fill="#444" stroke="#444" stroke-width="0.099">si-WTAP-1</text>
<rect x="398.70" y="344.70" width="7.30" height="3.10" fill="#6cb33e"/>
<text transform="translate(408.70,347.85) scale(0.9,1)" font-size="4.5" text-anchor="start" fill="#444" stroke="#444" stroke-width="0.099">si-WTAP-2</text>
<text transform="translate(306.40,362.40) rotate(-90) scale(0.78,1)" font-size="7.2" text-anchor="middle" fill="#333" stroke="#333" stroke-width="0.058">Relative luciferase activity</text>
<ellipse cx="69.6" cy="503.6" rx="28.8" ry="13.4" fill="#a9cbee" stroke="#5b9bd8" stroke-width="0.6"/>
<ellipse cx="69.2" cy="472.6" rx="42.5" ry="28.8" fill="#a9cbee" stroke="#5b9bd8" stroke-width="0.6"/>
<line x1="14.00" y1="469.80" x2="155.00" y2="469.80" stroke="#2a2a2a" stroke-width="1.1"/>
<line x1="14.00" y1="491.90" x2="155.00" y2="491.90" stroke="#2a2a2a" stroke-width="1.1"/>
<rect x="24.00" y="466.00" width="93.30" height="7.40" fill="#898cc4" stroke="#34447c" stroke-width="0.8"/>
<rect x="127.10" y="466.00" width="17.70" height="7.40" fill="#898cc4" stroke="#34447c" stroke-width="0.8"/>
<rect x="24.00" y="488.20" width="93.30" height="7.40" fill="#898cc4" stroke="#34447c" stroke-width="0.8"/>
<rect x="127.10" y="488.20" width="17.70" height="7.40" fill="#898cc4" stroke="#34447c" stroke-width="0.8"/>
<text transform="translate(136.00,471.30)" font-size="4.2" text-anchor="middle" fill="#333" stroke="#333" stroke-width="0.092">exon</text>
<text transform="translate(10.90,471.30)" font-size="4.2" text-anchor="middle" fill="#1c1c1c" stroke="#1c1c1c" stroke-width="0.092">5'</text>
<text transform="translate(158.40,471.30)" font-size="4.2" text-anchor="middle" fill="#1c1c1c" stroke="#1c1c1c" stroke-width="0.092">3'</text>
<text transform="translate(10.90,493.40)" font-size="4.2" text-anchor="middle" fill="#1c1c1c" stroke="#1c1c1c" stroke-width="0.092">3'</text>
<text transform="translate(158.40,493.40)" font-size="4.2" text-anchor="middle" fill="#1c1c1c" stroke="#1c1c1c" stroke-width="0.092">5'</text>
<text x="27.2" y="471.4" font-size="4.3" textLength="81" lengthAdjust="spacingAndGlyphs" stroke-width="0.1" style="text-rendering:geometricPrecision"><tspan></tspan><tspan fill="#2a2a2a" stroke="#2a2a2a">GCCA</tspan><tspan fill="#e4c424" stroke="#e4c424">CGG</tspan><tspan fill="#cc1c34" stroke="#cc1c34">A</tspan><tspan fill="#e4c424" stroke="#e4c424">CCACACGTCCCATCTC</tspan><tspan fill="#a4ccf4" stroke="#a4ccf4">AGG</tspan></text>
<text x="27.2" y="493.6" font-size="4.3" textLength="80.4" lengthAdjust="spacingAndGlyphs" fill="#2a2a2a" stroke="#2a2a2a" stroke-width="0.1">CGGTGCCTGGTGTGCAGGGTAGAGTCC</text>
<line x1="38.80" y1="477.50" x2="140.40" y2="477.50" stroke="#111" stroke-width="0.8"/>
<rect x="38.90" y="473.80" width="1.80" height="3.60" fill="#111"/>
<rect x="42.02" y="473.80" width="1.80" height="3.60" fill="#111"/>
<rect x="45.14" y="473.80" width="1.80" height="3.60" fill="#111"/>
<rect x="48.26" y="473.80" width="1.80" height="3.60" fill="#111"/>
<rect x="51.38" y="473.80" width="1.80" height="3.60" fill="#111"/>
<rect x="54.50" y="473.80" width="1.80" height="3.60" fill="#111"/>
<rect x="57.62" y="473.80" width="1.80" height="3.60" fill="#111"/>
<rect x="60.74" y="473.80" width="1.80" height="3.60" fill="#111"/>
<rect x="63.86" y="473.80" width="1.80" height="3.60" fill="#111"/>
<rect x="66.98" y="473.80" width="1.80" height="3.60" fill="#111"/>
<rect x="70.10" y="473.80" width="1.80" height="3.60" fill="#111"/>
<rect x="73.22" y="473.80" width="1.80" height="3.60" fill="#111"/>
<rect x="76.34" y="473.80" width="1.80" height="3.60" fill="#111"/>
<rect x="79.46" y="473.80" width="1.80" height="3.60" fill="#111"/>
<rect x="82.58" y="473.80" width="1.80" height="3.60" fill="#111"/>
<rect x="85.70" y="473.80" width="1.80" height="3.60" fill="#111"/>
<rect x="88.82" y="473.80" width="1.80" height="3.60" fill="#111"/>
<rect x="91.94" y="473.80" width="1.80" height="3.60" fill="#111"/>
<rect x="95.06" y="473.80" width="1.80" height="3.60" fill="#111"/>
<rect x="98.18" y="473.80" width="1.80" height="3.60" fill="#111"/>
<rect x="101.30" y="473.80" width="1.80" height="3.60" fill="#111"/>
<text transform="translate(70.50,483.60)" font-size="4.2" text-anchor="middle" fill="#1c1c1c" stroke="#1c1c1c" stroke-width="0.092">gRNA</text>
<text transform="translate(110.20,483.20)" font-size="4.2" text-anchor="middle" fill="#1c1c1c" stroke="#1c1c1c" stroke-width="0.092">PAM</text>
<text transform="translate(70.00,452.60)" font-size="4.3" text-anchor="middle" fill="#1c1c1c" stroke="#1c1c1c" stroke-width="0.095">5'UTR</text>
<text transform="translate(49.40,460.20)" font-size="4.1" text-anchor="middle" fill="#1c1c1c" stroke="#1c1c1c" stroke-width="0.090">m6A site</text>
<line x1="50.60" y1="465.80" x2="50.60" y2="462.80" stroke="#111" stroke-width="0.7"/>
<path d="M49.2,463.6 L50.6,461.2 L52,463.6 Z" fill="#111"/>
<text transform="translate(70.20,505.80)" font-size="4.1" text-anchor="middle" fill="#1c1c1c" stroke="#1c1c1c" stroke-width="0.090">Cas9</text>
<circle cx="105.9" cy="461.3" r="2.45" fill="#9aa6dc" stroke="#4a5aa2" stroke-width="1.1"/>
<path d="M105.2,461.10 q1.2,-0.90 1.5,0.50 q0,1.20 1.6,1.60" fill="none" stroke="#4a5aa2" stroke-width="0.7"/>
<circle cx="105.9" cy="499.1" r="2.45" fill="#9aa6dc" stroke="#4a5aa2" stroke-width="1.1"/>
<path d="M105.2,499.30 q1.2,0.90 1.5,-0.50 q0,-1.20 1.6,-1.60" fill="none" stroke="#4a5aa2" stroke-width="0.7"/>
<text transform="translate(256.20,438.90)" font-size="7.3" text-anchor="middle" fill="#222" stroke="#222" stroke-width="0.161">Farage-KO</text>
<line x1="212.30" y1="443.80" x2="212.30" y2="505.90" stroke="#000" stroke-width="1.25"/>
<line x1="211.70" y1="505.20" x2="301.60" y2="505.20" stroke="#000" stroke-width="1.25"/>
<line x1="209.10" y1="445.90" x2="212.30" y2="445.90" stroke="#111" stroke-width="1.0"/>
<text transform="translate(207.30,448.00) scale(0.95,1)" font-size="6.2" text-anchor="end" fill="#1c1c1c" stroke="#1c1c1c" stroke-width="0.136">2.0</text>
<line x1="209.10" y1="460.68" x2="212.30" y2="460.68" stroke="#111" stroke-width="1.0"/>
<text transform="translate(207.30,462.78) scale(0.95,1)" font-size="6.2" text-anchor="end" fill="#1c1c1c" stroke="#1c1c1c" stroke-width="0.136">1.5</text>
<line x1="209.10" y1="475.45" x2="212.30" y2="475.45" stroke="#111" stroke-width="1.0"/>
<text transform="translate(207.30,477.55) scale(0.95,1)" font-size="6.2" text-anchor="end" fill="#1c1c1c" stroke="#1c1c1c" stroke-width="0.136">1.0</text>
<line x1="209.10" y1="490.23" x2="212.30" y2="490.23" stroke="#111" stroke-width="1.0"/>
<text transform="translate(207.30,492.33) scale(0.95,1)" font-size="6.2" text-anchor="end" fill="#1c1c1c" stroke="#1c1c1c" stroke-width="0.136">0.5</text>
<line x1="209.10" y1="505.00" x2="212.30" y2="505.00" stroke="#111" stroke-width="1.0"/>
<text transform="translate(207.30,507.10) scale(0.95,1)" font-size="6.2" text-anchor="end" fill="#1c1c1c" stroke="#1c1c1c" stroke-width="0.136">0.0</text>
<line x1="212.30" y1="505.20" x2="212.30" y2="508.20" stroke="#111" stroke-width="1.0"/>
<line x1="238.70" y1="505.20" x2="238.70" y2="508.20" stroke="#111" stroke-width="1.0"/>
<line x1="264.80" y1="505.20" x2="264.80" y2="508.20" stroke="#111" stroke-width="1.0"/>
<line x1="291.70" y1="505.20" x2="291.70" y2="508.20" stroke="#111" stroke-width="1.0"/>
<text transform="translate(238.70,515.90) scale(0.95,1)" font-size="5.7" text-anchor="middle" fill="#1c1c1c" stroke="#1c1c1c" stroke-width="0.125">24</text>
<text transform="translate(264.80,515.90) scale(0.95,1)" font-size="5.7" text-anchor="middle" fill="#1c1c1c" stroke="#1c1c1c" stroke-width="0.125">48</text>
<text transform="translate(291.70,515.90) scale(0.95,1)" font-size="5.7" text-anchor="middle" fill="#1c1c1c" stroke="#1c1c1c" stroke-width="0.125">72</text>
<text transform="translate(256.70,526.10) scale(0.8,1)" font-size="7.3" text-anchor="middle" fill="#333" stroke="#333" stroke-width="0.058">Time (hours)</text>
<text transform="translate(184.60,473.50) rotate(-90) scale(0.8,1)" font-size="7.3" text-anchor="middle" fill="#333" stroke="#333" stroke-width="0.058">Relative number of</text>
<text transform="translate(195.40,473.50) rotate(-90) scale(0.8,1)" font-size="7.3" text-anchor="middle" fill="#333" stroke="#333" stroke-width="0.058">proliferating cells</text>
<line x1="238.70" y1="474.56" x2="238.70" y2="472.20" stroke="#111" stroke-width="0.8"/>
<line x1="237.50" y1="472.20" x2="239.90" y2="472.20" stroke="#111" stroke-width="0.7"/>
<line x1="237.50" y1="474.56" x2="239.90" y2="474.56" stroke="#111" stroke-width="0.7"/>
<line x1="264.80" y1="465.99" x2="264.80" y2="461.86" stroke="#111" stroke-width="0.8"/>
<line x1="263.60" y1="461.86" x2="266.00" y2="461.86" stroke="#111" stroke-width="0.7"/>
<line x1="263.60" y1="465.99" x2="266.00" y2="465.99" stroke="#111" stroke-width="0.7"/>
<line x1="291.70" y1="457.42" x2="291.70" y2="454.47" stroke="#111" stroke-width="0.8"/>
<line x1="290.50" y1="454.47" x2="292.90" y2="454.47" stroke="#111" stroke-width="0.7"/>
<line x1="290.50" y1="457.42" x2="292.90" y2="457.42" stroke="#111" stroke-width="0.7"/>
<line x1="238.70" y1="478.40" x2="238.70" y2="474.86" stroke="#111" stroke-width="0.8"/>
<line x1="237.50" y1="474.86" x2="239.90" y2="474.86" stroke="#111" stroke-width="0.7"/>
<line x1="237.50" y1="478.40" x2="239.90" y2="478.40" stroke="#111" stroke-width="0.7"/>
<line x1="264.80" y1="470.87" x2="264.80" y2="466.14" stroke="#111" stroke-width="0.8"/>
<line x1="263.60" y1="466.14" x2="266.00" y2="466.14" stroke="#111" stroke-width="0.7"/>
<line x1="263.60" y1="470.87" x2="266.00" y2="470.87" stroke="#111" stroke-width="0.7"/>
<line x1="291.70" y1="463.33" x2="291.70" y2="457.42" stroke="#111" stroke-width="0.8"/>
<line x1="290.50" y1="457.42" x2="292.90" y2="457.42" stroke="#111" stroke-width="0.7"/>
<line x1="290.50" y1="463.33" x2="292.90" y2="463.33" stroke="#111" stroke-width="0.7"/>
<line x1="238.70" y1="476.04" x2="238.70" y2="470.72" stroke="#111" stroke-width="0.8"/>
<line x1="237.50" y1="470.72" x2="239.90" y2="470.72" stroke="#111" stroke-width="0.7"/>
<line x1="237.50" y1="476.04" x2="239.90" y2="476.04" stroke="#111" stroke-width="0.7"/>
<line x1="264.80" y1="472.94" x2="264.80" y2="469.39" stroke="#111" stroke-width="0.8"/>
<line x1="263.60" y1="469.39" x2="266.00" y2="469.39" stroke="#111" stroke-width="0.7"/>
<line x1="263.60" y1="472.94" x2="266.00" y2="472.94" stroke="#111" stroke-width="0.7"/>
<line x1="291.70" y1="463.33" x2="291.70" y2="455.65" stroke="#111" stroke-width="0.8"/>
<line x1="290.50" y1="455.65" x2="292.90" y2="455.65" stroke="#111" stroke-width="0.7"/>
<line x1="290.50" y1="463.33" x2="292.90" y2="463.33" stroke="#111" stroke-width="0.7"/>
<polyline points="212.30,475.45 238.70,473.38 264.80,463.93 291.70,455.95" fill="none" stroke="#6cb33e" stroke-width="0.8" stroke-linejoin="round"/>
<circle cx="212.30" cy="475.45" r="1.15" fill="#6cb33e"/>
<circle cx="238.70" cy="473.38" r="1.15" fill="#6cb33e"/>
<circle cx="264.80" cy="463.93" r="1.15" fill="#6cb33e"/>
<circle cx="291.70" cy="455.95" r="1.15" fill="#6cb33e"/>
<polyline points="212.30,475.45 238.70,476.63 264.80,468.51 291.70,460.38" fill="none" stroke="#2b4a8b" stroke-width="0.8" stroke-linejoin="round"/>
<circle cx="212.30" cy="475.45" r="1.15" fill="#2b4a8b"/>
<circle cx="238.70" cy="476.63" r="1.15" fill="#2b4a8b"/>
<circle cx="264.80" cy="468.51" r="1.15" fill="#2b4a8b"/>
<circle cx="291.70" cy="460.38" r="1.15" fill="#2b4a8b"/>
<polyline points="212.30,475.45 238.70,473.38 264.80,471.17 291.70,459.49" fill="none" stroke="#ae082c" stroke-width="0.8" stroke-linejoin="round"/>
<circle cx="212.30" cy="475.45" r="1.15" fill="#ae082c"/>
<circle cx="238.70" cy="473.38" r="1.15" fill="#ae082c"/>
<circle cx="264.80" cy="471.17" r="1.15" fill="#ae082c"/>
<circle cx="291.70" cy="459.49" r="1.15" fill="#ae082c"/>
<line x1="216.00" y1="446.50" x2="222.30" y2="446.50" stroke="#ae082c" stroke-width="0.8"/>
<circle cx="219.1" cy="446.5" r="1.15" fill="#ae082c"/>
<text transform="translate(225.00,448.10) scale(0.9,1)" font-size="4.8" text-anchor="start" fill="#333" stroke="#333" stroke-width="0.106">si-NC</text>
<line x1="216.00" y1="453.90" x2="222.30" y2="453.90" stroke="#2b4a8b" stroke-width="0.8"/>
<circle cx="219.1" cy="453.9" r="1.15" fill="#2b4a8b"/>
<text transform="translate(225.00,455.50) scale(0.9,1)" font-size="4.8" text-anchor="start" fill="#333" stroke="#333" stroke-width="0.106">si-WTAP-1</text>
<line x1="216.00" y1="461.30" x2="222.30" y2="461.30" stroke="#6cb33e" stroke-width="0.8"/>
<circle cx="219.1" cy="461.3" r="1.15" fill="#6cb33e"/>
<text transform="translate(225.00,462.90) scale(0.9,1)" font-size="4.8" text-anchor="start" fill="#333" stroke="#333" stroke-width="0.106">si-WTAP-2</text>
<path d="M294.6,456.4 h1.3 v6.0 h-1.3" fill="none" stroke="#111" stroke-width="0.8"/>
<text transform="translate(297.40,460.60)" font-size="3.4" text-anchor="start" fill="#222" stroke="#222" stroke-width="0.075">ns</text>
<text transform="translate(7.00,12.90) scale(0.93,1)" font-size="7.7" text-anchor="start" fill="#0c0c0c" font-weight="bold">A</text>
<text transform="translate(158.80,12.30) scale(0.85,1)" font-size="7.7" text-anchor="start" fill="#0c0c0c" font-weight="bold">B</text>
<text transform="translate(7.40,69.60) scale(0.85,1)" font-size="7.7" text-anchor="start" fill="#0c0c0c" font-weight="bold">C</text>
<text transform="translate(6.90,202.30) scale(0.85,1)" font-size="7.7" text-anchor="start" fill="#0c0c0c" font-weight="bold">D</text>
<text transform="translate(360.60,202.00) scale(0.78,1)" font-size="7.7" text-anchor="start" fill="#0c0c0c" font-weight="bold">E</text>
<text transform="translate(7.60,325.70) scale(0.8,1)" font-size="7.7" text-anchor="start" fill="#0c0c0c" font-weight="bold">F</text>
<text transform="translate(154.80,325.70) scale(0.85,1)" font-size="7.7" text-anchor="start" fill="#0c0c0c" font-weight="bold">G</text>
<text transform="translate(295.20,325.70) scale(0.85,1)" font-size="7.7" text-anchor="start" fill="#0c0c0c" font-weight="bold">H</text>
<text transform="translate(7.80,431.90) scale(0.9,1)" font-size="7.7" text-anchor="start" fill="#0c0c0c" font-weight="bold">I</text>
<text transform="translate(174.80,431.90) scale(0.9,1)" font-size="7.7" text-anchor="start" fill="#0c0c0c" font-weight="bold">J</text>
</g>
<rect x="0" y="0" width="1.1" height="535" fill="#111"/><rect x="0" y="0" width="520" height="1.1" fill="#111"/><rect x="518.85" y="0" width="1.15" height="535" fill="#111"/><rect x="0" y="533.55" width="520" height="1.45" fill="#111"/>
</svg>
</body></html>
